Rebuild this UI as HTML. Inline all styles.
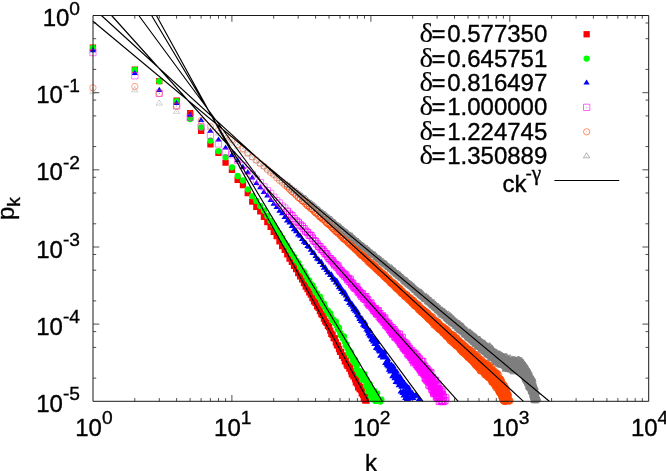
<!DOCTYPE html>
<html lang="en"><head><meta charset="utf-8"><title>p_k vs k</title>
<style>
html,body{margin:0;padding:0;background:#fff}
svg{display:block}
text{font-family:"Liberation Sans",sans-serif;font-size:24px;fill:#000;stroke:#000;stroke-width:.35px}
.g{font-family:"Liberation Serif",serif}
.s{font-size:19.2px}
.d{stroke-width:.1px}
</style></head>
<body>
<svg width="666" height="471" viewBox="0 0 666 471">
<rect width="666" height="471" fill="#fff"/>
<path d="M134.8 401.3v-3.2M134.8 15.5v3.2M159.3 401.3v-3.2M159.3 15.5v3.2M176.6 401.3v-3.2M176.6 15.5v3.2M190.1 401.3v-3.2M190.1 15.5v3.2M201.1 401.3v-3.2M201.1 15.5v3.2M210.4 401.3v-3.2M210.4 15.5v3.2M218.5 401.3v-3.2M218.5 15.5v3.2M225.6 401.3v-3.2M225.6 15.5v3.2M231.9 401.3v-6.3M231.9 15.5v6.3M273.7 401.3v-3.2M273.7 15.5v3.2M298.2 401.3v-3.2M298.2 15.5v3.2M315.6 401.3v-3.2M315.6 15.5v3.2M329 401.3v-3.2M329 15.5v3.2M340 401.3v-3.2M340 15.5v3.2M349.3 401.3v-3.2M349.3 15.5v3.2M357.4 401.3v-3.2M357.4 15.5v3.2M364.5 401.3v-3.2M364.5 15.5v3.2M370.9 401.3v-6.3M370.9 15.5v6.3M412.7 401.3v-3.2M412.7 15.5v3.2M437.1 401.3v-3.2M437.1 15.5v3.2M454.5 401.3v-3.2M454.5 15.5v3.2M468 401.3v-3.2M468 15.5v3.2M479 401.3v-3.2M479 15.5v3.2M488.3 401.3v-3.2M488.3 15.5v3.2M496.3 401.3v-3.2M496.3 15.5v3.2M503.4 401.3v-3.2M503.4 15.5v3.2M509.8 401.3v-6.3M509.8 15.5v6.3M551.6 401.3v-3.2M551.6 15.5v3.2M576.1 401.3v-3.2M576.1 15.5v3.2M593.4 401.3v-3.2M593.4 15.5v3.2M606.9 401.3v-3.2M606.9 15.5v3.2M617.9 401.3v-3.2M617.9 15.5v3.2M627.2 401.3v-3.2M627.2 15.5v3.2M635.2 401.3v-3.2M635.2 15.5v3.2M642.3 401.3v-3.2M642.3 15.5v3.2M93 23h3.2M648.7 23h-3.2M93 38.7h3.2M648.7 38.7h-3.2M93 69.4h3.2M648.7 69.4h-3.2M93 92.7h6.3M648.7 92.7h-6.3M93 100.1h3.2M648.7 100.1h-3.2M93 115.9h3.2M648.7 115.9h-3.2M93 146.6h3.2M648.7 146.6h-3.2M93 169.8h6.3M648.7 169.8h-6.3M93 177.3h3.2M648.7 177.3h-3.2M93 193h3.2M648.7 193h-3.2M93 223.8h3.2M648.7 223.8h-3.2M93 247h6.3M648.7 247h-6.3M93 254.5h3.2M648.7 254.5h-3.2M93 270.2h3.2M648.7 270.2h-3.2M93 300.9h3.2M648.7 300.9h-3.2M93 324.1h6.3M648.7 324.1h-6.3M93 331.6h3.2M648.7 331.6h-3.2M93 347.4h3.2M648.7 347.4h-3.2M93 378.1h3.2M648.7 378.1h-3.2" fill="none" stroke="#222" stroke-width="0.8"/>
<path d="M89.8 44.6h6.3v6.3h-6.3zM131.7 66.5h6.3v6.3h-6.3zM156.1 78h6.3v6.3h-6.3zM173.5 97.6h6.3v6.3h-6.3zM187 110h6.3v6.3h-6.3zM198 127.7h6.3v6.3h-6.3zM207.3 141.3h6.3v6.3h-6.3zM215.3 149.8h6.3v6.3h-6.3zM222.4 159.4h6.3v6.3h-6.3zM228.8 166.6h6.3v6.3h-6.3zM234.5 176.8h6.3v6.3h-6.3zM239.8 181.9h6.3v6.3h-6.3zM244.6 190h6.3v6.3h-6.3zM249.1 198.5h6.3v6.3h-6.3zM253.2 203.6h6.3v6.3h-6.3zM257.1 208.2h6.3v6.3h-6.3zM260.8 213.6h6.3v6.3h-6.3zM264.2 219h6.3v6.3h-6.3zM267.5 223.8h6.3v6.3h-6.3zM270.6 228.7h6.3v6.3h-6.3zM273.5 233h6.3v6.3h-6.3zM276.3 238.2h6.3v6.3h-6.3zM279 242.9h6.3v6.3h-6.3zM281.6 246.8h6.3v6.3h-6.3zM284.1 251.3h6.3v6.3h-6.3zM286.4 255.5h6.3v6.3h-6.3zM288.7 258.8h6.3v6.3h-6.3zM290.9 262.8h6.3v6.3h-6.3zM293 265.9h6.3v6.3h-6.3zM295.1 269.9h6.3v6.3h-6.3zM297 273.3h6.3v6.3h-6.3zM299 276.1h6.3v6.3h-6.3zM300.8 280h6.3v6.3h-6.3zM302.6 283.4h6.3v6.3h-6.3zM304.4 285.9h6.3v6.3h-6.3zM306.1 289.3h6.3v6.3h-6.3zM307.7 291.5h6.3v6.3h-6.3zM309.3 294.9h6.3v6.3h-6.3zM310.9 298.1h6.3v6.3h-6.3zM312.4 299.7h6.3v6.3h-6.3zM313.9 303.3h6.3v6.3h-6.3zM315.4 304.7h6.3v6.3h-6.3zM316.8 307.9h6.3v6.3h-6.3zM318.2 310.9h6.3v6.3h-6.3zM319.5 312h6.3v6.3h-6.3zM320.8 315.4h6.3v6.3h-6.3zM322.1 318.3h6.3v6.3h-6.3zM323.4 319.7h6.3v6.3h-6.3zM324.7 322.8h6.3v6.3h-6.3zM325.9 324h6.3v6.3h-6.3zM327.1 327.4h6.3v6.3h-6.3zM328.2 330.6h6.3v6.3h-6.3zM329.4 331.7h6.3v6.3h-6.3zM330.5 334.9h6.3v6.3h-6.3zM331.6 335.3h6.3v6.3h-6.3zM332.7 339.2h6.3v6.3h-6.3zM333.8 342h6.3v6.3h-6.3zM334.8 342.4h6.3v6.3h-6.3zM335.9 346h6.3v6.3h-6.3zM336.9 348.8h6.3v6.3h-6.3zM337.9 348.8h6.3v6.3h-6.3zM338.9 352.6h6.3v6.3h-6.3zM339.8 352.2h6.3v6.3h-6.3zM340.8 354.8h6.3v6.3h-6.3zM341.7 358.1h6.3v6.3h-6.3zM342.6 357.4h6.3v6.3h-6.3zM343.5 361.1h6.3v6.3h-6.3zM344.4 362.8h6.3v6.3h-6.3zM345.3 362.8h6.3v6.3h-6.3zM346.2 365.5h6.3v6.3h-6.3zM347 364.3h6.3v6.3h-6.3zM347.9 368.2h6.3v6.3h-6.3zM348.7 371.1h6.3v6.3h-6.3zM349.5 370.1h6.3v6.3h-6.3zM350.3 373.3h6.3v6.3h-6.3zM351.1 371.1h6.3v6.3h-6.3zM351.9 375.9h6.3v6.3h-6.3zM352.7 379.3h6.3v6.3h-6.3zM353.5 377h6.3v6.3h-6.3zM354.2 380.6h6.3v6.3h-6.3zM355 384.2h6.3v6.3h-6.3zM355.7 382.5h6.3v6.3h-6.3zM356.5 385.9h6.3v6.3h-6.3zM357.2 383.7h6.3v6.3h-6.3zM357.9 386.9h6.3v6.3h-6.3zM358.6 390.2h6.3v6.3h-6.3zM359.3 388.4h6.3v6.3h-6.3zM360 391.7h6.3v6.3h-6.3zM360.7 395h6.3v6.3h-6.3zM361.3 393.4h6.3v6.3h-6.3zM362 397.2h6.3v6.3h-6.3zM362.7 394.2h6.3v6.3h-6.3zM363.3 397.4h6.3v6.3h-6.3z" fill="#ff0000"/>
<path d="M89.8 47.7a3.1 3.1 0 1 0 6.3 0a3.1 3.1 0 1 0 -6.3 0zM131.7 69.7a3.1 3.1 0 1 0 6.3 0a3.1 3.1 0 1 0 -6.3 0zM156.1 81.2a3.1 3.1 0 1 0 6.3 0a3.1 3.1 0 1 0 -6.3 0zM173.5 101.2a3.1 3.1 0 1 0 6.3 0a3.1 3.1 0 1 0 -6.3 0zM187 119a3.1 3.1 0 1 0 6.3 0a3.1 3.1 0 1 0 -6.3 0zM198 127.5a3.1 3.1 0 1 0 6.3 0a3.1 3.1 0 1 0 -6.3 0zM207.3 140.7a3.1 3.1 0 1 0 6.3 0a3.1 3.1 0 1 0 -6.3 0zM215.3 151.1a3.1 3.1 0 1 0 6.3 0a3.1 3.1 0 1 0 -6.3 0zM222.4 157.2a3.1 3.1 0 1 0 6.3 0a3.1 3.1 0 1 0 -6.3 0zM228.8 167.3a3.1 3.1 0 1 0 6.3 0a3.1 3.1 0 1 0 -6.3 0zM234.5 176a3.1 3.1 0 1 0 6.3 0a3.1 3.1 0 1 0 -6.3 0zM239.8 180.5a3.1 3.1 0 1 0 6.3 0a3.1 3.1 0 1 0 -6.3 0zM244.6 189.3a3.1 3.1 0 1 0 6.3 0a3.1 3.1 0 1 0 -6.3 0zM249.1 196.2a3.1 3.1 0 1 0 6.3 0a3.1 3.1 0 1 0 -6.3 0zM253.2 200.9a3.1 3.1 0 1 0 6.3 0a3.1 3.1 0 1 0 -6.3 0zM257.1 206a3.1 3.1 0 1 0 6.3 0a3.1 3.1 0 1 0 -6.3 0zM260.8 210.4a3.1 3.1 0 1 0 6.3 0a3.1 3.1 0 1 0 -6.3 0zM264.2 216a3.1 3.1 0 1 0 6.3 0a3.1 3.1 0 1 0 -6.3 0zM267.5 221a3.1 3.1 0 1 0 6.3 0a3.1 3.1 0 1 0 -6.3 0zM270.6 225a3.1 3.1 0 1 0 6.3 0a3.1 3.1 0 1 0 -6.3 0zM273.5 229.8a3.1 3.1 0 1 0 6.3 0a3.1 3.1 0 1 0 -6.3 0zM276.3 233.3a3.1 3.1 0 1 0 6.3 0a3.1 3.1 0 1 0 -6.3 0zM279 238a3.1 3.1 0 1 0 6.3 0a3.1 3.1 0 1 0 -6.3 0zM281.6 242.6a3.1 3.1 0 1 0 6.3 0a3.1 3.1 0 1 0 -6.3 0zM284.1 245.6a3.1 3.1 0 1 0 6.3 0a3.1 3.1 0 1 0 -6.3 0zM286.4 250.1a3.1 3.1 0 1 0 6.3 0a3.1 3.1 0 1 0 -6.3 0zM288.7 253.9a3.1 3.1 0 1 0 6.3 0a3.1 3.1 0 1 0 -6.3 0zM290.9 256.7a3.1 3.1 0 1 0 6.3 0a3.1 3.1 0 1 0 -6.3 0zM293 260.6a3.1 3.1 0 1 0 6.3 0a3.1 3.1 0 1 0 -6.3 0zM295.1 262.8a3.1 3.1 0 1 0 6.3 0a3.1 3.1 0 1 0 -6.3 0zM297 266.9a3.1 3.1 0 1 0 6.3 0a3.1 3.1 0 1 0 -6.3 0zM299 270.5a3.1 3.1 0 1 0 6.3 0a3.1 3.1 0 1 0 -6.3 0zM300.8 272a3.1 3.1 0 1 0 6.3 0a3.1 3.1 0 1 0 -6.3 0zM302.6 275.6a3.1 3.1 0 1 0 6.3 0a3.1 3.1 0 1 0 -6.3 0zM304.4 279.2a3.1 3.1 0 1 0 6.3 0a3.1 3.1 0 1 0 -6.3 0zM306.1 280.7a3.1 3.1 0 1 0 6.3 0a3.1 3.1 0 1 0 -6.3 0zM307.7 284.2a3.1 3.1 0 1 0 6.3 0a3.1 3.1 0 1 0 -6.3 0zM309.3 285.4a3.1 3.1 0 1 0 6.3 0a3.1 3.1 0 1 0 -6.3 0zM310.9 288.7a3.1 3.1 0 1 0 6.3 0a3.1 3.1 0 1 0 -6.3 0zM312.4 292.4a3.1 3.1 0 1 0 6.3 0a3.1 3.1 0 1 0 -6.3 0zM313.9 293.4a3.1 3.1 0 1 0 6.3 0a3.1 3.1 0 1 0 -6.3 0zM315.4 296.6a3.1 3.1 0 1 0 6.3 0a3.1 3.1 0 1 0 -6.3 0zM316.8 296.6a3.1 3.1 0 1 0 6.3 0a3.1 3.1 0 1 0 -6.3 0zM318.2 300.4a3.1 3.1 0 1 0 6.3 0a3.1 3.1 0 1 0 -6.3 0zM319.5 304.1a3.1 3.1 0 1 0 6.3 0a3.1 3.1 0 1 0 -6.3 0zM320.8 304a3.1 3.1 0 1 0 6.3 0a3.1 3.1 0 1 0 -6.3 0zM322.1 307.7a3.1 3.1 0 1 0 6.3 0a3.1 3.1 0 1 0 -6.3 0zM323.4 310.4a3.1 3.1 0 1 0 6.3 0a3.1 3.1 0 1 0 -6.3 0zM324.7 310.7a3.1 3.1 0 1 0 6.3 0a3.1 3.1 0 1 0 -6.3 0zM325.9 314a3.1 3.1 0 1 0 6.3 0a3.1 3.1 0 1 0 -6.3 0zM327.1 313.4a3.1 3.1 0 1 0 6.3 0a3.1 3.1 0 1 0 -6.3 0zM328.2 317.1a3.1 3.1 0 1 0 6.3 0a3.1 3.1 0 1 0 -6.3 0zM329.4 320.4a3.1 3.1 0 1 0 6.3 0a3.1 3.1 0 1 0 -6.3 0zM330.5 320a3.1 3.1 0 1 0 6.3 0a3.1 3.1 0 1 0 -6.3 0zM331.6 323.1a3.1 3.1 0 1 0 6.3 0a3.1 3.1 0 1 0 -6.3 0zM332.7 321.7a3.1 3.1 0 1 0 6.3 0a3.1 3.1 0 1 0 -6.3 0zM333.8 325.9a3.1 3.1 0 1 0 6.3 0a3.1 3.1 0 1 0 -6.3 0zM334.8 329.3a3.1 3.1 0 1 0 6.3 0a3.1 3.1 0 1 0 -6.3 0zM335.9 327.9a3.1 3.1 0 1 0 6.3 0a3.1 3.1 0 1 0 -6.3 0zM336.9 332.6a3.1 3.1 0 1 0 6.3 0a3.1 3.1 0 1 0 -6.3 0zM337.9 335.6a3.1 3.1 0 1 0 6.3 0a3.1 3.1 0 1 0 -6.3 0zM338.9 335.7a3.1 3.1 0 1 0 6.3 0a3.1 3.1 0 1 0 -6.3 0zM339.8 338.6a3.1 3.1 0 1 0 6.3 0a3.1 3.1 0 1 0 -6.3 0zM340.8 336.4a3.1 3.1 0 1 0 6.3 0a3.1 3.1 0 1 0 -6.3 0zM341.7 341.8a3.1 3.1 0 1 0 6.3 0a3.1 3.1 0 1 0 -6.3 0zM342.6 345.5a3.1 3.1 0 1 0 6.3 0a3.1 3.1 0 1 0 -6.3 0zM343.5 344.4a3.1 3.1 0 1 0 6.3 0a3.1 3.1 0 1 0 -6.3 0zM344.4 348.6a3.1 3.1 0 1 0 6.3 0a3.1 3.1 0 1 0 -6.3 0zM345.3 352.9a3.1 3.1 0 1 0 6.3 0a3.1 3.1 0 1 0 -6.3 0zM346.2 350.6a3.1 3.1 0 1 0 6.3 0a3.1 3.1 0 1 0 -6.3 0zM347 355.4a3.1 3.1 0 1 0 6.3 0a3.1 3.1 0 1 0 -6.3 0zM347.9 352.4a3.1 3.1 0 1 0 6.3 0a3.1 3.1 0 1 0 -6.3 0zM348.7 357.1a3.1 3.1 0 1 0 6.3 0a3.1 3.1 0 1 0 -6.3 0zM349.5 360.3a3.1 3.1 0 1 0 6.3 0a3.1 3.1 0 1 0 -6.3 0zM350.3 359a3.1 3.1 0 1 0 6.3 0a3.1 3.1 0 1 0 -6.3 0zM351.1 362.4a3.1 3.1 0 1 0 6.3 0a3.1 3.1 0 1 0 -6.3 0zM351.9 359.6a3.1 3.1 0 1 0 6.3 0a3.1 3.1 0 1 0 -6.3 0zM352.7 364.9a3.1 3.1 0 1 0 6.3 0a3.1 3.1 0 1 0 -6.3 0zM353.5 369.2a3.1 3.1 0 1 0 6.3 0a3.1 3.1 0 1 0 -6.3 0zM354.2 364.4a3.1 3.1 0 1 0 6.3 0a3.1 3.1 0 1 0 -6.3 0zM355 371a3.1 3.1 0 1 0 6.3 0a3.1 3.1 0 1 0 -6.3 0zM355.7 373.6a3.1 3.1 0 1 0 6.3 0a3.1 3.1 0 1 0 -6.3 0zM356.5 371.1a3.1 3.1 0 1 0 6.3 0a3.1 3.1 0 1 0 -6.3 0zM357.2 375.2a3.1 3.1 0 1 0 6.3 0a3.1 3.1 0 1 0 -6.3 0zM357.9 371.7a3.1 3.1 0 1 0 6.3 0a3.1 3.1 0 1 0 -6.3 0zM358.6 375.5a3.1 3.1 0 1 0 6.3 0a3.1 3.1 0 1 0 -6.3 0zM359.3 379.8a3.1 3.1 0 1 0 6.3 0a3.1 3.1 0 1 0 -6.3 0zM360 375.8a3.1 3.1 0 1 0 6.3 0a3.1 3.1 0 1 0 -6.3 0zM360.7 379.7a3.1 3.1 0 1 0 6.3 0a3.1 3.1 0 1 0 -6.3 0zM361.3 374.2a3.1 3.1 0 1 0 6.3 0a3.1 3.1 0 1 0 -6.3 0zM362 380.5a3.1 3.1 0 1 0 6.3 0a3.1 3.1 0 1 0 -6.3 0zM362.7 385.6a3.1 3.1 0 1 0 6.3 0a3.1 3.1 0 1 0 -6.3 0zM363.3 379.5a3.1 3.1 0 1 0 6.3 0a3.1 3.1 0 1 0 -6.3 0zM364 386.9a3.1 3.1 0 1 0 6.3 0a3.1 3.1 0 1 0 -6.3 0zM364.6 391.2a3.1 3.1 0 1 0 6.3 0a3.1 3.1 0 1 0 -6.3 0zM365.2 385.8a3.1 3.1 0 1 0 6.3 0a3.1 3.1 0 1 0 -6.3 0zM365.9 390.2a3.1 3.1 0 1 0 6.3 0a3.1 3.1 0 1 0 -6.3 0zM366.5 383.9a3.1 3.1 0 1 0 6.3 0a3.1 3.1 0 1 0 -6.3 0zM367.1 391.5a3.1 3.1 0 1 0 6.3 0a3.1 3.1 0 1 0 -6.3 0zM367.7 396.2a3.1 3.1 0 1 0 6.3 0a3.1 3.1 0 1 0 -6.3 0zM368.3 389a3.1 3.1 0 1 0 6.3 0a3.1 3.1 0 1 0 -6.3 0zM368.9 393.9a3.1 3.1 0 1 0 6.3 0a3.1 3.1 0 1 0 -6.3 0zM369.5 399.3a3.1 3.1 0 1 0 6.3 0a3.1 3.1 0 1 0 -6.3 0zM370.1 393.8a3.1 3.1 0 1 0 6.3 0a3.1 3.1 0 1 0 -6.3 0zM370.6 398.6a3.1 3.1 0 1 0 6.3 0a3.1 3.1 0 1 0 -6.3 0zM371.2 390.9a3.1 3.1 0 1 0 6.3 0a3.1 3.1 0 1 0 -6.3 0zM371.8 396.4a3.1 3.1 0 1 0 6.3 0a3.1 3.1 0 1 0 -6.3 0zM372.3 400.9a3.1 3.1 0 1 0 6.3 0a3.1 3.1 0 1 0 -6.3 0zM372.9 394.6a3.1 3.1 0 1 0 6.3 0a3.1 3.1 0 1 0 -6.3 0zM374 393.3a3.1 3.1 0 1 0 6.3 0a3.1 3.1 0 1 0 -6.3 0zM374.5 399.7a3.1 3.1 0 1 0 6.3 0a3.1 3.1 0 1 0 -6.3 0zM375.6 399.4a3.1 3.1 0 1 0 6.3 0a3.1 3.1 0 1 0 -6.3 0zM377.2 401.6a3.1 3.1 0 1 0 6.3 0a3.1 3.1 0 1 0 -6.3 0zM378.2 399.7a3.1 3.1 0 1 0 6.3 0a3.1 3.1 0 1 0 -6.3 0z" fill="#00ff00"/>
<path d="M93 47.1l3.1 5.1h-6.3zM134.8 70l3.1 5.1h-6.3zM159.3 86.8l3.1 5.1h-6.3zM176.6 100l3.1 5.1h-6.3zM190.1 111.8l3.1 5.1h-6.3zM201.1 116.9l3.1 5.1h-6.3zM210.4 127.7l3.1 5.1h-6.3zM218.5 136.5l3.1 5.1h-6.3zM225.6 144.4l3.1 5.1h-6.3zM231.9 151.8l3.1 5.1h-6.3zM237.7 157.2l3.1 5.1h-6.3zM242.9 163.8l3.1 5.1h-6.3zM247.8 169.1l3.1 5.1h-6.3zM252.2 174.5l3.1 5.1h-6.3zM256.4 179.9l3.1 5.1h-6.3zM260.3 184.2l3.1 5.1h-6.3zM263.9 188.8l3.1 5.1h-6.3zM267.4 192.3l3.1 5.1h-6.3zM270.7 196.8l3.1 5.1h-6.3zM273.7 200.7l3.1 5.1h-6.3zM276.7 203.8l3.1 5.1h-6.3zM279.5 207.7l3.1 5.1h-6.3zM282.2 210.2l3.1 5.1h-6.3zM284.7 214l3.1 5.1h-6.3zM287.2 217.4l3.1 5.1h-6.3zM289.6 219.4l3.1 5.1h-6.3zM291.9 222.9l3.1 5.1h-6.3zM294 226.2l3.1 5.1h-6.3zM296.2 228.1l3.1 5.1h-6.3zM298.2 231.4l3.1 5.1h-6.3zM300.2 232.7l3.1 5.1h-6.3zM302.1 235.9l3.1 5.1h-6.3zM304 238.6l3.1 5.1h-6.3zM305.8 239.8l3.1 5.1h-6.3zM307.5 242.9l3.1 5.1h-6.3zM309.2 243.7l3.1 5.1h-6.3zM310.9 246.6l3.1 5.1h-6.3zM312.5 249.7l3.1 5.1h-6.3zM314 249.8l3.1 5.1h-6.3zM315.6 253l3.1 5.1h-6.3zM317.1 255.4l3.1 5.1h-6.3zM318.5 256.2l3.1 5.1h-6.3zM319.9 259l3.1 5.1h-6.3zM321.3 258.8l3.1 5.1h-6.3zM322.7 261.9l3.1 5.1h-6.3zM324 264.6l3.1 5.1h-6.3zM325.3 264.3l3.1 5.1h-6.3zM326.6 267l3.1 5.1h-6.3zM327.8 269.3l3.1 5.1h-6.3zM329 269.5l3.1 5.1h-6.3zM330.2 272l3.1 5.1h-6.3zM331.4 271.3l3.1 5.1h-6.3zM332.5 274.7l3.1 5.1h-6.3zM333.7 276.6l3.1 5.1h-6.3zM334.8 276l3.1 5.1h-6.3zM335.9 279.3l3.1 5.1h-6.3zM336.9 277.8l3.1 5.1h-6.3zM338 281.3l3.1 5.1h-6.3zM339 284.1l3.1 5.1h-6.3zM340 282.8l3.1 5.1h-6.3zM341 285.8l3.1 5.1h-6.3zM342 288.9l3.1 5.1h-6.3zM343 287.5l3.1 5.1h-6.3zM343.9 290.5l3.1 5.1h-6.3zM344.9 289.3l3.1 5.1h-6.3zM345.8 292.5l3.1 5.1h-6.3zM346.7 295.8l3.1 5.1h-6.3zM347.6 294.2l3.1 5.1h-6.3zM348.5 296.7l3.1 5.1h-6.3zM349.3 300l3.1 5.1h-6.3zM350.2 298.9l3.1 5.1h-6.3zM351 301.6l3.1 5.1h-6.3zM351.9 300.4l3.1 5.1h-6.3zM352.7 303.5l3.1 5.1h-6.3zM353.5 306.1l3.1 5.1h-6.3zM354.3 304.2l3.1 5.1h-6.3zM355.1 307.6l3.1 5.1h-6.3zM355.9 305.9l3.1 5.1h-6.3zM356.6 309.2l3.1 5.1h-6.3zM357.4 311.8l3.1 5.1h-6.3zM358.1 309.3l3.1 5.1h-6.3zM358.9 313.5l3.1 5.1h-6.3zM359.6 316l3.1 5.1h-6.3zM360.3 314.7l3.1 5.1h-6.3zM361 317.8l3.1 5.1h-6.3zM361.8 315.1l3.1 5.1h-6.3zM362.4 318.5l3.1 5.1h-6.3zM363.1 321.7l3.1 5.1h-6.3zM363.8 318.8l3.1 5.1h-6.3zM364.5 322.8l3.1 5.1h-6.3zM365.2 319.4l3.1 5.1h-6.3zM365.8 323.6l3.1 5.1h-6.3zM366.5 326.5l3.1 5.1h-6.3zM367.1 323.9l3.1 5.1h-6.3zM367.8 327.7l3.1 5.1h-6.3zM368.4 330.3l3.1 5.1h-6.3zM369 328.1l3.1 5.1h-6.3zM369.6 332.3l3.1 5.1h-6.3zM370.2 327.7l3.1 5.1h-6.3zM370.9 333.3l3.1 5.1h-6.3zM371.5 336.1l3.1 5.1h-6.3zM372 333l3.1 5.1h-6.3zM372.6 337l3.1 5.1h-6.3zM373.2 338.5l3.1 5.1h-6.3zM373.8 335.6l3.1 5.1h-6.3zM374.4 340.9l3.1 5.1h-6.3zM374.9 335.9l3.1 5.1h-6.3zM375.5 340.6l3.1 5.1h-6.3zM376 344.7l3.1 5.1h-6.3zM376.6 340.8l3.1 5.1h-6.3zM377.1 345.1l3.1 5.1h-6.3zM377.7 339l3.1 5.1h-6.3zM378.2 345.7l3.1 5.1h-6.3zM378.8 347.3l3.1 5.1h-6.3zM379.3 344.6l3.1 5.1h-6.3zM379.8 348.5l3.1 5.1h-6.3zM380.3 352.7l3.1 5.1h-6.3zM380.8 348.1l3.1 5.1h-6.3zM381.3 352.7l3.1 5.1h-6.3zM381.9 347.8l3.1 5.1h-6.3zM382.4 351.6l3.1 5.1h-6.3zM382.8 354.4l3.1 5.1h-6.3zM383.3 350.4l3.1 5.1h-6.3zM383.8 354.1l3.1 5.1h-6.3zM384.3 348.6l3.1 5.1h-6.3zM384.8 354.3l3.1 5.1h-6.3zM385.3 359.8l3.1 5.1h-6.3zM385.7 352.9l3.1 5.1h-6.3zM386.2 359.1l3.1 5.1h-6.3zM386.7 361.5l3.1 5.1h-6.3zM387.1 357.7l3.1 5.1h-6.3zM387.6 362.4l3.1 5.1h-6.3zM388.1 356.2l3.1 5.1h-6.3zM388.5 363.4l3.1 5.1h-6.3zM389 366.6l3.1 5.1h-6.3zM389.4 360.5l3.1 5.1h-6.3zM389.8 364.6l3.1 5.1h-6.3zM390.3 368.5l3.1 5.1h-6.3zM390.7 365.5l3.1 5.1h-6.3zM391.2 367.6l3.1 5.1h-6.3zM391.6 361.4l3.1 5.1h-6.3zM392 368.3l3.1 5.1h-6.3zM392.4 373.1l3.1 5.1h-6.3zM392.9 365.3l3.1 5.1h-6.3zM393.3 371.6l3.1 5.1h-6.3zM393.7 363.5l3.1 5.1h-6.3zM394.1 371.1l3.1 5.1h-6.3zM394.5 375.1l3.1 5.1h-6.3zM394.9 367.1l3.1 5.1h-6.3zM395.3 374.9l3.1 5.1h-6.3zM395.7 379l3.1 5.1h-6.3zM396.1 371l3.1 5.1h-6.3zM396.5 377.7l3.1 5.1h-6.3zM396.9 368.4l3.1 5.1h-6.3zM397.3 375.7l3.1 5.1h-6.3zM397.7 379l3.1 5.1h-6.3zM398.1 373.1l3.1 5.1h-6.3zM398.4 379.4l3.1 5.1h-6.3zM398.8 382.1l3.1 5.1h-6.3zM399.2 377.1l3.1 5.1h-6.3zM399.6 382l3.1 5.1h-6.3zM400 373.2l3.1 5.1h-6.3zM400.3 380.8l3.1 5.1h-6.3zM400.7 388.4l3.1 5.1h-6.3zM401.1 379.5l3.1 5.1h-6.3zM401.4 383.7l3.1 5.1h-6.3zM401.8 376l3.1 5.1h-6.3zM402.2 382.2l3.1 5.1h-6.3zM402.5 389.9l3.1 5.1h-6.3zM402.9 380l3.1 5.1h-6.3zM403.2 388l3.1 5.1h-6.3zM403.6 392.4l3.1 5.1h-6.3zM403.9 383.1l3.1 5.1h-6.3zM404.3 389.5l3.1 5.1h-6.3zM404.6 379.9l3.1 5.1h-6.3zM405 388.1l3.1 5.1h-6.3zM405.3 394.8l3.1 5.1h-6.3zM405.6 387.2l3.1 5.1h-6.3zM406 391.9l3.1 5.1h-6.3zM406.3 382.3l3.1 5.1h-6.3zM406.6 389.3l3.1 5.1h-6.3zM407 396l3.1 5.1h-6.3zM407.3 383.3l3.1 5.1h-6.3zM407.6 392.9l3.1 5.1h-6.3zM408.3 388.9l3.1 5.1h-6.3zM408.6 395.6l3.1 5.1h-6.3zM408.9 384.6l3.1 5.1h-6.3zM409.3 395l3.1 5.1h-6.3zM409.9 388.5l3.1 5.1h-6.3zM410.8 393.4l3.1 5.1h-6.3zM411.5 389.9l3.1 5.1h-6.3zM412.4 389.7l3.1 5.1h-6.3zM413 390.9l3.1 5.1h-6.3zM413.3 395l3.1 5.1h-6.3zM413.9 393.2l3.1 5.1h-6.3zM415.3 391.9l3.1 5.1h-6.3zM416.8 392.6l3.1 5.1h-6.3zM419 395.9l3.1 5.1h-6.3z" fill="#0000ff"/>
<path d="M89.8 49.4h6.3v6.3h-6.3zM131.7 72.6h6.3v6.3h-6.3zM156.1 90.2h6.3v6.3h-6.3zM173.5 102.8h6.3v6.3h-6.3zM187 114.3h6.3v6.3h-6.3zM198 123.8h6.3v6.3h-6.3zM207.3 132.1h6.3v6.3h-6.3zM215.3 140.8h6.3v6.3h-6.3zM222.4 148.8h6.3v6.3h-6.3zM228.8 151.6h6.3v6.3h-6.3zM234.5 157.1h6.3v6.3h-6.3zM239.8 162.6h6.3v6.3h-6.3zM244.6 167.6h6.3v6.3h-6.3zM249.1 171.7h6.3v6.3h-6.3zM253.2 176h6.3v6.3h-6.3zM257.1 179.5h6.3v6.3h-6.3zM260.8 183.7h6.3v6.3h-6.3zM264.2 187.5h6.3v6.3h-6.3zM267.5 190.4h6.3v6.3h-6.3zM270.6 194.1h6.3v6.3h-6.3zM273.5 197.4h6.3v6.3h-6.3zM276.3 199.8h6.3v6.3h-6.3zM279 203h6.3v6.3h-6.3zM281.6 204.9h6.3v6.3h-6.3z" fill="none" stroke="#ff00ff" stroke-width="0.5"/>
<path d="M92.7 52.2h.6v.6h-.6zM134.5 75.5h.6v.6h-.6zM159 93.1h.6v.6h-.6zM176.3 105.7h.6v.6h-.6zM189.8 117.2h.6v.6h-.6zM200.8 126.6h.6v.6h-.6zM210.1 134.9h.6v.6h-.6zM218.2 143.7h.6v.6h-.6zM225.3 151.7h.6v.6h-.6zM231.6 154.5h.6v.6h-.6zM237.4 159.9h.6v.6h-.6zM242.6 165.4h.6v.6h-.6zM247.5 170.4h.6v.6h-.6zM251.9 174.5h.6v.6h-.6zM256.1 178.9h.6v.6h-.6zM260 182.4h.6v.6h-.6zM263.6 186.5h.6v.6h-.6zM267.1 190.4h.6v.6h-.6zM270.4 193.3h.6v.6h-.6zM273.4 196.9h.6v.6h-.6zM276.4 200.3h.6v.6h-.6zM279.2 202.6h.6v.6h-.6zM281.9 205.9h.6v.6h-.6zM284.4 207.8h.6v.6h-.6z" fill="#ff00ff"/>
<path d="M284.1 208.1h6.3v6.3h-6.3zM286.4 211h6.3v6.3h-6.3zM288.7 212.6h6.3v6.3h-6.3zM290.9 215.4h6.3v6.3h-6.3zM293 217.9h6.3v6.3h-6.3zM295.1 219.2h6.3v6.3h-6.3zM297 221.8h6.3v6.3h-6.3zM299 223.1h6.3v6.3h-6.3zM300.8 225.5h6.3v6.3h-6.3zM302.6 228.1h6.3v6.3h-6.3zM304.4 229.3h6.3v6.3h-6.3zM306.1 232h6.3v6.3h-6.3zM307.7 232.3h6.3v6.3h-6.3zM309.3 235.1h6.3v6.3h-6.3zM310.9 237.6h6.3v6.3h-6.3zM312.4 238.2h6.3v6.3h-6.3zM313.9 240.8h6.3v6.3h-6.3zM315.4 243.1h6.3v6.3h-6.3zM316.8 243.6h6.3v6.3h-6.3zM318.2 246.3h6.3v6.3h-6.3zM319.5 246.3h6.3v6.3h-6.3zM320.8 248.3h6.3v6.3h-6.3zM322.1 250.5h6.3v6.3h-6.3zM323.4 250.8h6.3v6.3h-6.3zM324.7 253.2h6.3v6.3h-6.3zM325.9 255.3h6.3v6.3h-6.3zM327.1 255.5h6.3v6.3h-6.3zM328.2 257.8h6.3v6.3h-6.3zM329.4 257.3h6.3v6.3h-6.3zM330.5 259.8h6.3v6.3h-6.3zM331.6 261.8h6.3v6.3h-6.3zM332.7 261.5h6.3v6.3h-6.3zM333.8 263.9h6.3v6.3h-6.3zM334.8 262.8h6.3v6.3h-6.3zM335.9 265.8h6.3v6.3h-6.3zM336.9 267.8h6.3v6.3h-6.3zM337.9 267.7h6.3v6.3h-6.3zM338.9 269.4h6.3v6.3h-6.3zM339.8 271h6.3v6.3h-6.3zM340.8 270.8h6.3v6.3h-6.3zM341.7 273h6.3v6.3h-6.3zM342.6 271.9h6.3v6.3h-6.3zM343.5 274.3h6.3v6.3h-6.3zM344.4 276.5h6.3v6.3h-6.3zM345.3 275.4h6.3v6.3h-6.3zM346.2 278.3h6.3v6.3h-6.3zM347 276.2h6.3v6.3h-6.3zM347.9 279.3h6.3v6.3h-6.3zM348.7 281.6h6.3v6.3h-6.3zM349.5 280.2h6.3v6.3h-6.3zM350.3 282.9h6.3v6.3h-6.3zM351.1 284.6h6.3v6.3h-6.3zM351.9 283.7h6.3v6.3h-6.3zM352.7 285.5h6.3v6.3h-6.3zM353.5 283.7h6.3v6.3h-6.3zM354.2 286.5h6.3v6.3h-6.3zM355 288.8h6.3v6.3h-6.3zM355.7 287.6h6.3v6.3h-6.3zM356.5 289.4h6.3v6.3h-6.3zM357.2 291.4h6.3v6.3h-6.3zM357.9 290.2h6.3v6.3h-6.3zM358.6 293h6.3v6.3h-6.3zM359.3 290.7h6.3v6.3h-6.3zM360 293.8h6.3v6.3h-6.3zM360.7 295.4h6.3v6.3h-6.3zM361.3 293.7h6.3v6.3h-6.3zM362 296.2h6.3v6.3h-6.3zM362.7 293.5h6.3v6.3h-6.3zM363.3 296h6.3v6.3h-6.3zM364 299h6.3v6.3h-6.3zM364.6 296.8h6.3v6.3h-6.3zM365.2 300.5h6.3v6.3h-6.3zM365.9 301.8h6.3v6.3h-6.3zM366.5 300.3h6.3v6.3h-6.3zM367.1 302.5h6.3v6.3h-6.3zM367.7 299.9h6.3v6.3h-6.3zM368.3 302.4h6.3v6.3h-6.3zM368.9 304.6h6.3v6.3h-6.3zM369.5 303.4h6.3v6.3h-6.3zM370.1 305.4h6.3v6.3h-6.3zM370.6 307.2h6.3v6.3h-6.3zM371.2 306h6.3v6.3h-6.3zM371.8 308.1h6.3v6.3h-6.3zM372.3 305.4h6.3v6.3h-6.3zM372.9 309.2h6.3v6.3h-6.3zM373.5 310.7h6.3v6.3h-6.3zM374 308.2h6.3v6.3h-6.3zM374.5 310.9h6.3v6.3h-6.3zM375.1 307.6h6.3v6.3h-6.3zM375.6 311.2h6.3v6.3h-6.3zM376.1 313.7h6.3v6.3h-6.3zM376.7 310.5h6.3v6.3h-6.3zM377.2 313.6h6.3v6.3h-6.3zM377.7 315.1h6.3v6.3h-6.3zM378.2 313.5h6.3v6.3h-6.3zM378.7 316.6h6.3v6.3h-6.3zM379.2 312.7h6.3v6.3h-6.3zM379.7 316.3h6.3v6.3h-6.3zM380.2 318.4h6.3v6.3h-6.3zM380.7 315.8h6.3v6.3h-6.3zM381.2 319.1h6.3v6.3h-6.3zM381.6 314.8h6.3v6.3h-6.3zM382.1 319.3h6.3v6.3h-6.3zM382.6 322h6.3v6.3h-6.3zM383.1 318.7h6.3v6.3h-6.3zM383.5 321h6.3v6.3h-6.3zM384 322.9h6.3v6.3h-6.3zM384.5 320.7h6.3v6.3h-6.3zM384.9 324h6.3v6.3h-6.3zM385.4 320.1h6.3v6.3h-6.3zM385.8 323.6h6.3v6.3h-6.3zM386.3 326.3h6.3v6.3h-6.3zM386.7 322.8h6.3v6.3h-6.3zM387.1 326.6h6.3v6.3h-6.3zM387.6 327.7h6.3v6.3h-6.3zM388 325.9h6.3v6.3h-6.3zM388.4 329h6.3v6.3h-6.3zM388.9 324.5h6.3v6.3h-6.3zM389.3 330.2h6.3v6.3h-6.3zM389.7 331.1h6.3v6.3h-6.3zM390.1 327.7h6.3v6.3h-6.3zM390.5 330.2h6.3v6.3h-6.3zM390.9 326.5h6.3v6.3h-6.3zM391.4 330.4h6.3v6.3h-6.3zM391.8 333.8h6.3v6.3h-6.3zM392.2 328.9h6.3v6.3h-6.3zM392.6 333.4h6.3v6.3h-6.3zM393 334.6h6.3v6.3h-6.3zM393.4 332h6.3v6.3h-6.3zM393.8 334.3h6.3v6.3h-6.3zM394.1 330.6h6.3v6.3h-6.3zM394.5 335h6.3v6.3h-6.3zM394.9 336.6h6.3v6.3h-6.3zM395.3 333.9h6.3v6.3h-6.3zM395.7 337.4h6.3v6.3h-6.3zM396.1 331h6.3v6.3h-6.3zM396.4 335.7h6.3v6.3h-6.3zM396.8 339.2h6.3v6.3h-6.3zM397.2 335.1h6.3v6.3h-6.3zM397.5 339.6h6.3v6.3h-6.3zM397.9 341.2h6.3v6.3h-6.3zM398.3 337h6.3v6.3h-6.3zM398.6 341h6.3v6.3h-6.3zM399 334.3h6.3v6.3h-6.3zM399.4 340.6h6.3v6.3h-6.3zM399.7 343.4h6.3v6.3h-6.3zM400.1 338.7h6.3v6.3h-6.3zM400.4 343.7h6.3v6.3h-6.3zM400.8 345.2h6.3v6.3h-6.3zM401.1 341.2h6.3v6.3h-6.3zM401.5 345.9h6.3v6.3h-6.3zM401.8 339.6h6.3v6.3h-6.3zM402.1 344.3h6.3v6.3h-6.3zM402.5 347.1h6.3v6.3h-6.3zM402.8 342.7h6.3v6.3h-6.3zM403.2 346.9h6.3v6.3h-6.3zM403.5 341h6.3v6.3h-6.3zM403.8 344.7h6.3v6.3h-6.3zM404.2 349.9h6.3v6.3h-6.3zM404.5 343.4h6.3v6.3h-6.3zM404.8 347.8h6.3v6.3h-6.3zM405.1 351.6h6.3v6.3h-6.3zM405.5 346.2h6.3v6.3h-6.3zM405.8 350.8h6.3v6.3h-6.3zM406.1 345.2h6.3v6.3h-6.3zM406.4 349.9h6.3v6.3h-6.3zM406.7 352.4h6.3v6.3h-6.3zM407.1 348.1h6.3v6.3h-6.3zM407.4 351.7h6.3v6.3h-6.3zM407.7 353.9h6.3v6.3h-6.3zM408 349.7h6.3v6.3h-6.3zM408.3 354.4h6.3v6.3h-6.3zM408.6 347.7h6.3v6.3h-6.3zM408.9 353.9h6.3v6.3h-6.3zM409.2 356.8h6.3v6.3h-6.3zM409.5 351.5h6.3v6.3h-6.3zM409.8 356.2h6.3v6.3h-6.3zM410.1 349.3h6.3v6.3h-6.3zM410.4 353.3h6.3v6.3h-6.3zM410.7 359.5h6.3v6.3h-6.3zM411 350.6h6.3v6.3h-6.3zM411.3 356.6h6.3v6.3h-6.3zM411.6 358.1h6.3v6.3h-6.3zM411.9 354.4h6.3v6.3h-6.3zM412.2 358.6h6.3v6.3h-6.3zM412.5 351.1h6.3v6.3h-6.3zM412.8 357.8h6.3v6.3h-6.3zM413 361.1h6.3v6.3h-6.3zM413.3 355.2h6.3v6.3h-6.3zM413.6 359.1h6.3v6.3h-6.3zM413.9 353.5h6.3v6.3h-6.3zM414.2 357.9h6.3v6.3h-6.3zM414.4 362.8h6.3v6.3h-6.3zM414.7 354.4h6.3v6.3h-6.3zM415 361.9h6.3v6.3h-6.3zM415.3 363.9h6.3v6.3h-6.3zM415.5 359.4h6.3v6.3h-6.3zM415.8 363h6.3v6.3h-6.3zM416.1 355.8h6.3v6.3h-6.3zM416.4 361.8h6.3v6.3h-6.3zM416.6 365.5h6.3v6.3h-6.3zM416.9 360.7h6.3v6.3h-6.3zM417.2 364h6.3v6.3h-6.3zM417.4 367h6.3v6.3h-6.3zM417.7 362.9h6.3v6.3h-6.3zM418 366.7h6.3v6.3h-6.3zM418.2 358.4h6.3v6.3h-6.3zM418.5 364.5h6.3v6.3h-6.3zM418.7 369.3h6.3v6.3h-6.3zM419 362.4h6.3v6.3h-6.3zM419.3 368.4h6.3v6.3h-6.3zM419.5 358.2h6.3v6.3h-6.3zM419.8 365.5h6.3v6.3h-6.3zM420 369h6.3v6.3h-6.3zM420.3 362.1h6.3v6.3h-6.3zM420.5 367.5h6.3v6.3h-6.3zM420.8 370.9h6.3v6.3h-6.3zM421 367.6h6.3v6.3h-6.3zM421.3 370.7h6.3v6.3h-6.3zM421.5 363.2h6.3v6.3h-6.3zM421.8 369.1h6.3v6.3h-6.3zM422 374.9h6.3v6.3h-6.3zM422.3 365.6h6.3v6.3h-6.3zM422.5 370.6h6.3v6.3h-6.3zM422.7 375.6h6.3v6.3h-6.3zM423 368.6h6.3v6.3h-6.3zM423.2 375.8h6.3v6.3h-6.3zM423.5 365.6h6.3v6.3h-6.3zM423.7 372.4h6.3v6.3h-6.3zM423.9 377.4h6.3v6.3h-6.3zM424.2 368.9h6.3v6.3h-6.3zM424.4 375.3h6.3v6.3h-6.3zM424.6 366.9h6.3v6.3h-6.3zM424.9 371.9h6.3v6.3h-6.3zM425.1 378.1h6.3v6.3h-6.3zM425.4 368.9h6.3v6.3h-6.3zM425.6 376.3h6.3v6.3h-6.3zM425.8 381.9h6.3v6.3h-6.3zM426 375.2h6.3v6.3h-6.3zM426.3 379.1h6.3v6.3h-6.3zM426.5 370.1h6.3v6.3h-6.3zM426.7 376.4h6.3v6.3h-6.3zM427 382.6h6.3v6.3h-6.3zM427.2 374.8h6.3v6.3h-6.3zM427.4 378.8h6.3v6.3h-6.3zM427.6 369.3h6.3v6.3h-6.3zM427.9 376.3h6.3v6.3h-6.3zM428.1 383.2h6.3v6.3h-6.3zM428.3 374.4h6.3v6.3h-6.3zM428.5 381.1h6.3v6.3h-6.3zM428.7 386h6.3v6.3h-6.3zM429 378.5h6.3v6.3h-6.3zM429.2 383.9h6.3v6.3h-6.3zM429.4 374.5h6.3v6.3h-6.3zM429.6 380.8h6.3v6.3h-6.3zM429.8 387.4h6.3v6.3h-6.3zM430 379h6.3v6.3h-6.3zM430.3 382.3h6.3v6.3h-6.3zM430.5 390.4h6.3v6.3h-6.3zM430.7 381.5h6.3v6.3h-6.3zM430.9 388.3h6.3v6.3h-6.3zM431.1 377.7h6.3v6.3h-6.3zM431.3 386.8h6.3v6.3h-6.3zM431.5 390h6.3v6.3h-6.3zM431.7 382h6.3v6.3h-6.3zM431.9 387.6h6.3v6.3h-6.3zM432.1 377.2h6.3v6.3h-6.3zM432.4 385.7h6.3v6.3h-6.3zM432.6 390h6.3v6.3h-6.3zM432.8 381.2h6.3v6.3h-6.3zM433 388.2h6.3v6.3h-6.3zM433.2 393.6h6.3v6.3h-6.3zM433.4 386.6h6.3v6.3h-6.3zM433.6 392.3h6.3v6.3h-6.3zM433.8 382.7h6.3v6.3h-6.3zM434 388.5h6.3v6.3h-6.3zM434.2 394.6h6.3v6.3h-6.3zM434.4 385.3h6.3v6.3h-6.3zM434.6 391.8h6.3v6.3h-6.3zM434.8 381.2h6.3v6.3h-6.3zM435 388.7h6.3v6.3h-6.3zM435.2 395.2h6.3v6.3h-6.3zM435.4 385.5h6.3v6.3h-6.3zM435.6 392.4h6.3v6.3h-6.3zM436 389.4h6.3v6.3h-6.3zM436.2 398.3h6.3v6.3h-6.3zM436.4 386.6h6.3v6.3h-6.3zM436.5 394.3h6.3v6.3h-6.3zM436.9 390.3h6.3v6.3h-6.3zM437.5 393.3h6.3v6.3h-6.3zM437.9 388.6h6.3v6.3h-6.3zM438.1 397.2h6.3v6.3h-6.3zM438.4 392.1h6.3v6.3h-6.3zM438.8 386.8h6.3v6.3h-6.3zM439 398.3h6.3v6.3h-6.3zM439.4 391.5h6.3v6.3h-6.3zM439.9 398.4h6.3v6.3h-6.3zM440.3 393.8h6.3v6.3h-6.3zM441.7 397.5h6.3v6.3h-6.3zM442.6 394.8h6.3v6.3h-6.3z" fill="none" stroke="#ff00ff" stroke-width="0.85"/>
<path d="M89.8 87.8a3.1 3.1 0 1 0 6.3 0a3.1 3.1 0 1 0 -6.3 0zM131.7 86.5a3.1 3.1 0 1 0 6.3 0a3.1 3.1 0 1 0 -6.3 0zM156.1 93.4a3.1 3.1 0 1 0 6.3 0a3.1 3.1 0 1 0 -6.3 0zM173.5 106a3.1 3.1 0 1 0 6.3 0a3.1 3.1 0 1 0 -6.3 0zM187 114a3.1 3.1 0 1 0 6.3 0a3.1 3.1 0 1 0 -6.3 0zM198 120.5a3.1 3.1 0 1 0 6.3 0a3.1 3.1 0 1 0 -6.3 0zM207.3 126.5a3.1 3.1 0 1 0 6.3 0a3.1 3.1 0 1 0 -6.3 0zM215.3 130.4a3.1 3.1 0 1 0 6.3 0a3.1 3.1 0 1 0 -6.3 0zM222.4 135.5a3.1 3.1 0 1 0 6.3 0a3.1 3.1 0 1 0 -6.3 0zM228.8 139.6a3.1 3.1 0 1 0 6.3 0a3.1 3.1 0 1 0 -6.3 0zM234.5 144.6a3.1 3.1 0 1 0 6.3 0a3.1 3.1 0 1 0 -6.3 0zM239.8 148.7a3.1 3.1 0 1 0 6.3 0a3.1 3.1 0 1 0 -6.3 0zM244.6 153a3.1 3.1 0 1 0 6.3 0a3.1 3.1 0 1 0 -6.3 0zM249.1 156.9a3.1 3.1 0 1 0 6.3 0a3.1 3.1 0 1 0 -6.3 0zM253.2 160.1a3.1 3.1 0 1 0 6.3 0a3.1 3.1 0 1 0 -6.3 0zM257.1 163.7a3.1 3.1 0 1 0 6.3 0a3.1 3.1 0 1 0 -6.3 0zM260.8 166.3a3.1 3.1 0 1 0 6.3 0a3.1 3.1 0 1 0 -6.3 0zM264.2 169.5a3.1 3.1 0 1 0 6.3 0a3.1 3.1 0 1 0 -6.3 0zM267.5 172.4a3.1 3.1 0 1 0 6.3 0a3.1 3.1 0 1 0 -6.3 0zM270.6 174.8a3.1 3.1 0 1 0 6.3 0a3.1 3.1 0 1 0 -6.3 0zM273.5 177.8a3.1 3.1 0 1 0 6.3 0a3.1 3.1 0 1 0 -6.3 0zM276.3 180.4a3.1 3.1 0 1 0 6.3 0a3.1 3.1 0 1 0 -6.3 0zM279 182.4a3.1 3.1 0 1 0 6.3 0a3.1 3.1 0 1 0 -6.3 0zM281.6 185.1a3.1 3.1 0 1 0 6.3 0a3.1 3.1 0 1 0 -6.3 0z" fill="none" stroke="#ff4500" stroke-width="0.5"/>
<path d="M92.7 87.5h.6v.6h-.6zM134.5 86.2h.6v.6h-.6zM159 93.1h.6v.6h-.6zM176.3 105.7h.6v.6h-.6zM189.8 113.7h.6v.6h-.6zM200.8 120.2h.6v.6h-.6zM210.1 126.2h.6v.6h-.6zM218.2 130.1h.6v.6h-.6zM225.3 135.2h.6v.6h-.6zM231.6 139.3h.6v.6h-.6zM237.4 144.3h.6v.6h-.6zM242.6 148.4h.6v.6h-.6zM247.5 152.7h.6v.6h-.6zM251.9 156.6h.6v.6h-.6zM256.1 159.8h.6v.6h-.6zM260 163.4h.6v.6h-.6zM263.6 166h.6v.6h-.6zM267.1 169.2h.6v.6h-.6zM270.4 172.1h.6v.6h-.6zM273.4 174.5h.6v.6h-.6zM276.4 177.5h.6v.6h-.6zM279.2 180.1h.6v.6h-.6zM281.9 182.1h.6v.6h-.6zM284.4 184.8h.6v.6h-.6z" fill="#ff4500"/>
<path d="M284.1 186.7a3.1 3.1 0 1 0 6.3 0a3.1 3.1 0 1 0 -6.3 0zM286.4 189.2a3.1 3.1 0 1 0 6.3 0a3.1 3.1 0 1 0 -6.3 0zM288.7 191.5a3.1 3.1 0 1 0 6.3 0a3.1 3.1 0 1 0 -6.3 0zM290.9 193.1a3.1 3.1 0 1 0 6.3 0a3.1 3.1 0 1 0 -6.3 0zM293 195.2a3.1 3.1 0 1 0 6.3 0a3.1 3.1 0 1 0 -6.3 0zM295.1 197.4a3.1 3.1 0 1 0 6.3 0a3.1 3.1 0 1 0 -6.3 0zM297 198.7a3.1 3.1 0 1 0 6.3 0a3.1 3.1 0 1 0 -6.3 0zM299 200.8a3.1 3.1 0 1 0 6.3 0a3.1 3.1 0 1 0 -6.3 0zM300.8 201.8a3.1 3.1 0 1 0 6.3 0a3.1 3.1 0 1 0 -6.3 0zM302.6 203.9a3.1 3.1 0 1 0 6.3 0a3.1 3.1 0 1 0 -6.3 0zM304.4 205.8a3.1 3.1 0 1 0 6.3 0a3.1 3.1 0 1 0 -6.3 0zM306.1 206.5a3.1 3.1 0 1 0 6.3 0a3.1 3.1 0 1 0 -6.3 0zM307.7 208.6a3.1 3.1 0 1 0 6.3 0a3.1 3.1 0 1 0 -6.3 0zM309.3 209.3a3.1 3.1 0 1 0 6.3 0a3.1 3.1 0 1 0 -6.3 0zM310.9 211.2a3.1 3.1 0 1 0 6.3 0a3.1 3.1 0 1 0 -6.3 0zM312.4 212.9a3.1 3.1 0 1 0 6.3 0a3.1 3.1 0 1 0 -6.3 0zM313.9 213.6a3.1 3.1 0 1 0 6.3 0a3.1 3.1 0 1 0 -6.3 0zM315.4 215.4a3.1 3.1 0 1 0 6.3 0a3.1 3.1 0 1 0 -6.3 0zM316.8 217a3.1 3.1 0 1 0 6.3 0a3.1 3.1 0 1 0 -6.3 0zM318.2 217.6a3.1 3.1 0 1 0 6.3 0a3.1 3.1 0 1 0 -6.3 0zM319.5 219.2a3.1 3.1 0 1 0 6.3 0a3.1 3.1 0 1 0 -6.3 0zM320.8 219.4a3.1 3.1 0 1 0 6.3 0a3.1 3.1 0 1 0 -6.3 0zM322.1 221.2a3.1 3.1 0 1 0 6.3 0a3.1 3.1 0 1 0 -6.3 0zM323.4 222.9a3.1 3.1 0 1 0 6.3 0a3.1 3.1 0 1 0 -6.3 0zM324.7 223.5a3.1 3.1 0 1 0 6.3 0a3.1 3.1 0 1 0 -6.3 0zM325.9 224.8a3.1 3.1 0 1 0 6.3 0a3.1 3.1 0 1 0 -6.3 0zM327.1 225a3.1 3.1 0 1 0 6.3 0a3.1 3.1 0 1 0 -6.3 0zM328.2 226.9a3.1 3.1 0 1 0 6.3 0a3.1 3.1 0 1 0 -6.3 0zM329.4 228.4a3.1 3.1 0 1 0 6.3 0a3.1 3.1 0 1 0 -6.3 0zM330.5 228.4a3.1 3.1 0 1 0 6.3 0a3.1 3.1 0 1 0 -6.3 0zM331.6 230.2a3.1 3.1 0 1 0 6.3 0a3.1 3.1 0 1 0 -6.3 0zM332.7 231.6a3.1 3.1 0 1 0 6.3 0a3.1 3.1 0 1 0 -6.3 0zM333.8 231.7a3.1 3.1 0 1 0 6.3 0a3.1 3.1 0 1 0 -6.3 0zM334.8 233.3a3.1 3.1 0 1 0 6.3 0a3.1 3.1 0 1 0 -6.3 0zM335.9 233.1a3.1 3.1 0 1 0 6.3 0a3.1 3.1 0 1 0 -6.3 0zM336.9 234.8a3.1 3.1 0 1 0 6.3 0a3.1 3.1 0 1 0 -6.3 0zM337.9 236.3a3.1 3.1 0 1 0 6.3 0a3.1 3.1 0 1 0 -6.3 0zM338.9 236.1a3.1 3.1 0 1 0 6.3 0a3.1 3.1 0 1 0 -6.3 0zM339.8 238a3.1 3.1 0 1 0 6.3 0a3.1 3.1 0 1 0 -6.3 0zM340.8 239.2a3.1 3.1 0 1 0 6.3 0a3.1 3.1 0 1 0 -6.3 0zM341.7 239.1a3.1 3.1 0 1 0 6.3 0a3.1 3.1 0 1 0 -6.3 0zM342.6 240.4a3.1 3.1 0 1 0 6.3 0a3.1 3.1 0 1 0 -6.3 0zM343.5 240.1a3.1 3.1 0 1 0 6.3 0a3.1 3.1 0 1 0 -6.3 0zM344.4 241.9a3.1 3.1 0 1 0 6.3 0a3.1 3.1 0 1 0 -6.3 0zM345.3 243.3a3.1 3.1 0 1 0 6.3 0a3.1 3.1 0 1 0 -6.3 0zM346.2 242.9a3.1 3.1 0 1 0 6.3 0a3.1 3.1 0 1 0 -6.3 0zM347 244.7a3.1 3.1 0 1 0 6.3 0a3.1 3.1 0 1 0 -6.3 0zM347.9 243.8a3.1 3.1 0 1 0 6.3 0a3.1 3.1 0 1 0 -6.3 0zM348.7 245.9a3.1 3.1 0 1 0 6.3 0a3.1 3.1 0 1 0 -6.3 0zM349.5 246.9a3.1 3.1 0 1 0 6.3 0a3.1 3.1 0 1 0 -6.3 0zM350.3 246.7a3.1 3.1 0 1 0 6.3 0a3.1 3.1 0 1 0 -6.3 0zM351.1 248.1a3.1 3.1 0 1 0 6.3 0a3.1 3.1 0 1 0 -6.3 0zM351.9 249.3a3.1 3.1 0 1 0 6.3 0a3.1 3.1 0 1 0 -6.3 0zM352.7 249.1a3.1 3.1 0 1 0 6.3 0a3.1 3.1 0 1 0 -6.3 0zM353.5 250.6a3.1 3.1 0 1 0 6.3 0a3.1 3.1 0 1 0 -6.3 0zM354.2 249.9a3.1 3.1 0 1 0 6.3 0a3.1 3.1 0 1 0 -6.3 0zM355 251.7a3.1 3.1 0 1 0 6.3 0a3.1 3.1 0 1 0 -6.3 0zM355.7 252.9a3.1 3.1 0 1 0 6.3 0a3.1 3.1 0 1 0 -6.3 0zM356.5 252.2a3.1 3.1 0 1 0 6.3 0a3.1 3.1 0 1 0 -6.3 0zM357.2 254a3.1 3.1 0 1 0 6.3 0a3.1 3.1 0 1 0 -6.3 0zM357.9 255.3a3.1 3.1 0 1 0 6.3 0a3.1 3.1 0 1 0 -6.3 0zM358.6 254.9a3.1 3.1 0 1 0 6.3 0a3.1 3.1 0 1 0 -6.3 0zM359.3 255.9a3.1 3.1 0 1 0 6.3 0a3.1 3.1 0 1 0 -6.3 0zM360 255.2a3.1 3.1 0 1 0 6.3 0a3.1 3.1 0 1 0 -6.3 0zM360.7 256.9a3.1 3.1 0 1 0 6.3 0a3.1 3.1 0 1 0 -6.3 0zM361.3 258.2a3.1 3.1 0 1 0 6.3 0a3.1 3.1 0 1 0 -6.3 0zM362 257.2a3.1 3.1 0 1 0 6.3 0a3.1 3.1 0 1 0 -6.3 0zM362.7 259a3.1 3.1 0 1 0 6.3 0a3.1 3.1 0 1 0 -6.3 0zM363.3 257.9a3.1 3.1 0 1 0 6.3 0a3.1 3.1 0 1 0 -6.3 0zM364 259.6a3.1 3.1 0 1 0 6.3 0a3.1 3.1 0 1 0 -6.3 0zM364.6 261.5a3.1 3.1 0 1 0 6.3 0a3.1 3.1 0 1 0 -6.3 0zM365.2 260.3a3.1 3.1 0 1 0 6.3 0a3.1 3.1 0 1 0 -6.3 0zM365.9 262a3.1 3.1 0 1 0 6.3 0a3.1 3.1 0 1 0 -6.3 0zM366.5 263.3a3.1 3.1 0 1 0 6.3 0a3.1 3.1 0 1 0 -6.3 0zM367.1 262.4a3.1 3.1 0 1 0 6.3 0a3.1 3.1 0 1 0 -6.3 0zM367.7 264.1a3.1 3.1 0 1 0 6.3 0a3.1 3.1 0 1 0 -6.3 0zM368.3 262.9a3.1 3.1 0 1 0 6.3 0a3.1 3.1 0 1 0 -6.3 0zM368.9 264.6a3.1 3.1 0 1 0 6.3 0a3.1 3.1 0 1 0 -6.3 0zM369.5 265.9a3.1 3.1 0 1 0 6.3 0a3.1 3.1 0 1 0 -6.3 0zM370.1 265.1a3.1 3.1 0 1 0 6.3 0a3.1 3.1 0 1 0 -6.3 0zM370.6 266.6a3.1 3.1 0 1 0 6.3 0a3.1 3.1 0 1 0 -6.3 0zM371.2 265.1a3.1 3.1 0 1 0 6.3 0a3.1 3.1 0 1 0 -6.3 0zM371.8 267a3.1 3.1 0 1 0 6.3 0a3.1 3.1 0 1 0 -6.3 0zM372.3 268.5a3.1 3.1 0 1 0 6.3 0a3.1 3.1 0 1 0 -6.3 0zM372.9 267.1a3.1 3.1 0 1 0 6.3 0a3.1 3.1 0 1 0 -6.3 0zM373.5 268.9a3.1 3.1 0 1 0 6.3 0a3.1 3.1 0 1 0 -6.3 0zM374 270.1a3.1 3.1 0 1 0 6.3 0a3.1 3.1 0 1 0 -6.3 0zM374.5 269.2a3.1 3.1 0 1 0 6.3 0a3.1 3.1 0 1 0 -6.3 0zM375.1 270.9a3.1 3.1 0 1 0 6.3 0a3.1 3.1 0 1 0 -6.3 0zM375.6 269.6a3.1 3.1 0 1 0 6.3 0a3.1 3.1 0 1 0 -6.3 0zM376.1 271.5a3.1 3.1 0 1 0 6.3 0a3.1 3.1 0 1 0 -6.3 0zM376.7 272.8a3.1 3.1 0 1 0 6.3 0a3.1 3.1 0 1 0 -6.3 0zM377.2 271.1a3.1 3.1 0 1 0 6.3 0a3.1 3.1 0 1 0 -6.3 0zM377.7 272.9a3.1 3.1 0 1 0 6.3 0a3.1 3.1 0 1 0 -6.3 0zM378.2 273.7a3.1 3.1 0 1 0 6.3 0a3.1 3.1 0 1 0 -6.3 0zM378.7 273.1a3.1 3.1 0 1 0 6.3 0a3.1 3.1 0 1 0 -6.3 0zM379.2 274.6a3.1 3.1 0 1 0 6.3 0a3.1 3.1 0 1 0 -6.3 0zM379.7 273.3a3.1 3.1 0 1 0 6.3 0a3.1 3.1 0 1 0 -6.3 0zM380.2 275.1a3.1 3.1 0 1 0 6.3 0a3.1 3.1 0 1 0 -6.3 0zM380.7 276.7a3.1 3.1 0 1 0 6.3 0a3.1 3.1 0 1 0 -6.3 0zM381.2 275.2a3.1 3.1 0 1 0 6.3 0a3.1 3.1 0 1 0 -6.3 0zM381.6 276.6a3.1 3.1 0 1 0 6.3 0a3.1 3.1 0 1 0 -6.3 0zM382.1 275a3.1 3.1 0 1 0 6.3 0a3.1 3.1 0 1 0 -6.3 0zM382.6 277.5a3.1 3.1 0 1 0 6.3 0a3.1 3.1 0 1 0 -6.3 0zM383.1 278.7a3.1 3.1 0 1 0 6.3 0a3.1 3.1 0 1 0 -6.3 0zM383.5 277.2a3.1 3.1 0 1 0 6.3 0a3.1 3.1 0 1 0 -6.3 0zM384 278.9a3.1 3.1 0 1 0 6.3 0a3.1 3.1 0 1 0 -6.3 0zM384.5 279.6a3.1 3.1 0 1 0 6.3 0a3.1 3.1 0 1 0 -6.3 0zM384.9 278.8a3.1 3.1 0 1 0 6.3 0a3.1 3.1 0 1 0 -6.3 0zM385.4 280.5a3.1 3.1 0 1 0 6.3 0a3.1 3.1 0 1 0 -6.3 0zM385.8 278.5a3.1 3.1 0 1 0 6.3 0a3.1 3.1 0 1 0 -6.3 0zM386.3 280.5a3.1 3.1 0 1 0 6.3 0a3.1 3.1 0 1 0 -6.3 0zM386.7 282.3a3.1 3.1 0 1 0 6.3 0a3.1 3.1 0 1 0 -6.3 0zM387.1 280.6a3.1 3.1 0 1 0 6.3 0a3.1 3.1 0 1 0 -6.3 0zM387.6 282.4a3.1 3.1 0 1 0 6.3 0a3.1 3.1 0 1 0 -6.3 0zM388 283.4a3.1 3.1 0 1 0 6.3 0a3.1 3.1 0 1 0 -6.3 0zM388.4 282.4a3.1 3.1 0 1 0 6.3 0a3.1 3.1 0 1 0 -6.3 0zM388.9 284a3.1 3.1 0 1 0 6.3 0a3.1 3.1 0 1 0 -6.3 0zM389.3 282.2a3.1 3.1 0 1 0 6.3 0a3.1 3.1 0 1 0 -6.3 0zM389.7 283.8a3.1 3.1 0 1 0 6.3 0a3.1 3.1 0 1 0 -6.3 0zM390.1 285.2a3.1 3.1 0 1 0 6.3 0a3.1 3.1 0 1 0 -6.3 0zM390.5 283.5a3.1 3.1 0 1 0 6.3 0a3.1 3.1 0 1 0 -6.3 0zM390.9 285.9a3.1 3.1 0 1 0 6.3 0a3.1 3.1 0 1 0 -6.3 0zM391.4 283.6a3.1 3.1 0 1 0 6.3 0a3.1 3.1 0 1 0 -6.3 0zM391.8 285.9a3.1 3.1 0 1 0 6.3 0a3.1 3.1 0 1 0 -6.3 0zM392.2 287.5a3.1 3.1 0 1 0 6.3 0a3.1 3.1 0 1 0 -6.3 0zM392.6 285.1a3.1 3.1 0 1 0 6.3 0a3.1 3.1 0 1 0 -6.3 0zM393 287.3a3.1 3.1 0 1 0 6.3 0a3.1 3.1 0 1 0 -6.3 0zM393.4 288.7a3.1 3.1 0 1 0 6.3 0a3.1 3.1 0 1 0 -6.3 0zM393.8 286.6a3.1 3.1 0 1 0 6.3 0a3.1 3.1 0 1 0 -6.3 0zM394.1 288.9a3.1 3.1 0 1 0 6.3 0a3.1 3.1 0 1 0 -6.3 0zM394.5 286.7a3.1 3.1 0 1 0 6.3 0a3.1 3.1 0 1 0 -6.3 0zM394.9 288.6a3.1 3.1 0 1 0 6.3 0a3.1 3.1 0 1 0 -6.3 0zM395.3 290.4a3.1 3.1 0 1 0 6.3 0a3.1 3.1 0 1 0 -6.3 0zM395.7 288.2a3.1 3.1 0 1 0 6.3 0a3.1 3.1 0 1 0 -6.3 0zM396.1 290.4a3.1 3.1 0 1 0 6.3 0a3.1 3.1 0 1 0 -6.3 0zM396.4 288.3a3.1 3.1 0 1 0 6.3 0a3.1 3.1 0 1 0 -6.3 0zM396.8 290.1a3.1 3.1 0 1 0 6.3 0a3.1 3.1 0 1 0 -6.3 0zM397.2 292.2a3.1 3.1 0 1 0 6.3 0a3.1 3.1 0 1 0 -6.3 0zM397.5 289.6a3.1 3.1 0 1 0 6.3 0a3.1 3.1 0 1 0 -6.3 0zM397.9 291.8a3.1 3.1 0 1 0 6.3 0a3.1 3.1 0 1 0 -6.3 0zM398.3 293.5a3.1 3.1 0 1 0 6.3 0a3.1 3.1 0 1 0 -6.3 0zM398.6 291.6a3.1 3.1 0 1 0 6.3 0a3.1 3.1 0 1 0 -6.3 0zM399 293.6a3.1 3.1 0 1 0 6.3 0a3.1 3.1 0 1 0 -6.3 0zM399.4 291.3a3.1 3.1 0 1 0 6.3 0a3.1 3.1 0 1 0 -6.3 0zM399.7 293.6a3.1 3.1 0 1 0 6.3 0a3.1 3.1 0 1 0 -6.3 0zM400.1 294.5a3.1 3.1 0 1 0 6.3 0a3.1 3.1 0 1 0 -6.3 0zM400.4 293.2a3.1 3.1 0 1 0 6.3 0a3.1 3.1 0 1 0 -6.3 0zM400.8 294.6a3.1 3.1 0 1 0 6.3 0a3.1 3.1 0 1 0 -6.3 0zM401.1 296.1a3.1 3.1 0 1 0 6.3 0a3.1 3.1 0 1 0 -6.3 0zM401.5 294.3a3.1 3.1 0 1 0 6.3 0a3.1 3.1 0 1 0 -6.3 0zM401.8 296.6a3.1 3.1 0 1 0 6.3 0a3.1 3.1 0 1 0 -6.3 0zM402.1 293.9a3.1 3.1 0 1 0 6.3 0a3.1 3.1 0 1 0 -6.3 0zM402.5 295.4a3.1 3.1 0 1 0 6.3 0a3.1 3.1 0 1 0 -6.3 0zM402.8 297.2a3.1 3.1 0 1 0 6.3 0a3.1 3.1 0 1 0 -6.3 0zM403.2 295.3a3.1 3.1 0 1 0 6.3 0a3.1 3.1 0 1 0 -6.3 0zM403.5 297.4a3.1 3.1 0 1 0 6.3 0a3.1 3.1 0 1 0 -6.3 0zM403.8 294.8a3.1 3.1 0 1 0 6.3 0a3.1 3.1 0 1 0 -6.3 0zM404.2 297.2a3.1 3.1 0 1 0 6.3 0a3.1 3.1 0 1 0 -6.3 0zM404.5 298.7a3.1 3.1 0 1 0 6.3 0a3.1 3.1 0 1 0 -6.3 0zM404.8 296.4a3.1 3.1 0 1 0 6.3 0a3.1 3.1 0 1 0 -6.3 0zM405.1 298.6a3.1 3.1 0 1 0 6.3 0a3.1 3.1 0 1 0 -6.3 0zM405.5 299.9a3.1 3.1 0 1 0 6.3 0a3.1 3.1 0 1 0 -6.3 0zM405.8 298.5a3.1 3.1 0 1 0 6.3 0a3.1 3.1 0 1 0 -6.3 0zM406.1 300.1a3.1 3.1 0 1 0 6.3 0a3.1 3.1 0 1 0 -6.3 0zM406.4 297.5a3.1 3.1 0 1 0 6.3 0a3.1 3.1 0 1 0 -6.3 0zM406.7 299.9a3.1 3.1 0 1 0 6.3 0a3.1 3.1 0 1 0 -6.3 0zM407.1 301.2a3.1 3.1 0 1 0 6.3 0a3.1 3.1 0 1 0 -6.3 0zM407.4 299.6a3.1 3.1 0 1 0 6.3 0a3.1 3.1 0 1 0 -6.3 0zM407.7 301.2a3.1 3.1 0 1 0 6.3 0a3.1 3.1 0 1 0 -6.3 0zM408 298.6a3.1 3.1 0 1 0 6.3 0a3.1 3.1 0 1 0 -6.3 0zM408.3 300.7a3.1 3.1 0 1 0 6.3 0a3.1 3.1 0 1 0 -6.3 0zM408.6 302.9a3.1 3.1 0 1 0 6.3 0a3.1 3.1 0 1 0 -6.3 0zM408.9 300a3.1 3.1 0 1 0 6.3 0a3.1 3.1 0 1 0 -6.3 0zM409.2 302a3.1 3.1 0 1 0 6.3 0a3.1 3.1 0 1 0 -6.3 0zM409.5 303.6a3.1 3.1 0 1 0 6.3 0a3.1 3.1 0 1 0 -6.3 0zM409.8 301.2a3.1 3.1 0 1 0 6.3 0a3.1 3.1 0 1 0 -6.3 0zM410.1 303.9a3.1 3.1 0 1 0 6.3 0a3.1 3.1 0 1 0 -6.3 0zM410.4 300.4a3.1 3.1 0 1 0 6.3 0a3.1 3.1 0 1 0 -6.3 0zM410.7 302.7a3.1 3.1 0 1 0 6.3 0a3.1 3.1 0 1 0 -6.3 0zM411 305.4a3.1 3.1 0 1 0 6.3 0a3.1 3.1 0 1 0 -6.3 0zM411.3 302.3a3.1 3.1 0 1 0 6.3 0a3.1 3.1 0 1 0 -6.3 0zM411.6 304.9a3.1 3.1 0 1 0 6.3 0a3.1 3.1 0 1 0 -6.3 0zM411.9 306.1a3.1 3.1 0 1 0 6.3 0a3.1 3.1 0 1 0 -6.3 0zM412.2 303.6a3.1 3.1 0 1 0 6.3 0a3.1 3.1 0 1 0 -6.3 0zM412.5 306a3.1 3.1 0 1 0 6.3 0a3.1 3.1 0 1 0 -6.3 0zM412.8 303.6a3.1 3.1 0 1 0 6.3 0a3.1 3.1 0 1 0 -6.3 0zM413 305.5a3.1 3.1 0 1 0 6.3 0a3.1 3.1 0 1 0 -6.3 0zM413.3 306.7a3.1 3.1 0 1 0 6.3 0a3.1 3.1 0 1 0 -6.3 0zM413.6 305.2a3.1 3.1 0 1 0 6.3 0a3.1 3.1 0 1 0 -6.3 0zM413.9 307a3.1 3.1 0 1 0 6.3 0a3.1 3.1 0 1 0 -6.3 0zM414.2 303.9a3.1 3.1 0 1 0 6.3 0a3.1 3.1 0 1 0 -6.3 0zM414.4 306.2a3.1 3.1 0 1 0 6.3 0a3.1 3.1 0 1 0 -6.3 0zM414.7 308.5a3.1 3.1 0 1 0 6.3 0a3.1 3.1 0 1 0 -6.3 0zM415 305.2a3.1 3.1 0 1 0 6.3 0a3.1 3.1 0 1 0 -6.3 0zM415.3 307.4a3.1 3.1 0 1 0 6.3 0a3.1 3.1 0 1 0 -6.3 0zM415.5 309.9a3.1 3.1 0 1 0 6.3 0a3.1 3.1 0 1 0 -6.3 0zM415.8 307.3a3.1 3.1 0 1 0 6.3 0a3.1 3.1 0 1 0 -6.3 0zM416.1 309.9a3.1 3.1 0 1 0 6.3 0a3.1 3.1 0 1 0 -6.3 0zM416.4 305.9a3.1 3.1 0 1 0 6.3 0a3.1 3.1 0 1 0 -6.3 0zM416.6 308.9a3.1 3.1 0 1 0 6.3 0a3.1 3.1 0 1 0 -6.3 0zM416.9 310.3a3.1 3.1 0 1 0 6.3 0a3.1 3.1 0 1 0 -6.3 0zM417.2 308.6a3.1 3.1 0 1 0 6.3 0a3.1 3.1 0 1 0 -6.3 0zM417.4 310.1a3.1 3.1 0 1 0 6.3 0a3.1 3.1 0 1 0 -6.3 0zM417.7 311.9a3.1 3.1 0 1 0 6.3 0a3.1 3.1 0 1 0 -6.3 0zM418 309.1a3.1 3.1 0 1 0 6.3 0a3.1 3.1 0 1 0 -6.3 0zM418.2 311.5a3.1 3.1 0 1 0 6.3 0a3.1 3.1 0 1 0 -6.3 0zM418.5 308.4a3.1 3.1 0 1 0 6.3 0a3.1 3.1 0 1 0 -6.3 0zM418.7 311.1a3.1 3.1 0 1 0 6.3 0a3.1 3.1 0 1 0 -6.3 0zM419 312.8a3.1 3.1 0 1 0 6.3 0a3.1 3.1 0 1 0 -6.3 0zM419.3 310.6a3.1 3.1 0 1 0 6.3 0a3.1 3.1 0 1 0 -6.3 0zM419.5 312.6a3.1 3.1 0 1 0 6.3 0a3.1 3.1 0 1 0 -6.3 0zM419.8 309.5a3.1 3.1 0 1 0 6.3 0a3.1 3.1 0 1 0 -6.3 0zM420 311.6a3.1 3.1 0 1 0 6.3 0a3.1 3.1 0 1 0 -6.3 0zM420.3 313.9a3.1 3.1 0 1 0 6.3 0a3.1 3.1 0 1 0 -6.3 0zM420.5 310.1a3.1 3.1 0 1 0 6.3 0a3.1 3.1 0 1 0 -6.3 0zM420.8 313.5a3.1 3.1 0 1 0 6.3 0a3.1 3.1 0 1 0 -6.3 0zM421 314.7a3.1 3.1 0 1 0 6.3 0a3.1 3.1 0 1 0 -6.3 0zM421.3 311.5a3.1 3.1 0 1 0 6.3 0a3.1 3.1 0 1 0 -6.3 0zM421.5 314.6a3.1 3.1 0 1 0 6.3 0a3.1 3.1 0 1 0 -6.3 0zM421.8 310.9a3.1 3.1 0 1 0 6.3 0a3.1 3.1 0 1 0 -6.3 0zM422 314.4a3.1 3.1 0 1 0 6.3 0a3.1 3.1 0 1 0 -6.3 0zM422.3 315.6a3.1 3.1 0 1 0 6.3 0a3.1 3.1 0 1 0 -6.3 0zM422.5 313a3.1 3.1 0 1 0 6.3 0a3.1 3.1 0 1 0 -6.3 0zM422.7 315.5a3.1 3.1 0 1 0 6.3 0a3.1 3.1 0 1 0 -6.3 0zM423 312a3.1 3.1 0 1 0 6.3 0a3.1 3.1 0 1 0 -6.3 0zM423.2 315.3a3.1 3.1 0 1 0 6.3 0a3.1 3.1 0 1 0 -6.3 0zM423.5 316.8a3.1 3.1 0 1 0 6.3 0a3.1 3.1 0 1 0 -6.3 0zM423.7 313.2a3.1 3.1 0 1 0 6.3 0a3.1 3.1 0 1 0 -6.3 0zM423.9 316.2a3.1 3.1 0 1 0 6.3 0a3.1 3.1 0 1 0 -6.3 0zM424.2 317.8a3.1 3.1 0 1 0 6.3 0a3.1 3.1 0 1 0 -6.3 0zM424.4 315a3.1 3.1 0 1 0 6.3 0a3.1 3.1 0 1 0 -6.3 0zM424.6 317.4a3.1 3.1 0 1 0 6.3 0a3.1 3.1 0 1 0 -6.3 0zM424.9 313.3a3.1 3.1 0 1 0 6.3 0a3.1 3.1 0 1 0 -6.3 0zM425.1 316.9a3.1 3.1 0 1 0 6.3 0a3.1 3.1 0 1 0 -6.3 0zM425.4 318.9a3.1 3.1 0 1 0 6.3 0a3.1 3.1 0 1 0 -6.3 0zM425.6 315.6a3.1 3.1 0 1 0 6.3 0a3.1 3.1 0 1 0 -6.3 0zM425.8 318a3.1 3.1 0 1 0 6.3 0a3.1 3.1 0 1 0 -6.3 0zM426 319.6a3.1 3.1 0 1 0 6.3 0a3.1 3.1 0 1 0 -6.3 0zM426.3 317.4a3.1 3.1 0 1 0 6.3 0a3.1 3.1 0 1 0 -6.3 0zM426.5 319.2a3.1 3.1 0 1 0 6.3 0a3.1 3.1 0 1 0 -6.3 0zM426.7 315.7a3.1 3.1 0 1 0 6.3 0a3.1 3.1 0 1 0 -6.3 0zM427 318.9a3.1 3.1 0 1 0 6.3 0a3.1 3.1 0 1 0 -6.3 0zM427.2 320.2a3.1 3.1 0 1 0 6.3 0a3.1 3.1 0 1 0 -6.3 0zM427.4 317.7a3.1 3.1 0 1 0 6.3 0a3.1 3.1 0 1 0 -6.3 0zM427.6 320a3.1 3.1 0 1 0 6.3 0a3.1 3.1 0 1 0 -6.3 0zM427.9 316.1a3.1 3.1 0 1 0 6.3 0a3.1 3.1 0 1 0 -6.3 0zM428.1 319.2a3.1 3.1 0 1 0 6.3 0a3.1 3.1 0 1 0 -6.3 0zM428.3 321.6a3.1 3.1 0 1 0 6.3 0a3.1 3.1 0 1 0 -6.3 0zM428.5 317.9a3.1 3.1 0 1 0 6.3 0a3.1 3.1 0 1 0 -6.3 0zM428.7 320.2a3.1 3.1 0 1 0 6.3 0a3.1 3.1 0 1 0 -6.3 0zM429 322.1a3.1 3.1 0 1 0 6.3 0a3.1 3.1 0 1 0 -6.3 0zM429.2 319.5a3.1 3.1 0 1 0 6.3 0a3.1 3.1 0 1 0 -6.3 0zM429.4 321.7a3.1 3.1 0 1 0 6.3 0a3.1 3.1 0 1 0 -6.3 0zM429.6 317.1a3.1 3.1 0 1 0 6.3 0a3.1 3.1 0 1 0 -6.3 0zM429.8 320.4a3.1 3.1 0 1 0 6.3 0a3.1 3.1 0 1 0 -6.3 0zM430 323a3.1 3.1 0 1 0 6.3 0a3.1 3.1 0 1 0 -6.3 0zM430.3 320.1a3.1 3.1 0 1 0 6.3 0a3.1 3.1 0 1 0 -6.3 0zM430.5 323a3.1 3.1 0 1 0 6.3 0a3.1 3.1 0 1 0 -6.3 0zM430.7 325.1a3.1 3.1 0 1 0 6.3 0a3.1 3.1 0 1 0 -6.3 0zM430.9 321.2a3.1 3.1 0 1 0 6.3 0a3.1 3.1 0 1 0 -6.3 0zM431.1 323.5a3.1 3.1 0 1 0 6.3 0a3.1 3.1 0 1 0 -6.3 0zM431.3 319.9a3.1 3.1 0 1 0 6.3 0a3.1 3.1 0 1 0 -6.3 0zM431.5 323a3.1 3.1 0 1 0 6.3 0a3.1 3.1 0 1 0 -6.3 0zM431.7 325.1a3.1 3.1 0 1 0 6.3 0a3.1 3.1 0 1 0 -6.3 0zM431.9 322.5a3.1 3.1 0 1 0 6.3 0a3.1 3.1 0 1 0 -6.3 0zM432.1 324.4a3.1 3.1 0 1 0 6.3 0a3.1 3.1 0 1 0 -6.3 0zM432.4 320.8a3.1 3.1 0 1 0 6.3 0a3.1 3.1 0 1 0 -6.3 0zM432.6 323.6a3.1 3.1 0 1 0 6.3 0a3.1 3.1 0 1 0 -6.3 0zM432.8 325.5a3.1 3.1 0 1 0 6.3 0a3.1 3.1 0 1 0 -6.3 0zM433 321.3a3.1 3.1 0 1 0 6.3 0a3.1 3.1 0 1 0 -6.3 0zM433.2 325a3.1 3.1 0 1 0 6.3 0a3.1 3.1 0 1 0 -6.3 0zM433.4 326.6a3.1 3.1 0 1 0 6.3 0a3.1 3.1 0 1 0 -6.3 0zM433.6 322.9a3.1 3.1 0 1 0 6.3 0a3.1 3.1 0 1 0 -6.3 0zM433.8 326.7a3.1 3.1 0 1 0 6.3 0a3.1 3.1 0 1 0 -6.3 0zM434 321.9a3.1 3.1 0 1 0 6.3 0a3.1 3.1 0 1 0 -6.3 0zM434.2 325.4a3.1 3.1 0 1 0 6.3 0a3.1 3.1 0 1 0 -6.3 0zM434.4 327.9a3.1 3.1 0 1 0 6.3 0a3.1 3.1 0 1 0 -6.3 0zM434.6 324.2a3.1 3.1 0 1 0 6.3 0a3.1 3.1 0 1 0 -6.3 0zM434.8 326.6a3.1 3.1 0 1 0 6.3 0a3.1 3.1 0 1 0 -6.3 0zM435 322.2a3.1 3.1 0 1 0 6.3 0a3.1 3.1 0 1 0 -6.3 0zM435.2 325.9a3.1 3.1 0 1 0 6.3 0a3.1 3.1 0 1 0 -6.3 0zM435.4 328.2a3.1 3.1 0 1 0 6.3 0a3.1 3.1 0 1 0 -6.3 0zM435.6 324a3.1 3.1 0 1 0 6.3 0a3.1 3.1 0 1 0 -6.3 0zM435.8 327.5a3.1 3.1 0 1 0 6.3 0a3.1 3.1 0 1 0 -6.3 0zM436 329.6a3.1 3.1 0 1 0 6.3 0a3.1 3.1 0 1 0 -6.3 0zM436.2 325.8a3.1 3.1 0 1 0 6.3 0a3.1 3.1 0 1 0 -6.3 0zM436.4 328a3.1 3.1 0 1 0 6.3 0a3.1 3.1 0 1 0 -6.3 0zM436.5 324.2a3.1 3.1 0 1 0 6.3 0a3.1 3.1 0 1 0 -6.3 0zM436.7 326.7a3.1 3.1 0 1 0 6.3 0a3.1 3.1 0 1 0 -6.3 0zM436.9 329.6a3.1 3.1 0 1 0 6.3 0a3.1 3.1 0 1 0 -6.3 0zM437.1 326.1a3.1 3.1 0 1 0 6.3 0a3.1 3.1 0 1 0 -6.3 0zM437.3 328.7a3.1 3.1 0 1 0 6.3 0a3.1 3.1 0 1 0 -6.3 0zM437.5 330.1a3.1 3.1 0 1 0 6.3 0a3.1 3.1 0 1 0 -6.3 0zM437.7 328.4a3.1 3.1 0 1 0 6.3 0a3.1 3.1 0 1 0 -6.3 0zM437.9 330.1a3.1 3.1 0 1 0 6.3 0a3.1 3.1 0 1 0 -6.3 0zM438.1 326.3a3.1 3.1 0 1 0 6.3 0a3.1 3.1 0 1 0 -6.3 0zM438.3 329.4a3.1 3.1 0 1 0 6.3 0a3.1 3.1 0 1 0 -6.3 0zM438.4 331.1a3.1 3.1 0 1 0 6.3 0a3.1 3.1 0 1 0 -6.3 0zM438.6 328.5a3.1 3.1 0 1 0 6.3 0a3.1 3.1 0 1 0 -6.3 0zM438.8 330.5a3.1 3.1 0 1 0 6.3 0a3.1 3.1 0 1 0 -6.3 0zM439 326.4a3.1 3.1 0 1 0 6.3 0a3.1 3.1 0 1 0 -6.3 0zM439.2 329.6a3.1 3.1 0 1 0 6.3 0a3.1 3.1 0 1 0 -6.3 0zM439.4 332.3a3.1 3.1 0 1 0 6.3 0a3.1 3.1 0 1 0 -6.3 0zM439.6 327.1a3.1 3.1 0 1 0 6.3 0a3.1 3.1 0 1 0 -6.3 0zM439.7 331a3.1 3.1 0 1 0 6.3 0a3.1 3.1 0 1 0 -6.3 0zM439.9 333.1a3.1 3.1 0 1 0 6.3 0a3.1 3.1 0 1 0 -6.3 0zM440.1 329.4a3.1 3.1 0 1 0 6.3 0a3.1 3.1 0 1 0 -6.3 0zM440.3 331.1a3.1 3.1 0 1 0 6.3 0a3.1 3.1 0 1 0 -6.3 0zM440.5 327.4a3.1 3.1 0 1 0 6.3 0a3.1 3.1 0 1 0 -6.3 0zM440.6 331a3.1 3.1 0 1 0 6.3 0a3.1 3.1 0 1 0 -6.3 0zM440.8 333.7a3.1 3.1 0 1 0 6.3 0a3.1 3.1 0 1 0 -6.3 0zM441 329.1a3.1 3.1 0 1 0 6.3 0a3.1 3.1 0 1 0 -6.3 0zM441.2 331.9a3.1 3.1 0 1 0 6.3 0a3.1 3.1 0 1 0 -6.3 0zM441.4 328a3.1 3.1 0 1 0 6.3 0a3.1 3.1 0 1 0 -6.3 0zM441.5 331.4a3.1 3.1 0 1 0 6.3 0a3.1 3.1 0 1 0 -6.3 0zM441.7 333.8a3.1 3.1 0 1 0 6.3 0a3.1 3.1 0 1 0 -6.3 0zM441.9 330.1a3.1 3.1 0 1 0 6.3 0a3.1 3.1 0 1 0 -6.3 0zM442.1 333.1a3.1 3.1 0 1 0 6.3 0a3.1 3.1 0 1 0 -6.3 0zM442.2 335.2a3.1 3.1 0 1 0 6.3 0a3.1 3.1 0 1 0 -6.3 0zM442.4 330.3a3.1 3.1 0 1 0 6.3 0a3.1 3.1 0 1 0 -6.3 0zM442.6 335a3.1 3.1 0 1 0 6.3 0a3.1 3.1 0 1 0 -6.3 0zM442.8 329.2a3.1 3.1 0 1 0 6.3 0a3.1 3.1 0 1 0 -6.3 0zM442.9 332.9a3.1 3.1 0 1 0 6.3 0a3.1 3.1 0 1 0 -6.3 0zM443.1 336a3.1 3.1 0 1 0 6.3 0a3.1 3.1 0 1 0 -6.3 0zM443.3 331.3a3.1 3.1 0 1 0 6.3 0a3.1 3.1 0 1 0 -6.3 0zM443.5 334.8a3.1 3.1 0 1 0 6.3 0a3.1 3.1 0 1 0 -6.3 0zM443.6 336.8a3.1 3.1 0 1 0 6.3 0a3.1 3.1 0 1 0 -6.3 0zM443.8 334.3a3.1 3.1 0 1 0 6.3 0a3.1 3.1 0 1 0 -6.3 0zM444 336.2a3.1 3.1 0 1 0 6.3 0a3.1 3.1 0 1 0 -6.3 0zM444.1 329.9a3.1 3.1 0 1 0 6.3 0a3.1 3.1 0 1 0 -6.3 0zM444.3 334.5a3.1 3.1 0 1 0 6.3 0a3.1 3.1 0 1 0 -6.3 0zM444.5 336.9a3.1 3.1 0 1 0 6.3 0a3.1 3.1 0 1 0 -6.3 0zM444.6 333.1a3.1 3.1 0 1 0 6.3 0a3.1 3.1 0 1 0 -6.3 0zM444.8 335.9a3.1 3.1 0 1 0 6.3 0a3.1 3.1 0 1 0 -6.3 0zM445 331.5a3.1 3.1 0 1 0 6.3 0a3.1 3.1 0 1 0 -6.3 0zM445.2 335a3.1 3.1 0 1 0 6.3 0a3.1 3.1 0 1 0 -6.3 0zM445.3 337.7a3.1 3.1 0 1 0 6.3 0a3.1 3.1 0 1 0 -6.3 0zM445.5 332.7a3.1 3.1 0 1 0 6.3 0a3.1 3.1 0 1 0 -6.3 0zM445.7 335.5a3.1 3.1 0 1 0 6.3 0a3.1 3.1 0 1 0 -6.3 0zM445.8 339a3.1 3.1 0 1 0 6.3 0a3.1 3.1 0 1 0 -6.3 0zM446 334.7a3.1 3.1 0 1 0 6.3 0a3.1 3.1 0 1 0 -6.3 0zM446.1 337.6a3.1 3.1 0 1 0 6.3 0a3.1 3.1 0 1 0 -6.3 0zM446.3 332.7a3.1 3.1 0 1 0 6.3 0a3.1 3.1 0 1 0 -6.3 0zM446.5 337.2a3.1 3.1 0 1 0 6.3 0a3.1 3.1 0 1 0 -6.3 0zM446.6 338.1a3.1 3.1 0 1 0 6.3 0a3.1 3.1 0 1 0 -6.3 0zM446.8 335.2a3.1 3.1 0 1 0 6.3 0a3.1 3.1 0 1 0 -6.3 0zM447 338.1a3.1 3.1 0 1 0 6.3 0a3.1 3.1 0 1 0 -6.3 0zM447.1 341a3.1 3.1 0 1 0 6.3 0a3.1 3.1 0 1 0 -6.3 0zM447.3 335.4a3.1 3.1 0 1 0 6.3 0a3.1 3.1 0 1 0 -6.3 0zM447.4 339.5a3.1 3.1 0 1 0 6.3 0a3.1 3.1 0 1 0 -6.3 0zM447.6 334.5a3.1 3.1 0 1 0 6.3 0a3.1 3.1 0 1 0 -6.3 0zM447.8 337.4a3.1 3.1 0 1 0 6.3 0a3.1 3.1 0 1 0 -6.3 0zM447.9 340a3.1 3.1 0 1 0 6.3 0a3.1 3.1 0 1 0 -6.3 0zM448.1 335.9a3.1 3.1 0 1 0 6.3 0a3.1 3.1 0 1 0 -6.3 0zM448.2 339.4a3.1 3.1 0 1 0 6.3 0a3.1 3.1 0 1 0 -6.3 0zM448.4 334.4a3.1 3.1 0 1 0 6.3 0a3.1 3.1 0 1 0 -6.3 0zM448.6 338a3.1 3.1 0 1 0 6.3 0a3.1 3.1 0 1 0 -6.3 0zM448.7 339.6a3.1 3.1 0 1 0 6.3 0a3.1 3.1 0 1 0 -6.3 0zM448.9 335.7a3.1 3.1 0 1 0 6.3 0a3.1 3.1 0 1 0 -6.3 0zM449 339.3a3.1 3.1 0 1 0 6.3 0a3.1 3.1 0 1 0 -6.3 0zM449.2 341.8a3.1 3.1 0 1 0 6.3 0a3.1 3.1 0 1 0 -6.3 0zM449.3 338.9a3.1 3.1 0 1 0 6.3 0a3.1 3.1 0 1 0 -6.3 0zM449.5 342.1a3.1 3.1 0 1 0 6.3 0a3.1 3.1 0 1 0 -6.3 0zM449.7 335.4a3.1 3.1 0 1 0 6.3 0a3.1 3.1 0 1 0 -6.3 0zM449.8 338.6a3.1 3.1 0 1 0 6.3 0a3.1 3.1 0 1 0 -6.3 0zM450 343.2a3.1 3.1 0 1 0 6.3 0a3.1 3.1 0 1 0 -6.3 0zM450.1 337.8a3.1 3.1 0 1 0 6.3 0a3.1 3.1 0 1 0 -6.3 0zM450.3 342a3.1 3.1 0 1 0 6.3 0a3.1 3.1 0 1 0 -6.3 0zM450.4 335a3.1 3.1 0 1 0 6.3 0a3.1 3.1 0 1 0 -6.3 0zM450.6 339.8a3.1 3.1 0 1 0 6.3 0a3.1 3.1 0 1 0 -6.3 0zM450.7 342.1a3.1 3.1 0 1 0 6.3 0a3.1 3.1 0 1 0 -6.3 0zM450.9 337.3a3.1 3.1 0 1 0 6.3 0a3.1 3.1 0 1 0 -6.3 0zM451 340.5a3.1 3.1 0 1 0 6.3 0a3.1 3.1 0 1 0 -6.3 0zM451.2 343.7a3.1 3.1 0 1 0 6.3 0a3.1 3.1 0 1 0 -6.3 0zM451.3 340.7a3.1 3.1 0 1 0 6.3 0a3.1 3.1 0 1 0 -6.3 0zM451.5 342.4a3.1 3.1 0 1 0 6.3 0a3.1 3.1 0 1 0 -6.3 0zM451.6 337.1a3.1 3.1 0 1 0 6.3 0a3.1 3.1 0 1 0 -6.3 0zM451.8 340.2a3.1 3.1 0 1 0 6.3 0a3.1 3.1 0 1 0 -6.3 0zM451.9 344.7a3.1 3.1 0 1 0 6.3 0a3.1 3.1 0 1 0 -6.3 0zM452.1 339.6a3.1 3.1 0 1 0 6.3 0a3.1 3.1 0 1 0 -6.3 0zM452.2 343.1a3.1 3.1 0 1 0 6.3 0a3.1 3.1 0 1 0 -6.3 0zM452.4 344.8a3.1 3.1 0 1 0 6.3 0a3.1 3.1 0 1 0 -6.3 0zM452.5 341.3a3.1 3.1 0 1 0 6.3 0a3.1 3.1 0 1 0 -6.3 0zM452.7 345.2a3.1 3.1 0 1 0 6.3 0a3.1 3.1 0 1 0 -6.3 0zM452.8 338.1a3.1 3.1 0 1 0 6.3 0a3.1 3.1 0 1 0 -6.3 0zM453 342.6a3.1 3.1 0 1 0 6.3 0a3.1 3.1 0 1 0 -6.3 0zM453.1 346a3.1 3.1 0 1 0 6.3 0a3.1 3.1 0 1 0 -6.3 0zM453.3 340.4a3.1 3.1 0 1 0 6.3 0a3.1 3.1 0 1 0 -6.3 0zM453.4 343.5a3.1 3.1 0 1 0 6.3 0a3.1 3.1 0 1 0 -6.3 0zM453.6 338a3.1 3.1 0 1 0 6.3 0a3.1 3.1 0 1 0 -6.3 0zM453.7 341.9a3.1 3.1 0 1 0 6.3 0a3.1 3.1 0 1 0 -6.3 0zM453.9 345.5a3.1 3.1 0 1 0 6.3 0a3.1 3.1 0 1 0 -6.3 0zM454 341.4a3.1 3.1 0 1 0 6.3 0a3.1 3.1 0 1 0 -6.3 0zM454.1 344.1a3.1 3.1 0 1 0 6.3 0a3.1 3.1 0 1 0 -6.3 0zM454.3 345.9a3.1 3.1 0 1 0 6.3 0a3.1 3.1 0 1 0 -6.3 0zM454.4 342.3a3.1 3.1 0 1 0 6.3 0a3.1 3.1 0 1 0 -6.3 0zM454.6 346.4a3.1 3.1 0 1 0 6.3 0a3.1 3.1 0 1 0 -6.3 0zM454.7 340.9a3.1 3.1 0 1 0 6.3 0a3.1 3.1 0 1 0 -6.3 0zM454.9 343.7a3.1 3.1 0 1 0 6.3 0a3.1 3.1 0 1 0 -6.3 0zM455 346.8a3.1 3.1 0 1 0 6.3 0a3.1 3.1 0 1 0 -6.3 0zM455.1 342.3a3.1 3.1 0 1 0 6.3 0a3.1 3.1 0 1 0 -6.3 0zM455.3 345.9a3.1 3.1 0 1 0 6.3 0a3.1 3.1 0 1 0 -6.3 0zM455.4 340.2a3.1 3.1 0 1 0 6.3 0a3.1 3.1 0 1 0 -6.3 0zM455.6 344.3a3.1 3.1 0 1 0 6.3 0a3.1 3.1 0 1 0 -6.3 0zM455.7 347.7a3.1 3.1 0 1 0 6.3 0a3.1 3.1 0 1 0 -6.3 0zM455.8 342.2a3.1 3.1 0 1 0 6.3 0a3.1 3.1 0 1 0 -6.3 0zM456 346.8a3.1 3.1 0 1 0 6.3 0a3.1 3.1 0 1 0 -6.3 0zM456.1 347.4a3.1 3.1 0 1 0 6.3 0a3.1 3.1 0 1 0 -6.3 0zM456.3 343.6a3.1 3.1 0 1 0 6.3 0a3.1 3.1 0 1 0 -6.3 0zM456.4 347a3.1 3.1 0 1 0 6.3 0a3.1 3.1 0 1 0 -6.3 0zM456.5 341.4a3.1 3.1 0 1 0 6.3 0a3.1 3.1 0 1 0 -6.3 0zM456.7 345.2a3.1 3.1 0 1 0 6.3 0a3.1 3.1 0 1 0 -6.3 0zM456.8 349.8a3.1 3.1 0 1 0 6.3 0a3.1 3.1 0 1 0 -6.3 0zM457 344a3.1 3.1 0 1 0 6.3 0a3.1 3.1 0 1 0 -6.3 0zM457.1 347.5a3.1 3.1 0 1 0 6.3 0a3.1 3.1 0 1 0 -6.3 0zM457.2 349.4a3.1 3.1 0 1 0 6.3 0a3.1 3.1 0 1 0 -6.3 0zM457.4 345.7a3.1 3.1 0 1 0 6.3 0a3.1 3.1 0 1 0 -6.3 0zM457.5 348.6a3.1 3.1 0 1 0 6.3 0a3.1 3.1 0 1 0 -6.3 0zM457.6 343.5a3.1 3.1 0 1 0 6.3 0a3.1 3.1 0 1 0 -6.3 0zM457.8 346.4a3.1 3.1 0 1 0 6.3 0a3.1 3.1 0 1 0 -6.3 0zM457.9 349.3a3.1 3.1 0 1 0 6.3 0a3.1 3.1 0 1 0 -6.3 0zM458 344.4a3.1 3.1 0 1 0 6.3 0a3.1 3.1 0 1 0 -6.3 0zM458.2 349.6a3.1 3.1 0 1 0 6.3 0a3.1 3.1 0 1 0 -6.3 0zM458.3 343a3.1 3.1 0 1 0 6.3 0a3.1 3.1 0 1 0 -6.3 0zM458.4 347.1a3.1 3.1 0 1 0 6.3 0a3.1 3.1 0 1 0 -6.3 0zM458.6 351a3.1 3.1 0 1 0 6.3 0a3.1 3.1 0 1 0 -6.3 0zM458.7 345.7a3.1 3.1 0 1 0 6.3 0a3.1 3.1 0 1 0 -6.3 0zM458.8 348.7a3.1 3.1 0 1 0 6.3 0a3.1 3.1 0 1 0 -6.3 0zM459 352.2a3.1 3.1 0 1 0 6.3 0a3.1 3.1 0 1 0 -6.3 0zM459.1 347.4a3.1 3.1 0 1 0 6.3 0a3.1 3.1 0 1 0 -6.3 0zM459.2 349.8a3.1 3.1 0 1 0 6.3 0a3.1 3.1 0 1 0 -6.3 0zM459.4 343.7a3.1 3.1 0 1 0 6.3 0a3.1 3.1 0 1 0 -6.3 0zM459.5 349.1a3.1 3.1 0 1 0 6.3 0a3.1 3.1 0 1 0 -6.3 0zM459.6 351.2a3.1 3.1 0 1 0 6.3 0a3.1 3.1 0 1 0 -6.3 0zM459.8 345.7a3.1 3.1 0 1 0 6.3 0a3.1 3.1 0 1 0 -6.3 0zM459.9 350a3.1 3.1 0 1 0 6.3 0a3.1 3.1 0 1 0 -6.3 0zM460 352.5a3.1 3.1 0 1 0 6.3 0a3.1 3.1 0 1 0 -6.3 0zM460.2 349.4a3.1 3.1 0 1 0 6.3 0a3.1 3.1 0 1 0 -6.3 0zM460.3 351.6a3.1 3.1 0 1 0 6.3 0a3.1 3.1 0 1 0 -6.3 0zM460.4 346.8a3.1 3.1 0 1 0 6.3 0a3.1 3.1 0 1 0 -6.3 0zM460.6 349.4a3.1 3.1 0 1 0 6.3 0a3.1 3.1 0 1 0 -6.3 0zM460.7 353.1a3.1 3.1 0 1 0 6.3 0a3.1 3.1 0 1 0 -6.3 0zM460.8 348.7a3.1 3.1 0 1 0 6.3 0a3.1 3.1 0 1 0 -6.3 0zM460.9 351.4a3.1 3.1 0 1 0 6.3 0a3.1 3.1 0 1 0 -6.3 0zM461.1 345.2a3.1 3.1 0 1 0 6.3 0a3.1 3.1 0 1 0 -6.3 0zM461.2 350.2a3.1 3.1 0 1 0 6.3 0a3.1 3.1 0 1 0 -6.3 0zM461.3 352.4a3.1 3.1 0 1 0 6.3 0a3.1 3.1 0 1 0 -6.3 0zM461.5 346.3a3.1 3.1 0 1 0 6.3 0a3.1 3.1 0 1 0 -6.3 0zM461.6 350.9a3.1 3.1 0 1 0 6.3 0a3.1 3.1 0 1 0 -6.3 0zM461.7 353.9a3.1 3.1 0 1 0 6.3 0a3.1 3.1 0 1 0 -6.3 0zM461.8 350.1a3.1 3.1 0 1 0 6.3 0a3.1 3.1 0 1 0 -6.3 0zM462 352.9a3.1 3.1 0 1 0 6.3 0a3.1 3.1 0 1 0 -6.3 0zM462.1 346.8a3.1 3.1 0 1 0 6.3 0a3.1 3.1 0 1 0 -6.3 0zM462.2 351.4a3.1 3.1 0 1 0 6.3 0a3.1 3.1 0 1 0 -6.3 0zM462.3 354.8a3.1 3.1 0 1 0 6.3 0a3.1 3.1 0 1 0 -6.3 0zM462.5 350.1a3.1 3.1 0 1 0 6.3 0a3.1 3.1 0 1 0 -6.3 0zM462.6 352.9a3.1 3.1 0 1 0 6.3 0a3.1 3.1 0 1 0 -6.3 0zM462.7 346.7a3.1 3.1 0 1 0 6.3 0a3.1 3.1 0 1 0 -6.3 0zM462.8 350.2a3.1 3.1 0 1 0 6.3 0a3.1 3.1 0 1 0 -6.3 0zM463 354.2a3.1 3.1 0 1 0 6.3 0a3.1 3.1 0 1 0 -6.3 0zM463.1 349.2a3.1 3.1 0 1 0 6.3 0a3.1 3.1 0 1 0 -6.3 0zM463.2 353.7a3.1 3.1 0 1 0 6.3 0a3.1 3.1 0 1 0 -6.3 0zM463.3 355.3a3.1 3.1 0 1 0 6.3 0a3.1 3.1 0 1 0 -6.3 0zM463.5 350.1a3.1 3.1 0 1 0 6.3 0a3.1 3.1 0 1 0 -6.3 0zM463.6 354a3.1 3.1 0 1 0 6.3 0a3.1 3.1 0 1 0 -6.3 0zM463.7 348.4a3.1 3.1 0 1 0 6.3 0a3.1 3.1 0 1 0 -6.3 0zM463.8 352.3a3.1 3.1 0 1 0 6.3 0a3.1 3.1 0 1 0 -6.3 0zM464 356.5a3.1 3.1 0 1 0 6.3 0a3.1 3.1 0 1 0 -6.3 0zM464.1 349.4a3.1 3.1 0 1 0 6.3 0a3.1 3.1 0 1 0 -6.3 0zM464.2 354a3.1 3.1 0 1 0 6.3 0a3.1 3.1 0 1 0 -6.3 0zM464.3 354.6a3.1 3.1 0 1 0 6.3 0a3.1 3.1 0 1 0 -6.3 0zM464.4 351.3a3.1 3.1 0 1 0 6.3 0a3.1 3.1 0 1 0 -6.3 0zM464.6 355.9a3.1 3.1 0 1 0 6.3 0a3.1 3.1 0 1 0 -6.3 0zM464.7 348.7a3.1 3.1 0 1 0 6.3 0a3.1 3.1 0 1 0 -6.3 0zM464.8 354.5a3.1 3.1 0 1 0 6.3 0a3.1 3.1 0 1 0 -6.3 0zM464.9 357.7a3.1 3.1 0 1 0 6.3 0a3.1 3.1 0 1 0 -6.3 0zM465 350.7a3.1 3.1 0 1 0 6.3 0a3.1 3.1 0 1 0 -6.3 0zM465.2 355.8a3.1 3.1 0 1 0 6.3 0a3.1 3.1 0 1 0 -6.3 0zM465.3 350.1a3.1 3.1 0 1 0 6.3 0a3.1 3.1 0 1 0 -6.3 0zM465.4 354.7a3.1 3.1 0 1 0 6.3 0a3.1 3.1 0 1 0 -6.3 0zM465.5 357.3a3.1 3.1 0 1 0 6.3 0a3.1 3.1 0 1 0 -6.3 0zM465.6 351.4a3.1 3.1 0 1 0 6.3 0a3.1 3.1 0 1 0 -6.3 0zM465.8 356a3.1 3.1 0 1 0 6.3 0a3.1 3.1 0 1 0 -6.3 0zM465.9 357.8a3.1 3.1 0 1 0 6.3 0a3.1 3.1 0 1 0 -6.3 0zM466 353.1a3.1 3.1 0 1 0 6.3 0a3.1 3.1 0 1 0 -6.3 0zM466.1 356.8a3.1 3.1 0 1 0 6.3 0a3.1 3.1 0 1 0 -6.3 0zM466.2 349.4a3.1 3.1 0 1 0 6.3 0a3.1 3.1 0 1 0 -6.3 0zM466.4 355.3a3.1 3.1 0 1 0 6.3 0a3.1 3.1 0 1 0 -6.3 0zM466.5 357.6a3.1 3.1 0 1 0 6.3 0a3.1 3.1 0 1 0 -6.3 0zM466.6 353.3a3.1 3.1 0 1 0 6.3 0a3.1 3.1 0 1 0 -6.3 0zM466.7 355.9a3.1 3.1 0 1 0 6.3 0a3.1 3.1 0 1 0 -6.3 0zM466.8 358.2a3.1 3.1 0 1 0 6.3 0a3.1 3.1 0 1 0 -6.3 0zM466.9 354.4a3.1 3.1 0 1 0 6.3 0a3.1 3.1 0 1 0 -6.3 0zM467.1 358.3a3.1 3.1 0 1 0 6.3 0a3.1 3.1 0 1 0 -6.3 0zM467.2 353a3.1 3.1 0 1 0 6.3 0a3.1 3.1 0 1 0 -6.3 0zM467.3 356.5a3.1 3.1 0 1 0 6.3 0a3.1 3.1 0 1 0 -6.3 0zM467.4 359.9a3.1 3.1 0 1 0 6.3 0a3.1 3.1 0 1 0 -6.3 0zM467.5 352.9a3.1 3.1 0 1 0 6.3 0a3.1 3.1 0 1 0 -6.3 0zM467.6 357.2a3.1 3.1 0 1 0 6.3 0a3.1 3.1 0 1 0 -6.3 0zM467.7 350.9a3.1 3.1 0 1 0 6.3 0a3.1 3.1 0 1 0 -6.3 0zM467.9 356.3a3.1 3.1 0 1 0 6.3 0a3.1 3.1 0 1 0 -6.3 0zM468 359.3a3.1 3.1 0 1 0 6.3 0a3.1 3.1 0 1 0 -6.3 0zM468.1 353.2a3.1 3.1 0 1 0 6.3 0a3.1 3.1 0 1 0 -6.3 0zM468.2 357.3a3.1 3.1 0 1 0 6.3 0a3.1 3.1 0 1 0 -6.3 0zM468.3 359.7a3.1 3.1 0 1 0 6.3 0a3.1 3.1 0 1 0 -6.3 0zM468.4 355.8a3.1 3.1 0 1 0 6.3 0a3.1 3.1 0 1 0 -6.3 0zM468.5 360.1a3.1 3.1 0 1 0 6.3 0a3.1 3.1 0 1 0 -6.3 0zM468.7 351.9a3.1 3.1 0 1 0 6.3 0a3.1 3.1 0 1 0 -6.3 0zM468.8 358a3.1 3.1 0 1 0 6.3 0a3.1 3.1 0 1 0 -6.3 0zM468.9 360.2a3.1 3.1 0 1 0 6.3 0a3.1 3.1 0 1 0 -6.3 0zM469 353.4a3.1 3.1 0 1 0 6.3 0a3.1 3.1 0 1 0 -6.3 0zM469.1 358a3.1 3.1 0 1 0 6.3 0a3.1 3.1 0 1 0 -6.3 0zM469.2 351.1a3.1 3.1 0 1 0 6.3 0a3.1 3.1 0 1 0 -6.3 0zM469.3 357.3a3.1 3.1 0 1 0 6.3 0a3.1 3.1 0 1 0 -6.3 0zM469.4 361.4a3.1 3.1 0 1 0 6.3 0a3.1 3.1 0 1 0 -6.3 0zM469.6 355.7a3.1 3.1 0 1 0 6.3 0a3.1 3.1 0 1 0 -6.3 0zM469.7 358.8a3.1 3.1 0 1 0 6.3 0a3.1 3.1 0 1 0 -6.3 0zM469.8 361.8a3.1 3.1 0 1 0 6.3 0a3.1 3.1 0 1 0 -6.3 0zM469.9 356.8a3.1 3.1 0 1 0 6.3 0a3.1 3.1 0 1 0 -6.3 0zM470 360.7a3.1 3.1 0 1 0 6.3 0a3.1 3.1 0 1 0 -6.3 0zM470.1 354.4a3.1 3.1 0 1 0 6.3 0a3.1 3.1 0 1 0 -6.3 0zM470.2 359.6a3.1 3.1 0 1 0 6.3 0a3.1 3.1 0 1 0 -6.3 0zM470.3 362.2a3.1 3.1 0 1 0 6.3 0a3.1 3.1 0 1 0 -6.3 0zM470.4 356.5a3.1 3.1 0 1 0 6.3 0a3.1 3.1 0 1 0 -6.3 0zM470.6 360.1a3.1 3.1 0 1 0 6.3 0a3.1 3.1 0 1 0 -6.3 0zM470.7 362.7a3.1 3.1 0 1 0 6.3 0a3.1 3.1 0 1 0 -6.3 0zM470.8 358.6a3.1 3.1 0 1 0 6.3 0a3.1 3.1 0 1 0 -6.3 0zM470.9 361.2a3.1 3.1 0 1 0 6.3 0a3.1 3.1 0 1 0 -6.3 0zM471 355.8a3.1 3.1 0 1 0 6.3 0a3.1 3.1 0 1 0 -6.3 0zM471.1 360a3.1 3.1 0 1 0 6.3 0a3.1 3.1 0 1 0 -6.3 0zM471.2 363.5a3.1 3.1 0 1 0 6.3 0a3.1 3.1 0 1 0 -6.3 0zM471.3 359a3.1 3.1 0 1 0 6.3 0a3.1 3.1 0 1 0 -6.3 0zM471.4 362.5a3.1 3.1 0 1 0 6.3 0a3.1 3.1 0 1 0 -6.3 0zM471.5 354.2a3.1 3.1 0 1 0 6.3 0a3.1 3.1 0 1 0 -6.3 0zM471.6 359.2a3.1 3.1 0 1 0 6.3 0a3.1 3.1 0 1 0 -6.3 0zM471.7 362.1a3.1 3.1 0 1 0 6.3 0a3.1 3.1 0 1 0 -6.3 0zM471.9 357.4a3.1 3.1 0 1 0 6.3 0a3.1 3.1 0 1 0 -6.3 0zM472 360.6a3.1 3.1 0 1 0 6.3 0a3.1 3.1 0 1 0 -6.3 0zM472.1 365.1a3.1 3.1 0 1 0 6.3 0a3.1 3.1 0 1 0 -6.3 0zM472.2 359.7a3.1 3.1 0 1 0 6.3 0a3.1 3.1 0 1 0 -6.3 0zM472.3 363.1a3.1 3.1 0 1 0 6.3 0a3.1 3.1 0 1 0 -6.3 0zM472.4 355.5a3.1 3.1 0 1 0 6.3 0a3.1 3.1 0 1 0 -6.3 0zM472.5 361.1a3.1 3.1 0 1 0 6.3 0a3.1 3.1 0 1 0 -6.3 0zM472.6 364.1a3.1 3.1 0 1 0 6.3 0a3.1 3.1 0 1 0 -6.3 0zM472.7 357.4a3.1 3.1 0 1 0 6.3 0a3.1 3.1 0 1 0 -6.3 0zM472.8 362.1a3.1 3.1 0 1 0 6.3 0a3.1 3.1 0 1 0 -6.3 0zM472.9 354.9a3.1 3.1 0 1 0 6.3 0a3.1 3.1 0 1 0 -6.3 0zM473 359.7a3.1 3.1 0 1 0 6.3 0a3.1 3.1 0 1 0 -6.3 0zM473.1 363.6a3.1 3.1 0 1 0 6.3 0a3.1 3.1 0 1 0 -6.3 0zM473.2 358.6a3.1 3.1 0 1 0 6.3 0a3.1 3.1 0 1 0 -6.3 0zM473.3 361.7a3.1 3.1 0 1 0 6.3 0a3.1 3.1 0 1 0 -6.3 0zM473.4 365.9a3.1 3.1 0 1 0 6.3 0a3.1 3.1 0 1 0 -6.3 0zM473.6 360a3.1 3.1 0 1 0 6.3 0a3.1 3.1 0 1 0 -6.3 0zM473.7 363.7a3.1 3.1 0 1 0 6.3 0a3.1 3.1 0 1 0 -6.3 0zM473.8 356.9a3.1 3.1 0 1 0 6.3 0a3.1 3.1 0 1 0 -6.3 0zM473.9 362.1a3.1 3.1 0 1 0 6.3 0a3.1 3.1 0 1 0 -6.3 0zM474 366a3.1 3.1 0 1 0 6.3 0a3.1 3.1 0 1 0 -6.3 0zM474.1 359.2a3.1 3.1 0 1 0 6.3 0a3.1 3.1 0 1 0 -6.3 0zM474.2 363.4a3.1 3.1 0 1 0 6.3 0a3.1 3.1 0 1 0 -6.3 0zM474.3 366.8a3.1 3.1 0 1 0 6.3 0a3.1 3.1 0 1 0 -6.3 0zM474.4 360.4a3.1 3.1 0 1 0 6.3 0a3.1 3.1 0 1 0 -6.3 0zM474.5 365.3a3.1 3.1 0 1 0 6.3 0a3.1 3.1 0 1 0 -6.3 0zM474.6 357.3a3.1 3.1 0 1 0 6.3 0a3.1 3.1 0 1 0 -6.3 0zM474.7 363.4a3.1 3.1 0 1 0 6.3 0a3.1 3.1 0 1 0 -6.3 0zM474.8 367.5a3.1 3.1 0 1 0 6.3 0a3.1 3.1 0 1 0 -6.3 0zM474.9 361.7a3.1 3.1 0 1 0 6.3 0a3.1 3.1 0 1 0 -6.3 0zM475 364.3a3.1 3.1 0 1 0 6.3 0a3.1 3.1 0 1 0 -6.3 0zM475.1 356.7a3.1 3.1 0 1 0 6.3 0a3.1 3.1 0 1 0 -6.3 0zM475.2 362a3.1 3.1 0 1 0 6.3 0a3.1 3.1 0 1 0 -6.3 0zM475.3 366.6a3.1 3.1 0 1 0 6.3 0a3.1 3.1 0 1 0 -6.3 0zM475.4 359.2a3.1 3.1 0 1 0 6.3 0a3.1 3.1 0 1 0 -6.3 0zM475.5 363.9a3.1 3.1 0 1 0 6.3 0a3.1 3.1 0 1 0 -6.3 0zM475.6 367.9a3.1 3.1 0 1 0 6.3 0a3.1 3.1 0 1 0 -6.3 0zM475.7 360.7a3.1 3.1 0 1 0 6.3 0a3.1 3.1 0 1 0 -6.3 0zM475.8 367.1a3.1 3.1 0 1 0 6.3 0a3.1 3.1 0 1 0 -6.3 0zM475.9 359.1a3.1 3.1 0 1 0 6.3 0a3.1 3.1 0 1 0 -6.3 0zM476 364.7a3.1 3.1 0 1 0 6.3 0a3.1 3.1 0 1 0 -6.3 0zM476.1 367.2a3.1 3.1 0 1 0 6.3 0a3.1 3.1 0 1 0 -6.3 0zM476.2 361a3.1 3.1 0 1 0 6.3 0a3.1 3.1 0 1 0 -6.3 0zM476.3 366.7a3.1 3.1 0 1 0 6.3 0a3.1 3.1 0 1 0 -6.3 0zM476.4 368.2a3.1 3.1 0 1 0 6.3 0a3.1 3.1 0 1 0 -6.3 0zM476.5 364.1a3.1 3.1 0 1 0 6.3 0a3.1 3.1 0 1 0 -6.3 0zM476.6 367.6a3.1 3.1 0 1 0 6.3 0a3.1 3.1 0 1 0 -6.3 0zM476.7 360.2a3.1 3.1 0 1 0 6.3 0a3.1 3.1 0 1 0 -6.3 0zM476.8 366.3a3.1 3.1 0 1 0 6.3 0a3.1 3.1 0 1 0 -6.3 0zM476.9 370.8a3.1 3.1 0 1 0 6.3 0a3.1 3.1 0 1 0 -6.3 0zM477 362.7a3.1 3.1 0 1 0 6.3 0a3.1 3.1 0 1 0 -6.3 0zM477.1 366.2a3.1 3.1 0 1 0 6.3 0a3.1 3.1 0 1 0 -6.3 0zM477.2 359.9a3.1 3.1 0 1 0 6.3 0a3.1 3.1 0 1 0 -6.3 0zM477.3 364a3.1 3.1 0 1 0 6.3 0a3.1 3.1 0 1 0 -6.3 0zM477.4 369a3.1 3.1 0 1 0 6.3 0a3.1 3.1 0 1 0 -6.3 0zM477.5 361.2a3.1 3.1 0 1 0 6.3 0a3.1 3.1 0 1 0 -6.3 0zM477.6 368.5a3.1 3.1 0 1 0 6.3 0a3.1 3.1 0 1 0 -6.3 0zM477.7 370.5a3.1 3.1 0 1 0 6.3 0a3.1 3.1 0 1 0 -6.3 0zM477.8 364.9a3.1 3.1 0 1 0 6.3 0a3.1 3.1 0 1 0 -6.3 0zM477.9 368.4a3.1 3.1 0 1 0 6.3 0a3.1 3.1 0 1 0 -6.3 0zM478 361.6a3.1 3.1 0 1 0 6.3 0a3.1 3.1 0 1 0 -6.3 0zM478.1 367.9a3.1 3.1 0 1 0 6.3 0a3.1 3.1 0 1 0 -6.3 0zM478.2 371.1a3.1 3.1 0 1 0 6.3 0a3.1 3.1 0 1 0 -6.3 0zM478.3 362.8a3.1 3.1 0 1 0 6.3 0a3.1 3.1 0 1 0 -6.3 0zM478.4 369.3a3.1 3.1 0 1 0 6.3 0a3.1 3.1 0 1 0 -6.3 0zM478.5 359.7a3.1 3.1 0 1 0 6.3 0a3.1 3.1 0 1 0 -6.3 0zM478.6 363.7a3.1 3.1 0 1 0 6.3 0a3.1 3.1 0 1 0 -6.3 0zM478.7 368.8a3.1 3.1 0 1 0 6.3 0a3.1 3.1 0 1 0 -6.3 0zM478.7 362.7a3.1 3.1 0 1 0 6.3 0a3.1 3.1 0 1 0 -6.3 0zM478.8 368.1a3.1 3.1 0 1 0 6.3 0a3.1 3.1 0 1 0 -6.3 0zM478.9 370a3.1 3.1 0 1 0 6.3 0a3.1 3.1 0 1 0 -6.3 0zM479 364.8a3.1 3.1 0 1 0 6.3 0a3.1 3.1 0 1 0 -6.3 0zM479.1 370.1a3.1 3.1 0 1 0 6.3 0a3.1 3.1 0 1 0 -6.3 0zM479.2 361.9a3.1 3.1 0 1 0 6.3 0a3.1 3.1 0 1 0 -6.3 0zM479.3 366.5a3.1 3.1 0 1 0 6.3 0a3.1 3.1 0 1 0 -6.3 0zM479.4 369.7a3.1 3.1 0 1 0 6.3 0a3.1 3.1 0 1 0 -6.3 0zM479.5 363a3.1 3.1 0 1 0 6.3 0a3.1 3.1 0 1 0 -6.3 0zM479.6 369.2a3.1 3.1 0 1 0 6.3 0a3.1 3.1 0 1 0 -6.3 0zM479.7 370.7a3.1 3.1 0 1 0 6.3 0a3.1 3.1 0 1 0 -6.3 0zM479.8 366.5a3.1 3.1 0 1 0 6.3 0a3.1 3.1 0 1 0 -6.3 0zM479.9 368.2a3.1 3.1 0 1 0 6.3 0a3.1 3.1 0 1 0 -6.3 0zM480 362.1a3.1 3.1 0 1 0 6.3 0a3.1 3.1 0 1 0 -6.3 0zM480.1 368.3a3.1 3.1 0 1 0 6.3 0a3.1 3.1 0 1 0 -6.3 0zM480.2 370.7a3.1 3.1 0 1 0 6.3 0a3.1 3.1 0 1 0 -6.3 0zM480.3 366.1a3.1 3.1 0 1 0 6.3 0a3.1 3.1 0 1 0 -6.3 0zM480.4 370.7a3.1 3.1 0 1 0 6.3 0a3.1 3.1 0 1 0 -6.3 0zM480.4 363.3a3.1 3.1 0 1 0 6.3 0a3.1 3.1 0 1 0 -6.3 0zM480.5 367.5a3.1 3.1 0 1 0 6.3 0a3.1 3.1 0 1 0 -6.3 0zM480.6 372.2a3.1 3.1 0 1 0 6.3 0a3.1 3.1 0 1 0 -6.3 0zM480.7 364.2a3.1 3.1 0 1 0 6.3 0a3.1 3.1 0 1 0 -6.3 0zM480.8 368.8a3.1 3.1 0 1 0 6.3 0a3.1 3.1 0 1 0 -6.3 0zM480.9 372.9a3.1 3.1 0 1 0 6.3 0a3.1 3.1 0 1 0 -6.3 0zM481 366.1a3.1 3.1 0 1 0 6.3 0a3.1 3.1 0 1 0 -6.3 0zM481.1 371.2a3.1 3.1 0 1 0 6.3 0a3.1 3.1 0 1 0 -6.3 0zM481.2 364.2a3.1 3.1 0 1 0 6.3 0a3.1 3.1 0 1 0 -6.3 0zM481.3 368.7a3.1 3.1 0 1 0 6.3 0a3.1 3.1 0 1 0 -6.3 0zM481.4 371.7a3.1 3.1 0 1 0 6.3 0a3.1 3.1 0 1 0 -6.3 0zM481.5 367.7a3.1 3.1 0 1 0 6.3 0a3.1 3.1 0 1 0 -6.3 0zM481.6 370.3a3.1 3.1 0 1 0 6.3 0a3.1 3.1 0 1 0 -6.3 0zM481.6 374.8a3.1 3.1 0 1 0 6.3 0a3.1 3.1 0 1 0 -6.3 0zM481.7 369.3a3.1 3.1 0 1 0 6.3 0a3.1 3.1 0 1 0 -6.3 0zM481.8 373.2a3.1 3.1 0 1 0 6.3 0a3.1 3.1 0 1 0 -6.3 0zM481.9 364.8a3.1 3.1 0 1 0 6.3 0a3.1 3.1 0 1 0 -6.3 0zM482 369.3a3.1 3.1 0 1 0 6.3 0a3.1 3.1 0 1 0 -6.3 0zM482.1 374.4a3.1 3.1 0 1 0 6.3 0a3.1 3.1 0 1 0 -6.3 0zM482.2 367.9a3.1 3.1 0 1 0 6.3 0a3.1 3.1 0 1 0 -6.3 0zM482.3 372a3.1 3.1 0 1 0 6.3 0a3.1 3.1 0 1 0 -6.3 0zM482.4 363.1a3.1 3.1 0 1 0 6.3 0a3.1 3.1 0 1 0 -6.3 0zM482.5 371.2a3.1 3.1 0 1 0 6.3 0a3.1 3.1 0 1 0 -6.3 0zM482.6 373.1a3.1 3.1 0 1 0 6.3 0a3.1 3.1 0 1 0 -6.3 0zM482.6 368.2a3.1 3.1 0 1 0 6.3 0a3.1 3.1 0 1 0 -6.3 0zM482.7 368.8a3.1 3.1 0 1 0 6.3 0a3.1 3.1 0 1 0 -6.3 0zM482.8 375.4a3.1 3.1 0 1 0 6.3 0a3.1 3.1 0 1 0 -6.3 0zM482.9 368.4a3.1 3.1 0 1 0 6.3 0a3.1 3.1 0 1 0 -6.3 0zM483 374.1a3.1 3.1 0 1 0 6.3 0a3.1 3.1 0 1 0 -6.3 0zM483.1 365.3a3.1 3.1 0 1 0 6.3 0a3.1 3.1 0 1 0 -6.3 0zM483.2 369.3a3.1 3.1 0 1 0 6.3 0a3.1 3.1 0 1 0 -6.3 0zM483.3 374.5a3.1 3.1 0 1 0 6.3 0a3.1 3.1 0 1 0 -6.3 0zM483.4 367.1a3.1 3.1 0 1 0 6.3 0a3.1 3.1 0 1 0 -6.3 0zM483.4 371.4a3.1 3.1 0 1 0 6.3 0a3.1 3.1 0 1 0 -6.3 0zM483.5 363.7a3.1 3.1 0 1 0 6.3 0a3.1 3.1 0 1 0 -6.3 0zM483.6 369.9a3.1 3.1 0 1 0 6.3 0a3.1 3.1 0 1 0 -6.3 0zM483.7 372.1a3.1 3.1 0 1 0 6.3 0a3.1 3.1 0 1 0 -6.3 0zM483.8 366.8a3.1 3.1 0 1 0 6.3 0a3.1 3.1 0 1 0 -6.3 0zM483.9 370.9a3.1 3.1 0 1 0 6.3 0a3.1 3.1 0 1 0 -6.3 0zM484 375.3a3.1 3.1 0 1 0 6.3 0a3.1 3.1 0 1 0 -6.3 0zM484.1 367.9a3.1 3.1 0 1 0 6.3 0a3.1 3.1 0 1 0 -6.3 0zM484.1 374.5a3.1 3.1 0 1 0 6.3 0a3.1 3.1 0 1 0 -6.3 0zM484.2 364.7a3.1 3.1 0 1 0 6.3 0a3.1 3.1 0 1 0 -6.3 0zM484.3 370.8a3.1 3.1 0 1 0 6.3 0a3.1 3.1 0 1 0 -6.3 0zM484.4 374.6a3.1 3.1 0 1 0 6.3 0a3.1 3.1 0 1 0 -6.3 0zM484.5 369a3.1 3.1 0 1 0 6.3 0a3.1 3.1 0 1 0 -6.3 0zM484.6 373.8a3.1 3.1 0 1 0 6.3 0a3.1 3.1 0 1 0 -6.3 0zM484.7 376.3a3.1 3.1 0 1 0 6.3 0a3.1 3.1 0 1 0 -6.3 0zM484.8 371.4a3.1 3.1 0 1 0 6.3 0a3.1 3.1 0 1 0 -6.3 0zM484.8 376.9a3.1 3.1 0 1 0 6.3 0a3.1 3.1 0 1 0 -6.3 0zM484.9 367.3a3.1 3.1 0 1 0 6.3 0a3.1 3.1 0 1 0 -6.3 0zM485 372.3a3.1 3.1 0 1 0 6.3 0a3.1 3.1 0 1 0 -6.3 0zM485.1 377.6a3.1 3.1 0 1 0 6.3 0a3.1 3.1 0 1 0 -6.3 0zM485.2 370a3.1 3.1 0 1 0 6.3 0a3.1 3.1 0 1 0 -6.3 0zM485.3 375.7a3.1 3.1 0 1 0 6.3 0a3.1 3.1 0 1 0 -6.3 0zM485.4 365.9a3.1 3.1 0 1 0 6.3 0a3.1 3.1 0 1 0 -6.3 0zM485.4 370.7a3.1 3.1 0 1 0 6.3 0a3.1 3.1 0 1 0 -6.3 0zM485.5 376.4a3.1 3.1 0 1 0 6.3 0a3.1 3.1 0 1 0 -6.3 0zM485.6 367.2a3.1 3.1 0 1 0 6.3 0a3.1 3.1 0 1 0 -6.3 0zM485.7 375.4a3.1 3.1 0 1 0 6.3 0a3.1 3.1 0 1 0 -6.3 0zM485.8 377.3a3.1 3.1 0 1 0 6.3 0a3.1 3.1 0 1 0 -6.3 0zM485.9 371.4a3.1 3.1 0 1 0 6.3 0a3.1 3.1 0 1 0 -6.3 0zM486 376.4a3.1 3.1 0 1 0 6.3 0a3.1 3.1 0 1 0 -6.3 0zM486 368.6a3.1 3.1 0 1 0 6.3 0a3.1 3.1 0 1 0 -6.3 0zM486.1 373.1a3.1 3.1 0 1 0 6.3 0a3.1 3.1 0 1 0 -6.3 0zM486.2 376.5a3.1 3.1 0 1 0 6.3 0a3.1 3.1 0 1 0 -6.3 0zM486.3 369.2a3.1 3.1 0 1 0 6.3 0a3.1 3.1 0 1 0 -6.3 0zM486.4 375.6a3.1 3.1 0 1 0 6.3 0a3.1 3.1 0 1 0 -6.3 0zM486.5 365.4a3.1 3.1 0 1 0 6.3 0a3.1 3.1 0 1 0 -6.3 0zM486.6 372.8a3.1 3.1 0 1 0 6.3 0a3.1 3.1 0 1 0 -6.3 0zM486.6 378.5a3.1 3.1 0 1 0 6.3 0a3.1 3.1 0 1 0 -6.3 0zM486.7 368.5a3.1 3.1 0 1 0 6.3 0a3.1 3.1 0 1 0 -6.3 0zM486.8 375.9a3.1 3.1 0 1 0 6.3 0a3.1 3.1 0 1 0 -6.3 0zM486.9 376.8a3.1 3.1 0 1 0 6.3 0a3.1 3.1 0 1 0 -6.3 0zM487 373.4a3.1 3.1 0 1 0 6.3 0a3.1 3.1 0 1 0 -6.3 0zM487.1 378.3a3.1 3.1 0 1 0 6.3 0a3.1 3.1 0 1 0 -6.3 0zM487.1 367.5a3.1 3.1 0 1 0 6.3 0a3.1 3.1 0 1 0 -6.3 0zM487.2 375.2a3.1 3.1 0 1 0 6.3 0a3.1 3.1 0 1 0 -6.3 0zM487.3 377.8a3.1 3.1 0 1 0 6.3 0a3.1 3.1 0 1 0 -6.3 0zM487.4 370.2a3.1 3.1 0 1 0 6.3 0a3.1 3.1 0 1 0 -6.3 0zM487.5 377a3.1 3.1 0 1 0 6.3 0a3.1 3.1 0 1 0 -6.3 0zM487.6 379.1a3.1 3.1 0 1 0 6.3 0a3.1 3.1 0 1 0 -6.3 0zM487.6 374.4a3.1 3.1 0 1 0 6.3 0a3.1 3.1 0 1 0 -6.3 0zM487.7 378.7a3.1 3.1 0 1 0 6.3 0a3.1 3.1 0 1 0 -6.3 0zM487.8 369.8a3.1 3.1 0 1 0 6.3 0a3.1 3.1 0 1 0 -6.3 0zM487.9 376.3a3.1 3.1 0 1 0 6.3 0a3.1 3.1 0 1 0 -6.3 0zM488 379.7a3.1 3.1 0 1 0 6.3 0a3.1 3.1 0 1 0 -6.3 0zM488 372.8a3.1 3.1 0 1 0 6.3 0a3.1 3.1 0 1 0 -6.3 0zM488.1 379.2a3.1 3.1 0 1 0 6.3 0a3.1 3.1 0 1 0 -6.3 0zM488.2 366.9a3.1 3.1 0 1 0 6.3 0a3.1 3.1 0 1 0 -6.3 0zM488.3 375.1a3.1 3.1 0 1 0 6.3 0a3.1 3.1 0 1 0 -6.3 0zM488.4 379.8a3.1 3.1 0 1 0 6.3 0a3.1 3.1 0 1 0 -6.3 0zM488.5 371.3a3.1 3.1 0 1 0 6.3 0a3.1 3.1 0 1 0 -6.3 0zM488.5 376.1a3.1 3.1 0 1 0 6.3 0a3.1 3.1 0 1 0 -6.3 0zM488.6 382.2a3.1 3.1 0 1 0 6.3 0a3.1 3.1 0 1 0 -6.3 0zM488.7 374.2a3.1 3.1 0 1 0 6.3 0a3.1 3.1 0 1 0 -6.3 0zM488.8 380.2a3.1 3.1 0 1 0 6.3 0a3.1 3.1 0 1 0 -6.3 0zM488.9 370.6a3.1 3.1 0 1 0 6.3 0a3.1 3.1 0 1 0 -6.3 0zM488.9 374.9a3.1 3.1 0 1 0 6.3 0a3.1 3.1 0 1 0 -6.3 0zM489 380.3a3.1 3.1 0 1 0 6.3 0a3.1 3.1 0 1 0 -6.3 0zM489.1 373a3.1 3.1 0 1 0 6.3 0a3.1 3.1 0 1 0 -6.3 0zM489.2 379a3.1 3.1 0 1 0 6.3 0a3.1 3.1 0 1 0 -6.3 0zM489.3 382.3a3.1 3.1 0 1 0 6.3 0a3.1 3.1 0 1 0 -6.3 0zM489.3 373.3a3.1 3.1 0 1 0 6.3 0a3.1 3.1 0 1 0 -6.3 0zM489.4 381.9a3.1 3.1 0 1 0 6.3 0a3.1 3.1 0 1 0 -6.3 0zM489.5 372.1a3.1 3.1 0 1 0 6.3 0a3.1 3.1 0 1 0 -6.3 0zM489.6 379.4a3.1 3.1 0 1 0 6.3 0a3.1 3.1 0 1 0 -6.3 0zM489.7 381.9a3.1 3.1 0 1 0 6.3 0a3.1 3.1 0 1 0 -6.3 0zM489.7 373.6a3.1 3.1 0 1 0 6.3 0a3.1 3.1 0 1 0 -6.3 0zM489.8 380.2a3.1 3.1 0 1 0 6.3 0a3.1 3.1 0 1 0 -6.3 0zM489.9 370a3.1 3.1 0 1 0 6.3 0a3.1 3.1 0 1 0 -6.3 0zM490 377.5a3.1 3.1 0 1 0 6.3 0a3.1 3.1 0 1 0 -6.3 0zM490.1 381.7a3.1 3.1 0 1 0 6.3 0a3.1 3.1 0 1 0 -6.3 0zM490.1 373.2a3.1 3.1 0 1 0 6.3 0a3.1 3.1 0 1 0 -6.3 0zM490.2 379.6a3.1 3.1 0 1 0 6.3 0a3.1 3.1 0 1 0 -6.3 0zM490.3 383a3.1 3.1 0 1 0 6.3 0a3.1 3.1 0 1 0 -6.3 0zM490.4 376.5a3.1 3.1 0 1 0 6.3 0a3.1 3.1 0 1 0 -6.3 0zM490.5 380.6a3.1 3.1 0 1 0 6.3 0a3.1 3.1 0 1 0 -6.3 0zM490.5 372a3.1 3.1 0 1 0 6.3 0a3.1 3.1 0 1 0 -6.3 0zM490.6 379.8a3.1 3.1 0 1 0 6.3 0a3.1 3.1 0 1 0 -6.3 0zM490.7 382.8a3.1 3.1 0 1 0 6.3 0a3.1 3.1 0 1 0 -6.3 0zM490.8 376.7a3.1 3.1 0 1 0 6.3 0a3.1 3.1 0 1 0 -6.3 0zM490.9 382.1a3.1 3.1 0 1 0 6.3 0a3.1 3.1 0 1 0 -6.3 0zM490.9 372.1a3.1 3.1 0 1 0 6.3 0a3.1 3.1 0 1 0 -6.3 0zM491 378a3.1 3.1 0 1 0 6.3 0a3.1 3.1 0 1 0 -6.3 0zM491.1 382.3a3.1 3.1 0 1 0 6.3 0a3.1 3.1 0 1 0 -6.3 0zM491.2 374.6a3.1 3.1 0 1 0 6.3 0a3.1 3.1 0 1 0 -6.3 0zM491.2 379.7a3.1 3.1 0 1 0 6.3 0a3.1 3.1 0 1 0 -6.3 0zM491.3 384a3.1 3.1 0 1 0 6.3 0a3.1 3.1 0 1 0 -6.3 0zM491.4 375.4a3.1 3.1 0 1 0 6.3 0a3.1 3.1 0 1 0 -6.3 0zM491.5 382.3a3.1 3.1 0 1 0 6.3 0a3.1 3.1 0 1 0 -6.3 0zM491.6 371.5a3.1 3.1 0 1 0 6.3 0a3.1 3.1 0 1 0 -6.3 0zM491.6 378a3.1 3.1 0 1 0 6.3 0a3.1 3.1 0 1 0 -6.3 0zM491.7 385.6a3.1 3.1 0 1 0 6.3 0a3.1 3.1 0 1 0 -6.3 0zM491.8 376.1a3.1 3.1 0 1 0 6.3 0a3.1 3.1 0 1 0 -6.3 0zM491.9 380.6a3.1 3.1 0 1 0 6.3 0a3.1 3.1 0 1 0 -6.3 0zM491.9 385.7a3.1 3.1 0 1 0 6.3 0a3.1 3.1 0 1 0 -6.3 0zM492 379.2a3.1 3.1 0 1 0 6.3 0a3.1 3.1 0 1 0 -6.3 0zM492.1 383.8a3.1 3.1 0 1 0 6.3 0a3.1 3.1 0 1 0 -6.3 0zM492.2 373.6a3.1 3.1 0 1 0 6.3 0a3.1 3.1 0 1 0 -6.3 0zM492.2 382.4a3.1 3.1 0 1 0 6.3 0a3.1 3.1 0 1 0 -6.3 0zM492.3 383.5a3.1 3.1 0 1 0 6.3 0a3.1 3.1 0 1 0 -6.3 0zM492.4 375.8a3.1 3.1 0 1 0 6.3 0a3.1 3.1 0 1 0 -6.3 0zM492.5 382.8a3.1 3.1 0 1 0 6.3 0a3.1 3.1 0 1 0 -6.3 0zM492.6 373.6a3.1 3.1 0 1 0 6.3 0a3.1 3.1 0 1 0 -6.3 0zM492.6 379.5a3.1 3.1 0 1 0 6.3 0a3.1 3.1 0 1 0 -6.3 0zM492.7 384.9a3.1 3.1 0 1 0 6.3 0a3.1 3.1 0 1 0 -6.3 0zM492.8 376.7a3.1 3.1 0 1 0 6.3 0a3.1 3.1 0 1 0 -6.3 0zM492.9 382.9a3.1 3.1 0 1 0 6.3 0a3.1 3.1 0 1 0 -6.3 0zM492.9 388a3.1 3.1 0 1 0 6.3 0a3.1 3.1 0 1 0 -6.3 0zM493 378.6a3.1 3.1 0 1 0 6.3 0a3.1 3.1 0 1 0 -6.3 0zM493.1 384.3a3.1 3.1 0 1 0 6.3 0a3.1 3.1 0 1 0 -6.3 0zM493.2 374.7a3.1 3.1 0 1 0 6.3 0a3.1 3.1 0 1 0 -6.3 0zM493.2 381.6a3.1 3.1 0 1 0 6.3 0a3.1 3.1 0 1 0 -6.3 0zM493.3 386.3a3.1 3.1 0 1 0 6.3 0a3.1 3.1 0 1 0 -6.3 0zM493.4 378.4a3.1 3.1 0 1 0 6.3 0a3.1 3.1 0 1 0 -6.3 0zM493.5 383.3a3.1 3.1 0 1 0 6.3 0a3.1 3.1 0 1 0 -6.3 0zM493.5 373a3.1 3.1 0 1 0 6.3 0a3.1 3.1 0 1 0 -6.3 0zM493.6 382.5a3.1 3.1 0 1 0 6.3 0a3.1 3.1 0 1 0 -6.3 0zM493.7 384.2a3.1 3.1 0 1 0 6.3 0a3.1 3.1 0 1 0 -6.3 0zM493.8 376.2a3.1 3.1 0 1 0 6.3 0a3.1 3.1 0 1 0 -6.3 0zM493.8 383.2a3.1 3.1 0 1 0 6.3 0a3.1 3.1 0 1 0 -6.3 0zM493.9 387.1a3.1 3.1 0 1 0 6.3 0a3.1 3.1 0 1 0 -6.3 0zM494 379.3a3.1 3.1 0 1 0 6.3 0a3.1 3.1 0 1 0 -6.3 0zM494.1 385.9a3.1 3.1 0 1 0 6.3 0a3.1 3.1 0 1 0 -6.3 0zM494.1 373.5a3.1 3.1 0 1 0 6.3 0a3.1 3.1 0 1 0 -6.3 0zM494.2 382.3a3.1 3.1 0 1 0 6.3 0a3.1 3.1 0 1 0 -6.3 0zM494.3 386a3.1 3.1 0 1 0 6.3 0a3.1 3.1 0 1 0 -6.3 0zM494.4 377.4a3.1 3.1 0 1 0 6.3 0a3.1 3.1 0 1 0 -6.3 0zM494.4 385a3.1 3.1 0 1 0 6.3 0a3.1 3.1 0 1 0 -6.3 0zM494.5 388.1a3.1 3.1 0 1 0 6.3 0a3.1 3.1 0 1 0 -6.3 0zM494.6 381.8a3.1 3.1 0 1 0 6.3 0a3.1 3.1 0 1 0 -6.3 0zM494.7 386.4a3.1 3.1 0 1 0 6.3 0a3.1 3.1 0 1 0 -6.3 0zM494.7 377.1a3.1 3.1 0 1 0 6.3 0a3.1 3.1 0 1 0 -6.3 0zM494.8 382.7a3.1 3.1 0 1 0 6.3 0a3.1 3.1 0 1 0 -6.3 0zM494.9 387.9a3.1 3.1 0 1 0 6.3 0a3.1 3.1 0 1 0 -6.3 0zM494.9 379.7a3.1 3.1 0 1 0 6.3 0a3.1 3.1 0 1 0 -6.3 0zM495 386.2a3.1 3.1 0 1 0 6.3 0a3.1 3.1 0 1 0 -6.3 0zM495.1 374.5a3.1 3.1 0 1 0 6.3 0a3.1 3.1 0 1 0 -6.3 0zM495.2 383.6a3.1 3.1 0 1 0 6.3 0a3.1 3.1 0 1 0 -6.3 0zM495.2 386.2a3.1 3.1 0 1 0 6.3 0a3.1 3.1 0 1 0 -6.3 0zM495.3 378.8a3.1 3.1 0 1 0 6.3 0a3.1 3.1 0 1 0 -6.3 0zM495.4 387.4a3.1 3.1 0 1 0 6.3 0a3.1 3.1 0 1 0 -6.3 0zM495.5 391.1a3.1 3.1 0 1 0 6.3 0a3.1 3.1 0 1 0 -6.3 0zM495.5 382a3.1 3.1 0 1 0 6.3 0a3.1 3.1 0 1 0 -6.3 0zM495.6 389.3a3.1 3.1 0 1 0 6.3 0a3.1 3.1 0 1 0 -6.3 0zM495.7 378.3a3.1 3.1 0 1 0 6.3 0a3.1 3.1 0 1 0 -6.3 0zM495.7 384.8a3.1 3.1 0 1 0 6.3 0a3.1 3.1 0 1 0 -6.3 0zM495.8 390.8a3.1 3.1 0 1 0 6.3 0a3.1 3.1 0 1 0 -6.3 0zM495.9 381.6a3.1 3.1 0 1 0 6.3 0a3.1 3.1 0 1 0 -6.3 0zM496 387.6a3.1 3.1 0 1 0 6.3 0a3.1 3.1 0 1 0 -6.3 0zM496 391.5a3.1 3.1 0 1 0 6.3 0a3.1 3.1 0 1 0 -6.3 0zM496.1 385.3a3.1 3.1 0 1 0 6.3 0a3.1 3.1 0 1 0 -6.3 0zM496.2 389.9a3.1 3.1 0 1 0 6.3 0a3.1 3.1 0 1 0 -6.3 0zM496.2 380.6a3.1 3.1 0 1 0 6.3 0a3.1 3.1 0 1 0 -6.3 0zM496.3 386.7a3.1 3.1 0 1 0 6.3 0a3.1 3.1 0 1 0 -6.3 0zM496.4 392.9a3.1 3.1 0 1 0 6.3 0a3.1 3.1 0 1 0 -6.3 0zM496.5 382.2a3.1 3.1 0 1 0 6.3 0a3.1 3.1 0 1 0 -6.3 0zM496.5 386.7a3.1 3.1 0 1 0 6.3 0a3.1 3.1 0 1 0 -6.3 0zM496.6 378.3a3.1 3.1 0 1 0 6.3 0a3.1 3.1 0 1 0 -6.3 0zM496.7 386.4a3.1 3.1 0 1 0 6.3 0a3.1 3.1 0 1 0 -6.3 0zM496.7 392.7a3.1 3.1 0 1 0 6.3 0a3.1 3.1 0 1 0 -6.3 0zM496.8 380.9a3.1 3.1 0 1 0 6.3 0a3.1 3.1 0 1 0 -6.3 0zM496.9 391a3.1 3.1 0 1 0 6.3 0a3.1 3.1 0 1 0 -6.3 0zM497 392.6a3.1 3.1 0 1 0 6.3 0a3.1 3.1 0 1 0 -6.3 0zM497 386.9a3.1 3.1 0 1 0 6.3 0a3.1 3.1 0 1 0 -6.3 0zM497.1 391.7a3.1 3.1 0 1 0 6.3 0a3.1 3.1 0 1 0 -6.3 0zM497.2 379.6a3.1 3.1 0 1 0 6.3 0a3.1 3.1 0 1 0 -6.3 0zM497.2 389.3a3.1 3.1 0 1 0 6.3 0a3.1 3.1 0 1 0 -6.3 0zM497.3 393.5a3.1 3.1 0 1 0 6.3 0a3.1 3.1 0 1 0 -6.3 0zM497.4 384.3a3.1 3.1 0 1 0 6.3 0a3.1 3.1 0 1 0 -6.3 0zM497.5 389.5a3.1 3.1 0 1 0 6.3 0a3.1 3.1 0 1 0 -6.3 0zM497.5 379.3a3.1 3.1 0 1 0 6.3 0a3.1 3.1 0 1 0 -6.3 0zM497.6 388.1a3.1 3.1 0 1 0 6.3 0a3.1 3.1 0 1 0 -6.3 0zM497.7 392.7a3.1 3.1 0 1 0 6.3 0a3.1 3.1 0 1 0 -6.3 0zM497.7 381.7a3.1 3.1 0 1 0 6.3 0a3.1 3.1 0 1 0 -6.3 0zM497.8 389.5a3.1 3.1 0 1 0 6.3 0a3.1 3.1 0 1 0 -6.3 0zM497.9 393.3a3.1 3.1 0 1 0 6.3 0a3.1 3.1 0 1 0 -6.3 0zM497.9 386.8a3.1 3.1 0 1 0 6.3 0a3.1 3.1 0 1 0 -6.3 0zM498 392.1a3.1 3.1 0 1 0 6.3 0a3.1 3.1 0 1 0 -6.3 0zM498.1 380.3a3.1 3.1 0 1 0 6.3 0a3.1 3.1 0 1 0 -6.3 0zM498.2 389a3.1 3.1 0 1 0 6.3 0a3.1 3.1 0 1 0 -6.3 0zM498.2 395.3a3.1 3.1 0 1 0 6.3 0a3.1 3.1 0 1 0 -6.3 0zM498.3 386.5a3.1 3.1 0 1 0 6.3 0a3.1 3.1 0 1 0 -6.3 0zM498.4 392.6a3.1 3.1 0 1 0 6.3 0a3.1 3.1 0 1 0 -6.3 0zM498.4 395.1a3.1 3.1 0 1 0 6.3 0a3.1 3.1 0 1 0 -6.3 0zM498.5 388.7a3.1 3.1 0 1 0 6.3 0a3.1 3.1 0 1 0 -6.3 0zM498.6 394.6a3.1 3.1 0 1 0 6.3 0a3.1 3.1 0 1 0 -6.3 0zM498.6 382.7a3.1 3.1 0 1 0 6.3 0a3.1 3.1 0 1 0 -6.3 0zM498.7 390.8a3.1 3.1 0 1 0 6.3 0a3.1 3.1 0 1 0 -6.3 0zM498.8 397.6a3.1 3.1 0 1 0 6.3 0a3.1 3.1 0 1 0 -6.3 0zM498.8 388.3a3.1 3.1 0 1 0 6.3 0a3.1 3.1 0 1 0 -6.3 0zM498.9 393.5a3.1 3.1 0 1 0 6.3 0a3.1 3.1 0 1 0 -6.3 0zM499 383.4a3.1 3.1 0 1 0 6.3 0a3.1 3.1 0 1 0 -6.3 0zM499 391.9a3.1 3.1 0 1 0 6.3 0a3.1 3.1 0 1 0 -6.3 0zM499.1 397.9a3.1 3.1 0 1 0 6.3 0a3.1 3.1 0 1 0 -6.3 0zM499.2 384.9a3.1 3.1 0 1 0 6.3 0a3.1 3.1 0 1 0 -6.3 0zM499.3 391.6a3.1 3.1 0 1 0 6.3 0a3.1 3.1 0 1 0 -6.3 0zM499.3 396.8a3.1 3.1 0 1 0 6.3 0a3.1 3.1 0 1 0 -6.3 0zM499.4 387.7a3.1 3.1 0 1 0 6.3 0a3.1 3.1 0 1 0 -6.3 0zM499.5 394.9a3.1 3.1 0 1 0 6.3 0a3.1 3.1 0 1 0 -6.3 0zM499.5 386a3.1 3.1 0 1 0 6.3 0a3.1 3.1 0 1 0 -6.3 0zM499.6 393.5a3.1 3.1 0 1 0 6.3 0a3.1 3.1 0 1 0 -6.3 0zM499.7 398.1a3.1 3.1 0 1 0 6.3 0a3.1 3.1 0 1 0 -6.3 0zM499.7 389.4a3.1 3.1 0 1 0 6.3 0a3.1 3.1 0 1 0 -6.3 0zM499.8 394.2a3.1 3.1 0 1 0 6.3 0a3.1 3.1 0 1 0 -6.3 0zM499.9 400.2a3.1 3.1 0 1 0 6.3 0a3.1 3.1 0 1 0 -6.3 0zM499.9 392.6a3.1 3.1 0 1 0 6.3 0a3.1 3.1 0 1 0 -6.3 0zM500 398.5a3.1 3.1 0 1 0 6.3 0a3.1 3.1 0 1 0 -6.3 0zM500.1 388.3a3.1 3.1 0 1 0 6.3 0a3.1 3.1 0 1 0 -6.3 0zM500.1 395.6a3.1 3.1 0 1 0 6.3 0a3.1 3.1 0 1 0 -6.3 0zM500.2 400.1a3.1 3.1 0 1 0 6.3 0a3.1 3.1 0 1 0 -6.3 0zM500.3 391a3.1 3.1 0 1 0 6.3 0a3.1 3.1 0 1 0 -6.3 0zM500.3 398.4a3.1 3.1 0 1 0 6.3 0a3.1 3.1 0 1 0 -6.3 0zM500.4 384.5a3.1 3.1 0 1 0 6.3 0a3.1 3.1 0 1 0 -6.3 0zM500.5 394.2a3.1 3.1 0 1 0 6.3 0a3.1 3.1 0 1 0 -6.3 0zM500.5 400.8a3.1 3.1 0 1 0 6.3 0a3.1 3.1 0 1 0 -6.3 0zM500.6 391a3.1 3.1 0 1 0 6.3 0a3.1 3.1 0 1 0 -6.3 0zM500.7 395.6a3.1 3.1 0 1 0 6.3 0a3.1 3.1 0 1 0 -6.3 0zM500.7 401.3a3.1 3.1 0 1 0 6.3 0a3.1 3.1 0 1 0 -6.3 0zM500.8 391.9a3.1 3.1 0 1 0 6.3 0a3.1 3.1 0 1 0 -6.3 0zM500.9 399.1a3.1 3.1 0 1 0 6.3 0a3.1 3.1 0 1 0 -6.3 0zM500.9 388.6a3.1 3.1 0 1 0 6.3 0a3.1 3.1 0 1 0 -6.3 0zM501 394.1a3.1 3.1 0 1 0 6.3 0a3.1 3.1 0 1 0 -6.3 0zM501.1 389.2a3.1 3.1 0 1 0 6.3 0a3.1 3.1 0 1 0 -6.3 0zM501.2 398a3.1 3.1 0 1 0 6.3 0a3.1 3.1 0 1 0 -6.3 0zM501.3 385.6a3.1 3.1 0 1 0 6.3 0a3.1 3.1 0 1 0 -6.3 0zM501.3 395.9a3.1 3.1 0 1 0 6.3 0a3.1 3.1 0 1 0 -6.3 0zM501.5 388.8a3.1 3.1 0 1 0 6.3 0a3.1 3.1 0 1 0 -6.3 0zM501.5 397.2a3.1 3.1 0 1 0 6.3 0a3.1 3.1 0 1 0 -6.3 0zM501.7 392.7a3.1 3.1 0 1 0 6.3 0a3.1 3.1 0 1 0 -6.3 0zM501.7 401.1a3.1 3.1 0 1 0 6.3 0a3.1 3.1 0 1 0 -6.3 0zM501.8 388.9a3.1 3.1 0 1 0 6.3 0a3.1 3.1 0 1 0 -6.3 0zM501.9 396.5a3.1 3.1 0 1 0 6.3 0a3.1 3.1 0 1 0 -6.3 0zM501.9 401.6a3.1 3.1 0 1 0 6.3 0a3.1 3.1 0 1 0 -6.3 0zM502 391.7a3.1 3.1 0 1 0 6.3 0a3.1 3.1 0 1 0 -6.3 0zM502.1 399.8a3.1 3.1 0 1 0 6.3 0a3.1 3.1 0 1 0 -6.3 0zM502.2 394.3a3.1 3.1 0 1 0 6.3 0a3.1 3.1 0 1 0 -6.3 0zM502.2 400.2a3.1 3.1 0 1 0 6.3 0a3.1 3.1 0 1 0 -6.3 0zM502.3 390.7a3.1 3.1 0 1 0 6.3 0a3.1 3.1 0 1 0 -6.3 0zM502.4 398.7a3.1 3.1 0 1 0 6.3 0a3.1 3.1 0 1 0 -6.3 0zM502.5 393.5a3.1 3.1 0 1 0 6.3 0a3.1 3.1 0 1 0 -6.3 0zM502.6 400.9a3.1 3.1 0 1 0 6.3 0a3.1 3.1 0 1 0 -6.3 0zM502.6 388a3.1 3.1 0 1 0 6.3 0a3.1 3.1 0 1 0 -6.3 0zM502.7 398.7a3.1 3.1 0 1 0 6.3 0a3.1 3.1 0 1 0 -6.3 0zM502.8 394.5a3.1 3.1 0 1 0 6.3 0a3.1 3.1 0 1 0 -6.3 0zM502.9 400.6a3.1 3.1 0 1 0 6.3 0a3.1 3.1 0 1 0 -6.3 0zM503 396.3a3.1 3.1 0 1 0 6.3 0a3.1 3.1 0 1 0 -6.3 0zM503.1 391.3a3.1 3.1 0 1 0 6.3 0a3.1 3.1 0 1 0 -6.3 0zM503.2 400.3a3.1 3.1 0 1 0 6.3 0a3.1 3.1 0 1 0 -6.3 0zM503.3 393.6a3.1 3.1 0 1 0 6.3 0a3.1 3.1 0 1 0 -6.3 0zM503.5 391.3a3.1 3.1 0 1 0 6.3 0a3.1 3.1 0 1 0 -6.3 0zM503.5 400.8a3.1 3.1 0 1 0 6.3 0a3.1 3.1 0 1 0 -6.3 0zM503.7 392.5a3.1 3.1 0 1 0 6.3 0a3.1 3.1 0 1 0 -6.3 0zM503.8 397.9a3.1 3.1 0 1 0 6.3 0a3.1 3.1 0 1 0 -6.3 0zM504 393.2a3.1 3.1 0 1 0 6.3 0a3.1 3.1 0 1 0 -6.3 0zM504.2 394.3a3.1 3.1 0 1 0 6.3 0a3.1 3.1 0 1 0 -6.3 0zM504.5 396.3a3.1 3.1 0 1 0 6.3 0a3.1 3.1 0 1 0 -6.3 0zM504.7 398.3a3.1 3.1 0 1 0 6.3 0a3.1 3.1 0 1 0 -6.3 0zM504.8 395.4a3.1 3.1 0 1 0 6.3 0a3.1 3.1 0 1 0 -6.3 0zM505 400.6a3.1 3.1 0 1 0 6.3 0a3.1 3.1 0 1 0 -6.3 0zM505.3 395.1a3.1 3.1 0 1 0 6.3 0a3.1 3.1 0 1 0 -6.3 0zM505.5 401.2a3.1 3.1 0 1 0 6.3 0a3.1 3.1 0 1 0 -6.3 0zM505.8 400.2a3.1 3.1 0 1 0 6.3 0a3.1 3.1 0 1 0 -6.3 0zM506.1 400.1a3.1 3.1 0 1 0 6.3 0a3.1 3.1 0 1 0 -6.3 0zM506.9 400.9a3.1 3.1 0 1 0 6.3 0a3.1 3.1 0 1 0 -6.3 0z" fill="none" stroke="#ff4500" stroke-width="0.85"/>
<path d="M93 88.2l3.1 5.1h-6.3zM134.8 86.8l3.1 5.1h-6.3zM159.3 100l3.1 5.1h-6.3zM176.6 108.3l3.1 5.1h-6.3zM190.1 115l3.1 5.1h-6.3zM201.1 120l3.1 5.1h-6.3zM210.4 124.6l3.1 5.1h-6.3zM218.5 130.1l3.1 5.1h-6.3zM225.6 135.3l3.1 5.1h-6.3zM231.9 139.8l3.1 5.1h-6.3zM237.7 143.7l3.1 5.1h-6.3zM242.9 147.7l3.1 5.1h-6.3zM247.8 150.7l3.1 5.1h-6.3zM252.2 154.3l3.1 5.1h-6.3zM256.4 157.6l3.1 5.1h-6.3zM260.3 160.4l3.1 5.1h-6.3zM263.9 163.4l3.1 5.1h-6.3zM267.4 165.7l3.1 5.1h-6.3zM270.7 168.4l3.1 5.1h-6.3zM273.7 171.1l3.1 5.1h-6.3zM276.7 172.9l3.1 5.1h-6.3zM279.5 175.4l3.1 5.1h-6.3zM282.2 177.6l3.1 5.1h-6.3zM284.7 179.3l3.1 5.1h-6.3z" fill="none" stroke="#808080" stroke-width="0.35"/>
<path d="M92.7 91.4h.6v.6h-.6zM134.5 90h.6v.6h-.6zM159 103.2h.6v.6h-.6zM176.3 111.5h.6v.6h-.6zM189.8 118.2h.6v.6h-.6zM200.8 123.2h.6v.6h-.6zM210.1 127.9h.6v.6h-.6zM218.2 133.3h.6v.6h-.6zM225.3 138.5h.6v.6h-.6zM231.6 143h.6v.6h-.6zM237.4 146.9h.6v.6h-.6zM242.6 150.9h.6v.6h-.6zM247.5 153.9h.6v.6h-.6zM251.9 157.5h.6v.6h-.6zM256.1 160.8h.6v.6h-.6zM260 163.6h.6v.6h-.6zM263.6 166.7h.6v.6h-.6zM267.1 168.9h.6v.6h-.6zM270.4 171.7h.6v.6h-.6zM273.4 174.3h.6v.6h-.6zM276.4 176.1h.6v.6h-.6zM279.2 178.6h.6v.6h-.6zM281.9 180.8h.6v.6h-.6zM284.4 182.5h.6v.6h-.6z" fill="#808080"/>
<path d="M287.2 181.5l3.1 5.1h-6.3zM289.6 182.7l3.1 5.1h-6.3zM291.9 185l3.1 5.1h-6.3zM294 186.9l3.1 5.1h-6.3zM296.2 188.1l3.1 5.1h-6.3zM298.2 189.9l3.1 5.1h-6.3zM300.2 191.6l3.1 5.1h-6.3zM302.1 192.8l3.1 5.1h-6.3zM304 194.9l3.1 5.1h-6.3zM305.8 195.4l3.1 5.1h-6.3zM307.5 197.4l3.1 5.1h-6.3zM309.2 199.1l3.1 5.1h-6.3zM310.9 199.9l3.1 5.1h-6.3zM312.5 201.5l3.1 5.1h-6.3zM314 202.3l3.1 5.1h-6.3zM315.6 203.8l3.1 5.1h-6.3zM317.1 205.6l3.1 5.1h-6.3zM318.5 206l3.1 5.1h-6.3zM319.9 207.6l3.1 5.1h-6.3zM321.3 209.2l3.1 5.1h-6.3zM322.7 209.5l3.1 5.1h-6.3zM324 211.1l3.1 5.1h-6.3zM325.3 211.3l3.1 5.1h-6.3zM326.6 212.9l3.1 5.1h-6.3zM327.8 214.3l3.1 5.1h-6.3zM329 214.6l3.1 5.1h-6.3zM330.2 216.3l3.1 5.1h-6.3zM331.4 216.1l3.1 5.1h-6.3zM332.5 217.9l3.1 5.1h-6.3zM333.7 219.1l3.1 5.1h-6.3zM334.8 219.3l3.1 5.1h-6.3zM335.9 220.8l3.1 5.1h-6.3zM336.9 222l3.1 5.1h-6.3zM338 222.1l3.1 5.1h-6.3zM339 223.5l3.1 5.1h-6.3zM340 223.3l3.1 5.1h-6.3zM341 224.6l3.1 5.1h-6.3zM342 226.1l3.1 5.1h-6.3zM343 226.2l3.1 5.1h-6.3zM343.9 227.2l3.1 5.1h-6.3zM344.9 228.5l3.1 5.1h-6.3zM345.8 228.5l3.1 5.1h-6.3zM346.7 229.9l3.1 5.1h-6.3zM347.6 229.6l3.1 5.1h-6.3zM348.5 231.1l3.1 5.1h-6.3zM349.3 232.1l3.1 5.1h-6.3zM350.2 231.9l3.1 5.1h-6.3zM351 233.2l3.1 5.1h-6.3zM351.9 232.6l3.1 5.1h-6.3zM352.7 234.2l3.1 5.1h-6.3zM353.5 235.5l3.1 5.1h-6.3zM354.3 235.1l3.1 5.1h-6.3zM355.1 236.4l3.1 5.1h-6.3zM355.9 237.5l3.1 5.1h-6.3zM356.6 237.4l3.1 5.1h-6.3zM357.4 238.6l3.1 5.1h-6.3zM358.1 238l3.1 5.1h-6.3zM358.9 239.8l3.1 5.1h-6.3zM359.6 240.6l3.1 5.1h-6.3zM360.3 240.2l3.1 5.1h-6.3zM361 241.6l3.1 5.1h-6.3zM361.8 242.2l3.1 5.1h-6.3zM362.4 242.1l3.1 5.1h-6.3zM363.1 243.5l3.1 5.1h-6.3zM363.8 242.8l3.1 5.1h-6.3zM364.5 244.1l3.1 5.1h-6.3zM365.2 245.3l3.1 5.1h-6.3zM365.8 244.8l3.1 5.1h-6.3zM366.5 246.2l3.1 5.1h-6.3zM367.1 245.1l3.1 5.1h-6.3zM367.8 246.8l3.1 5.1h-6.3zM368.4 248l3.1 5.1h-6.3zM369 247l3.1 5.1h-6.3zM369.6 248l3.1 5.1h-6.3zM370.2 249.6l3.1 5.1h-6.3zM370.9 249.2l3.1 5.1h-6.3zM371.5 250.3l3.1 5.1h-6.3zM372 249.6l3.1 5.1h-6.3zM372.6 250.6l3.1 5.1h-6.3zM373.2 252l3.1 5.1h-6.3zM373.8 251.3l3.1 5.1h-6.3zM374.4 252.4l3.1 5.1h-6.3zM374.9 251.4l3.1 5.1h-6.3zM375.5 252.9l3.1 5.1h-6.3zM376 254.3l3.1 5.1h-6.3zM376.6 253.4l3.1 5.1h-6.3zM377.1 254.7l3.1 5.1h-6.3zM377.7 255.5l3.1 5.1h-6.3zM378.2 255.2l3.1 5.1h-6.3zM378.8 256.4l3.1 5.1h-6.3zM379.3 255.3l3.1 5.1h-6.3zM379.8 256.3l3.1 5.1h-6.3zM380.3 257.8l3.1 5.1h-6.3zM380.8 256.5l3.1 5.1h-6.3zM381.3 258.1l3.1 5.1h-6.3zM381.9 259.4l3.1 5.1h-6.3zM382.4 258.6l3.1 5.1h-6.3zM382.8 260l3.1 5.1h-6.3zM383.3 258.4l3.1 5.1h-6.3zM383.8 260.3l3.1 5.1h-6.3zM384.3 261.2l3.1 5.1h-6.3zM384.8 260.3l3.1 5.1h-6.3zM385.3 261.7l3.1 5.1h-6.3zM385.7 260.2l3.1 5.1h-6.3zM386.2 261.8l3.1 5.1h-6.3zM386.7 262.7l3.1 5.1h-6.3zM387.1 261.8l3.1 5.1h-6.3zM387.6 263.3l3.1 5.1h-6.3zM388.1 264.3l3.1 5.1h-6.3zM388.5 263.2l3.1 5.1h-6.3zM389 264.5l3.1 5.1h-6.3zM389.4 263.7l3.1 5.1h-6.3zM389.8 264.9l3.1 5.1h-6.3zM390.3 266l3.1 5.1h-6.3zM390.7 265l3.1 5.1h-6.3zM391.2 266.2l3.1 5.1h-6.3zM391.6 264.5l3.1 5.1h-6.3zM392 266.5l3.1 5.1h-6.3zM392.4 267.7l3.1 5.1h-6.3zM392.9 266.3l3.1 5.1h-6.3zM393.3 268l3.1 5.1h-6.3zM393.7 268.9l3.1 5.1h-6.3zM394.1 267.7l3.1 5.1h-6.3zM394.5 269.3l3.1 5.1h-6.3zM394.9 267.5l3.1 5.1h-6.3zM395.3 269.3l3.1 5.1h-6.3zM395.7 270.7l3.1 5.1h-6.3zM396.1 269.2l3.1 5.1h-6.3zM396.5 271l3.1 5.1h-6.3zM396.9 271.6l3.1 5.1h-6.3zM397.3 270.6l3.1 5.1h-6.3zM397.7 272l3.1 5.1h-6.3zM398.1 270l3.1 5.1h-6.3zM398.4 272.2l3.1 5.1h-6.3zM398.8 273.3l3.1 5.1h-6.3zM399.2 271.6l3.1 5.1h-6.3zM399.6 273.6l3.1 5.1h-6.3zM400 271.6l3.1 5.1h-6.3zM400.3 273.8l3.1 5.1h-6.3zM400.7 274.6l3.1 5.1h-6.3zM401.1 272.9l3.1 5.1h-6.3zM401.4 274.6l3.1 5.1h-6.3zM401.8 275.7l3.1 5.1h-6.3zM402.2 274.4l3.1 5.1h-6.3zM402.5 275.6l3.1 5.1h-6.3zM402.9 274.3l3.1 5.1h-6.3zM403.2 275.9l3.1 5.1h-6.3zM403.6 277.3l3.1 5.1h-6.3zM403.9 275.7l3.1 5.1h-6.3zM404.3 277l3.1 5.1h-6.3zM404.6 278.6l3.1 5.1h-6.3zM405 277.3l3.1 5.1h-6.3zM405.3 279l3.1 5.1h-6.3zM405.6 276.7l3.1 5.1h-6.3zM406 278.4l3.1 5.1h-6.3zM406.3 279.5l3.1 5.1h-6.3zM406.6 277.6l3.1 5.1h-6.3zM407 280.2l3.1 5.1h-6.3zM407.3 277.7l3.1 5.1h-6.3zM407.6 279.9l3.1 5.1h-6.3zM408 281.3l3.1 5.1h-6.3zM408.3 279.4l3.1 5.1h-6.3zM408.6 280.8l3.1 5.1h-6.3zM408.9 281.8l3.1 5.1h-6.3zM409.3 280.9l3.1 5.1h-6.3zM409.6 282.2l3.1 5.1h-6.3zM409.9 280.2l3.1 5.1h-6.3zM410.2 282.3l3.1 5.1h-6.3zM410.5 283.1l3.1 5.1h-6.3zM410.8 282.1l3.1 5.1h-6.3zM411.1 283.4l3.1 5.1h-6.3zM411.5 281.3l3.1 5.1h-6.3zM411.8 283.3l3.1 5.1h-6.3zM412.1 284.5l3.1 5.1h-6.3zM412.4 282.2l3.1 5.1h-6.3zM412.7 284.4l3.1 5.1h-6.3zM413 285.5l3.1 5.1h-6.3zM413.3 284.1l3.1 5.1h-6.3zM413.6 285.6l3.1 5.1h-6.3zM413.9 283.3l3.1 5.1h-6.3zM414.2 285.7l3.1 5.1h-6.3zM414.5 286.9l3.1 5.1h-6.3zM414.7 284.7l3.1 5.1h-6.3zM415 286.3l3.1 5.1h-6.3zM415.3 287.4l3.1 5.1h-6.3zM415.6 286.2l3.1 5.1h-6.3zM415.9 287.8l3.1 5.1h-6.3zM416.2 285.8l3.1 5.1h-6.3zM416.5 287.3l3.1 5.1h-6.3zM416.8 289.2l3.1 5.1h-6.3zM417 286.8l3.1 5.1h-6.3zM417.3 289.1l3.1 5.1h-6.3zM417.6 287l3.1 5.1h-6.3zM417.9 288.5l3.1 5.1h-6.3zM418.1 290.2l3.1 5.1h-6.3zM418.4 287.7l3.1 5.1h-6.3zM418.7 289.5l3.1 5.1h-6.3zM419 291l3.1 5.1h-6.3zM419.2 289.4l3.1 5.1h-6.3zM419.5 290.8l3.1 5.1h-6.3zM419.8 288.5l3.1 5.1h-6.3zM420 290.7l3.1 5.1h-6.3zM420.3 292l3.1 5.1h-6.3zM420.6 290.1l3.1 5.1h-6.3zM420.8 292.4l3.1 5.1h-6.3zM421.1 288.9l3.1 5.1h-6.3zM421.4 291.2l3.1 5.1h-6.3zM421.6 293.3l3.1 5.1h-6.3zM421.9 290l3.1 5.1h-6.3zM422.1 292.3l3.1 5.1h-6.3zM422.4 293.9l3.1 5.1h-6.3zM422.7 291.9l3.1 5.1h-6.3zM422.9 294.1l3.1 5.1h-6.3zM423.2 291.4l3.1 5.1h-6.3zM423.4 293.3l3.1 5.1h-6.3zM423.7 294.8l3.1 5.1h-6.3zM423.9 292.3l3.1 5.1h-6.3zM424.2 294.5l3.1 5.1h-6.3zM424.4 296l3.1 5.1h-6.3zM424.7 294.5l3.1 5.1h-6.3zM424.9 295.8l3.1 5.1h-6.3zM425.2 293.4l3.1 5.1h-6.3zM425.4 295.3l3.1 5.1h-6.3zM425.6 296.3l3.1 5.1h-6.3zM425.9 294.2l3.1 5.1h-6.3zM426.1 296.4l3.1 5.1h-6.3zM426.4 293.3l3.1 5.1h-6.3zM426.6 296.1l3.1 5.1h-6.3zM426.9 297.1l3.1 5.1h-6.3zM427.1 294.7l3.1 5.1h-6.3zM427.3 296.6l3.1 5.1h-6.3zM427.6 298.9l3.1 5.1h-6.3zM427.8 296l3.1 5.1h-6.3zM428 298.3l3.1 5.1h-6.3zM428.3 294.7l3.1 5.1h-6.3zM428.5 297.7l3.1 5.1h-6.3zM428.7 298.8l3.1 5.1h-6.3zM429 296.5l3.1 5.1h-6.3zM429.2 299l3.1 5.1h-6.3zM429.4 299.8l3.1 5.1h-6.3zM429.6 298.1l3.1 5.1h-6.3zM429.9 299.8l3.1 5.1h-6.3zM430.1 296.9l3.1 5.1h-6.3zM430.3 299.5l3.1 5.1h-6.3zM430.6 300.8l3.1 5.1h-6.3zM430.8 298.8l3.1 5.1h-6.3zM431 300.7l3.1 5.1h-6.3zM431.2 297.3l3.1 5.1h-6.3zM431.4 299.8l3.1 5.1h-6.3zM431.7 301.8l3.1 5.1h-6.3zM431.9 299.5l3.1 5.1h-6.3zM432.1 300.7l3.1 5.1h-6.3zM432.3 302.8l3.1 5.1h-6.3zM432.5 300.7l3.1 5.1h-6.3zM432.8 302.3l3.1 5.1h-6.3zM433 299.6l3.1 5.1h-6.3zM433.2 302l3.1 5.1h-6.3zM433.4 303l3.1 5.1h-6.3zM433.6 301.3l3.1 5.1h-6.3zM433.8 302.7l3.1 5.1h-6.3zM434 299.4l3.1 5.1h-6.3zM434.3 302.7l3.1 5.1h-6.3zM434.5 304.4l3.1 5.1h-6.3zM434.7 301.5l3.1 5.1h-6.3zM434.9 303.3l3.1 5.1h-6.3zM435.1 305l3.1 5.1h-6.3zM435.3 302.5l3.1 5.1h-6.3zM435.5 305l3.1 5.1h-6.3zM435.7 301.5l3.1 5.1h-6.3zM435.9 304l3.1 5.1h-6.3zM436.1 305l3.1 5.1h-6.3zM436.3 302.3l3.1 5.1h-6.3zM436.5 304.1l3.1 5.1h-6.3zM436.7 305.9l3.1 5.1h-6.3zM436.9 304.1l3.1 5.1h-6.3zM437.1 306.3l3.1 5.1h-6.3zM437.3 303.4l3.1 5.1h-6.3zM437.5 305.9l3.1 5.1h-6.3zM437.7 307.7l3.1 5.1h-6.3zM437.9 304.1l3.1 5.1h-6.3zM438.1 307.3l3.1 5.1h-6.3zM438.3 303.3l3.1 5.1h-6.3zM438.5 306l3.1 5.1h-6.3zM438.7 307.4l3.1 5.1h-6.3zM438.9 305.1l3.1 5.1h-6.3zM439.1 307.6l3.1 5.1h-6.3zM439.3 308.6l3.1 5.1h-6.3zM439.5 306.9l3.1 5.1h-6.3zM439.7 308.5l3.1 5.1h-6.3zM439.9 304.8l3.1 5.1h-6.3zM440.1 307.8l3.1 5.1h-6.3zM440.3 309.6l3.1 5.1h-6.3zM440.5 306.8l3.1 5.1h-6.3zM440.6 308.8l3.1 5.1h-6.3zM440.8 311l3.1 5.1h-6.3zM441 307.7l3.1 5.1h-6.3zM441.2 309.2l3.1 5.1h-6.3zM441.4 307l3.1 5.1h-6.3zM441.6 309.7l3.1 5.1h-6.3zM441.8 312.2l3.1 5.1h-6.3zM442 307.7l3.1 5.1h-6.3zM442.1 310.1l3.1 5.1h-6.3zM442.3 306.8l3.1 5.1h-6.3zM442.5 309.5l3.1 5.1h-6.3zM442.7 310.9l3.1 5.1h-6.3zM442.9 308.2l3.1 5.1h-6.3zM443.1 310.6l3.1 5.1h-6.3zM443.2 311.6l3.1 5.1h-6.3zM443.4 309.8l3.1 5.1h-6.3zM443.6 311.8l3.1 5.1h-6.3zM443.8 308.4l3.1 5.1h-6.3zM444 310.9l3.1 5.1h-6.3zM444.2 313.1l3.1 5.1h-6.3zM444.3 309.5l3.1 5.1h-6.3zM444.5 312.7l3.1 5.1h-6.3zM444.7 308.5l3.1 5.1h-6.3zM444.9 311.7l3.1 5.1h-6.3zM445 312.7l3.1 5.1h-6.3zM445.2 310.4l3.1 5.1h-6.3zM445.4 312.4l3.1 5.1h-6.3zM445.6 314l3.1 5.1h-6.3zM445.7 310.9l3.1 5.1h-6.3zM445.9 313.1l3.1 5.1h-6.3zM446.1 310.1l3.1 5.1h-6.3zM446.3 313l3.1 5.1h-6.3zM446.4 315l3.1 5.1h-6.3zM446.6 311.1l3.1 5.1h-6.3zM446.8 313.6l3.1 5.1h-6.3zM446.9 315.7l3.1 5.1h-6.3zM447.1 313l3.1 5.1h-6.3zM447.3 315.5l3.1 5.1h-6.3zM447.5 311.6l3.1 5.1h-6.3zM447.6 313.9l3.1 5.1h-6.3zM447.8 316.6l3.1 5.1h-6.3zM448 313.4l3.1 5.1h-6.3zM448.1 315.5l3.1 5.1h-6.3zM448.3 310.9l3.1 5.1h-6.3zM448.5 315.1l3.1 5.1h-6.3zM448.6 316.8l3.1 5.1h-6.3zM448.8 312.8l3.1 5.1h-6.3zM449 315.7l3.1 5.1h-6.3zM449.1 318.2l3.1 5.1h-6.3zM449.3 314.7l3.1 5.1h-6.3zM449.5 317.3l3.1 5.1h-6.3zM449.6 313.5l3.1 5.1h-6.3zM449.8 316l3.1 5.1h-6.3zM450 317.5l3.1 5.1h-6.3zM450.1 314.8l3.1 5.1h-6.3zM450.3 317.3l3.1 5.1h-6.3zM450.4 312.5l3.1 5.1h-6.3zM450.6 316.2l3.1 5.1h-6.3zM450.8 318.7l3.1 5.1h-6.3zM450.9 314.7l3.1 5.1h-6.3zM451.1 317.7l3.1 5.1h-6.3zM451.2 319.8l3.1 5.1h-6.3zM451.4 317.1l3.1 5.1h-6.3zM451.6 318.9l3.1 5.1h-6.3zM451.7 313.8l3.1 5.1h-6.3zM451.9 317.5l3.1 5.1h-6.3zM452 319.3l3.1 5.1h-6.3zM452.2 316.1l3.1 5.1h-6.3zM452.3 318.3l3.1 5.1h-6.3zM452.5 320.6l3.1 5.1h-6.3zM452.7 317.1l3.1 5.1h-6.3zM452.8 319.8l3.1 5.1h-6.3zM453 315.9l3.1 5.1h-6.3zM453.1 319.4l3.1 5.1h-6.3zM453.3 320.4l3.1 5.1h-6.3zM453.4 317.3l3.1 5.1h-6.3zM453.6 320.1l3.1 5.1h-6.3zM453.7 315.7l3.1 5.1h-6.3zM453.9 318.7l3.1 5.1h-6.3zM454 321.4l3.1 5.1h-6.3zM454.2 318.3l3.1 5.1h-6.3zM454.3 320.1l3.1 5.1h-6.3zM454.5 321.4l3.1 5.1h-6.3zM454.6 319.5l3.1 5.1h-6.3zM454.8 321.5l3.1 5.1h-6.3zM454.9 317.3l3.1 5.1h-6.3zM455.1 320.4l3.1 5.1h-6.3zM455.2 322.1l3.1 5.1h-6.3zM455.4 318.3l3.1 5.1h-6.3zM455.5 321.7l3.1 5.1h-6.3zM455.7 323.4l3.1 5.1h-6.3zM455.8 320.4l3.1 5.1h-6.3zM456 322.4l3.1 5.1h-6.3zM456.1 319.2l3.1 5.1h-6.3zM456.3 322.5l3.1 5.1h-6.3zM456.4 323.3l3.1 5.1h-6.3zM456.6 320.7l3.1 5.1h-6.3zM456.7 322.7l3.1 5.1h-6.3zM456.9 318.4l3.1 5.1h-6.3zM457 321.7l3.1 5.1h-6.3zM457.1 323.8l3.1 5.1h-6.3zM457.3 320.4l3.1 5.1h-6.3zM457.4 323.7l3.1 5.1h-6.3zM457.6 325.1l3.1 5.1h-6.3zM457.7 321.4l3.1 5.1h-6.3zM457.9 324.5l3.1 5.1h-6.3zM458 320.5l3.1 5.1h-6.3zM458.1 323.1l3.1 5.1h-6.3zM458.3 325.6l3.1 5.1h-6.3zM458.4 321.1l3.1 5.1h-6.3zM458.6 324.6l3.1 5.1h-6.3zM458.7 320.1l3.1 5.1h-6.3zM458.9 323.2l3.1 5.1h-6.3zM459 325.6l3.1 5.1h-6.3zM459.1 321.8l3.1 5.1h-6.3zM459.3 323.9l3.1 5.1h-6.3zM459.4 327.2l3.1 5.1h-6.3zM459.6 323.4l3.1 5.1h-6.3zM459.7 326.3l3.1 5.1h-6.3zM459.8 320.5l3.1 5.1h-6.3zM460 325l3.1 5.1h-6.3zM460.1 325.1l3.1 5.1h-6.3zM460.2 322.3l3.1 5.1h-6.3zM460.4 326.6l3.1 5.1h-6.3zM460.5 326.8l3.1 5.1h-6.3zM460.7 324.5l3.1 5.1h-6.3zM460.8 326.8l3.1 5.1h-6.3zM460.9 323.7l3.1 5.1h-6.3zM461.1 326.7l3.1 5.1h-6.3zM461.2 328.1l3.1 5.1h-6.3zM461.3 324.5l3.1 5.1h-6.3zM461.5 326.7l3.1 5.1h-6.3zM461.6 322l3.1 5.1h-6.3zM461.7 326.1l3.1 5.1h-6.3zM461.9 328.7l3.1 5.1h-6.3zM462 323.7l3.1 5.1h-6.3zM462.1 327.5l3.1 5.1h-6.3zM462.3 328.9l3.1 5.1h-6.3zM462.4 325.9l3.1 5.1h-6.3zM462.5 328.1l3.1 5.1h-6.3zM462.7 323.5l3.1 5.1h-6.3zM462.8 328l3.1 5.1h-6.3zM462.9 328.3l3.1 5.1h-6.3zM463.1 326.3l3.1 5.1h-6.3zM463.2 328.6l3.1 5.1h-6.3zM463.3 323.5l3.1 5.1h-6.3zM463.4 326.6l3.1 5.1h-6.3zM463.6 329.2l3.1 5.1h-6.3zM463.7 325l3.1 5.1h-6.3zM463.8 328.7l3.1 5.1h-6.3zM464 330.2l3.1 5.1h-6.3zM464.1 326.6l3.1 5.1h-6.3zM464.2 329.4l3.1 5.1h-6.3zM464.3 325.1l3.1 5.1h-6.3zM464.5 328.1l3.1 5.1h-6.3zM464.6 331.1l3.1 5.1h-6.3zM464.7 326.5l3.1 5.1h-6.3zM464.9 329l3.1 5.1h-6.3zM465 332l3.1 5.1h-6.3zM465.1 327.5l3.1 5.1h-6.3zM465.2 331.4l3.1 5.1h-6.3zM465.4 327l3.1 5.1h-6.3zM465.5 331l3.1 5.1h-6.3zM465.6 330.8l3.1 5.1h-6.3zM465.7 327.8l3.1 5.1h-6.3zM465.9 331.2l3.1 5.1h-6.3zM466 326.4l3.1 5.1h-6.3zM466.1 328.2l3.1 5.1h-6.3zM466.2 332l3.1 5.1h-6.3zM466.4 328.2l3.1 5.1h-6.3zM466.5 330.9l3.1 5.1h-6.3zM466.6 332.6l3.1 5.1h-6.3zM466.7 329.6l3.1 5.1h-6.3zM466.9 332.4l3.1 5.1h-6.3zM467 327.4l3.1 5.1h-6.3zM467.1 330.8l3.1 5.1h-6.3zM467.2 332.9l3.1 5.1h-6.3zM467.3 329.2l3.1 5.1h-6.3zM467.5 331.6l3.1 5.1h-6.3zM467.6 334.1l3.1 5.1h-6.3zM467.7 331l3.1 5.1h-6.3zM467.8 333.8l3.1 5.1h-6.3zM468 329.1l3.1 5.1h-6.3zM468.1 332l3.1 5.1h-6.3zM468.2 335l3.1 5.1h-6.3zM468.3 329.6l3.1 5.1h-6.3zM468.4 333.5l3.1 5.1h-6.3zM468.6 328.9l3.1 5.1h-6.3zM468.7 332.3l3.1 5.1h-6.3zM468.8 334.6l3.1 5.1h-6.3zM468.9 330.5l3.1 5.1h-6.3zM469 334.7l3.1 5.1h-6.3zM469.1 334.8l3.1 5.1h-6.3zM469.3 331l3.1 5.1h-6.3zM469.4 334.3l3.1 5.1h-6.3zM469.5 328.8l3.1 5.1h-6.3zM469.6 333l3.1 5.1h-6.3zM469.7 335.9l3.1 5.1h-6.3zM469.9 331.2l3.1 5.1h-6.3zM470 335.1l3.1 5.1h-6.3zM470.1 329.1l3.1 5.1h-6.3zM470.2 332.5l3.1 5.1h-6.3zM470.3 336.1l3.1 5.1h-6.3zM470.4 330.6l3.1 5.1h-6.3zM470.6 334.3l3.1 5.1h-6.3zM470.7 335.9l3.1 5.1h-6.3zM470.8 333.5l3.1 5.1h-6.3zM470.9 334.8l3.1 5.1h-6.3zM471 330.1l3.1 5.1h-6.3zM471.1 333.7l3.1 5.1h-6.3zM471.2 336.4l3.1 5.1h-6.3zM471.4 332.7l3.1 5.1h-6.3zM471.5 335.9l3.1 5.1h-6.3zM471.6 337.8l3.1 5.1h-6.3zM471.7 334.4l3.1 5.1h-6.3zM471.8 336.8l3.1 5.1h-6.3zM471.9 331.6l3.1 5.1h-6.3zM472 335.7l3.1 5.1h-6.3zM472.1 337.1l3.1 5.1h-6.3zM472.3 333.9l3.1 5.1h-6.3zM472.4 336.5l3.1 5.1h-6.3zM472.5 330.9l3.1 5.1h-6.3zM472.6 335.3l3.1 5.1h-6.3zM472.7 337.8l3.1 5.1h-6.3zM472.8 332.7l3.1 5.1h-6.3zM472.9 336.7l3.1 5.1h-6.3zM473 339l3.1 5.1h-6.3zM473.2 335.9l3.1 5.1h-6.3zM473.3 337.4l3.1 5.1h-6.3zM473.4 331.9l3.1 5.1h-6.3zM473.5 335.6l3.1 5.1h-6.3zM473.6 338.5l3.1 5.1h-6.3zM473.7 335l3.1 5.1h-6.3zM473.8 338.1l3.1 5.1h-6.3zM473.9 339.3l3.1 5.1h-6.3zM474 336.1l3.1 5.1h-6.3zM474.1 339.1l3.1 5.1h-6.3zM474.3 333.3l3.1 5.1h-6.3zM474.4 337.6l3.1 5.1h-6.3zM474.5 339.4l3.1 5.1h-6.3zM474.6 336.1l3.1 5.1h-6.3zM474.7 339.4l3.1 5.1h-6.3zM474.8 332.8l3.1 5.1h-6.3zM474.9 336.7l3.1 5.1h-6.3zM475 340.4l3.1 5.1h-6.3zM475.1 335.7l3.1 5.1h-6.3zM475.2 339.5l3.1 5.1h-6.3zM475.3 341.3l3.1 5.1h-6.3zM475.4 336.8l3.1 5.1h-6.3zM475.5 339.9l3.1 5.1h-6.3zM475.6 333.6l3.1 5.1h-6.3zM475.8 339.2l3.1 5.1h-6.3zM475.9 340.9l3.1 5.1h-6.3zM476 335.3l3.1 5.1h-6.3zM476.1 340l3.1 5.1h-6.3zM476.2 334.4l3.1 5.1h-6.3zM476.3 338.2l3.1 5.1h-6.3zM476.4 341.1l3.1 5.1h-6.3zM476.5 335.6l3.1 5.1h-6.3zM476.6 339.9l3.1 5.1h-6.3zM476.7 341.2l3.1 5.1h-6.3zM476.8 337.1l3.1 5.1h-6.3zM476.9 340.8l3.1 5.1h-6.3zM477 334.9l3.1 5.1h-6.3zM477.1 339.1l3.1 5.1h-6.3zM477.2 341.9l3.1 5.1h-6.3zM477.3 337.1l3.1 5.1h-6.3zM477.4 341l3.1 5.1h-6.3zM477.5 343.2l3.1 5.1h-6.3zM477.6 337.9l3.1 5.1h-6.3zM477.7 342.6l3.1 5.1h-6.3zM477.8 336.5l3.1 5.1h-6.3zM477.9 340.6l3.1 5.1h-6.3zM478 342.7l3.1 5.1h-6.3zM478.1 337.4l3.1 5.1h-6.3zM478.2 342.2l3.1 5.1h-6.3zM478.3 336.1l3.1 5.1h-6.3zM478.4 339.8l3.1 5.1h-6.3zM478.6 344.2l3.1 5.1h-6.3zM478.7 337.2l3.1 5.1h-6.3zM478.8 340.6l3.1 5.1h-6.3zM478.9 343.4l3.1 5.1h-6.3zM479 340.5l3.1 5.1h-6.3zM479.1 342.8l3.1 5.1h-6.3zM479.2 336.2l3.1 5.1h-6.3zM479.3 340.1l3.1 5.1h-6.3zM479.4 344.3l3.1 5.1h-6.3zM479.5 338.7l3.1 5.1h-6.3zM479.6 342.7l3.1 5.1h-6.3zM479.7 336l3.1 5.1h-6.3zM479.8 341l3.1 5.1h-6.3zM479.9 343.4l3.1 5.1h-6.3zM480 338.1l3.1 5.1h-6.3zM480.1 342.2l3.1 5.1h-6.3zM480.1 344.3l3.1 5.1h-6.3zM480.2 339.5l3.1 5.1h-6.3zM480.3 343.4l3.1 5.1h-6.3zM480.4 338.4l3.1 5.1h-6.3zM480.5 341.7l3.1 5.1h-6.3zM480.6 344.6l3.1 5.1h-6.3zM480.7 340l3.1 5.1h-6.3zM480.8 342.9l3.1 5.1h-6.3zM480.9 346.3l3.1 5.1h-6.3zM481 340.6l3.1 5.1h-6.3zM481.1 346.1l3.1 5.1h-6.3zM481.2 338.9l3.1 5.1h-6.3zM481.3 342.5l3.1 5.1h-6.3zM481.4 345.8l3.1 5.1h-6.3zM481.5 340.8l3.1 5.1h-6.3zM481.6 343.9l3.1 5.1h-6.3zM481.7 338.4l3.1 5.1h-6.3zM481.8 342l3.1 5.1h-6.3zM481.9 345.9l3.1 5.1h-6.3zM482 340.5l3.1 5.1h-6.3zM482.1 343.8l3.1 5.1h-6.3zM482.2 347.6l3.1 5.1h-6.3zM482.3 341.8l3.1 5.1h-6.3zM482.4 346l3.1 5.1h-6.3zM482.5 339.1l3.1 5.1h-6.3zM482.6 342.9l3.1 5.1h-6.3zM482.7 346.7l3.1 5.1h-6.3zM482.8 341.8l3.1 5.1h-6.3zM482.8 344.5l3.1 5.1h-6.3zM482.9 347.7l3.1 5.1h-6.3zM483 343.3l3.1 5.1h-6.3zM483.1 346.4l3.1 5.1h-6.3zM483.2 340.7l3.1 5.1h-6.3zM483.3 343.8l3.1 5.1h-6.3zM483.4 346.6l3.1 5.1h-6.3zM483.5 342l3.1 5.1h-6.3zM483.6 346.6l3.1 5.1h-6.3zM483.7 339.7l3.1 5.1h-6.3zM483.8 344.3l3.1 5.1h-6.3zM483.9 346.1l3.1 5.1h-6.3zM484 342.5l3.1 5.1h-6.3zM484.1 345.5l3.1 5.1h-6.3zM484.2 348.4l3.1 5.1h-6.3zM484.2 344.5l3.1 5.1h-6.3zM484.3 346.3l3.1 5.1h-6.3zM484.4 340.5l3.1 5.1h-6.3zM484.5 344.9l3.1 5.1h-6.3zM484.6 348.2l3.1 5.1h-6.3zM484.7 344l3.1 5.1h-6.3zM484.8 346.9l3.1 5.1h-6.3zM484.9 340.2l3.1 5.1h-6.3zM485 344.5l3.1 5.1h-6.3zM485.1 348.5l3.1 5.1h-6.3zM485.2 342.6l3.1 5.1h-6.3zM485.3 347.4l3.1 5.1h-6.3zM485.3 349.4l3.1 5.1h-6.3zM485.4 344.5l3.1 5.1h-6.3zM485.5 347.3l3.1 5.1h-6.3zM485.6 341.7l3.1 5.1h-6.3zM485.7 345.6l3.1 5.1h-6.3zM485.8 348.9l3.1 5.1h-6.3zM485.9 343l3.1 5.1h-6.3zM486 348.7l3.1 5.1h-6.3zM486.1 349.6l3.1 5.1h-6.3zM486.2 345.6l3.1 5.1h-6.3zM486.2 349.9l3.1 5.1h-6.3zM486.3 342.7l3.1 5.1h-6.3zM486.4 346.6l3.1 5.1h-6.3zM486.5 349l3.1 5.1h-6.3zM486.6 344.7l3.1 5.1h-6.3zM486.7 347.6l3.1 5.1h-6.3zM486.8 342.2l3.1 5.1h-6.3zM486.9 346.7l3.1 5.1h-6.3zM486.9 351.1l3.1 5.1h-6.3zM487 344.4l3.1 5.1h-6.3zM487.1 348.6l3.1 5.1h-6.3zM487.2 350.9l3.1 5.1h-6.3zM487.3 346.3l3.1 5.1h-6.3zM487.4 349.2l3.1 5.1h-6.3zM487.5 343.1l3.1 5.1h-6.3zM487.6 347.5l3.1 5.1h-6.3zM487.6 351.4l3.1 5.1h-6.3zM487.7 345.5l3.1 5.1h-6.3zM487.8 349.1l3.1 5.1h-6.3zM487.9 351.1l3.1 5.1h-6.3zM488 347.6l3.1 5.1h-6.3zM488.1 349.7l3.1 5.1h-6.3zM488.2 344l3.1 5.1h-6.3zM488.3 348.5l3.1 5.1h-6.3zM488.3 352.2l3.1 5.1h-6.3zM488.4 346.8l3.1 5.1h-6.3zM488.5 350.3l3.1 5.1h-6.3zM488.6 343l3.1 5.1h-6.3zM488.7 347.7l3.1 5.1h-6.3zM488.8 352.1l3.1 5.1h-6.3zM488.9 345.9l3.1 5.1h-6.3zM488.9 349.9l3.1 5.1h-6.3zM489 351.4l3.1 5.1h-6.3zM489.1 347.9l3.1 5.1h-6.3zM489.2 350.9l3.1 5.1h-6.3zM489.3 344.8l3.1 5.1h-6.3zM489.4 347.9l3.1 5.1h-6.3zM489.5 352.5l3.1 5.1h-6.3zM489.5 348.1l3.1 5.1h-6.3zM489.6 351.9l3.1 5.1h-6.3zM489.7 342.5l3.1 5.1h-6.3zM489.8 348l3.1 5.1h-6.3zM489.9 352.4l3.1 5.1h-6.3zM490 346.7l3.1 5.1h-6.3zM490 350.5l3.1 5.1h-6.3zM490.1 353.9l3.1 5.1h-6.3zM490.2 348.3l3.1 5.1h-6.3zM490.3 351.2l3.1 5.1h-6.3zM490.4 343.9l3.1 5.1h-6.3zM490.5 349.1l3.1 5.1h-6.3zM490.5 352.5l3.1 5.1h-6.3zM490.6 346.7l3.1 5.1h-6.3zM490.7 351.9l3.1 5.1h-6.3zM490.8 355.2l3.1 5.1h-6.3zM490.9 349.7l3.1 5.1h-6.3zM491 352.6l3.1 5.1h-6.3zM491 346.1l3.1 5.1h-6.3zM491.1 352.4l3.1 5.1h-6.3zM491.2 353.5l3.1 5.1h-6.3zM491.3 349l3.1 5.1h-6.3zM491.4 351.3l3.1 5.1h-6.3zM491.4 344.8l3.1 5.1h-6.3zM491.5 351l3.1 5.1h-6.3zM491.6 354.2l3.1 5.1h-6.3zM491.7 348.6l3.1 5.1h-6.3zM491.8 352.6l3.1 5.1h-6.3zM491.9 355l3.1 5.1h-6.3zM491.9 350.4l3.1 5.1h-6.3zM492 352.6l3.1 5.1h-6.3zM492.1 347.2l3.1 5.1h-6.3zM492.2 351.4l3.1 5.1h-6.3zM492.3 354.5l3.1 5.1h-6.3zM492.3 349.1l3.1 5.1h-6.3zM492.4 352.4l3.1 5.1h-6.3zM492.5 345.5l3.1 5.1h-6.3zM492.6 350.3l3.1 5.1h-6.3zM492.7 354.2l3.1 5.1h-6.3zM492.7 348.5l3.1 5.1h-6.3zM492.8 352.1l3.1 5.1h-6.3zM492.9 355.2l3.1 5.1h-6.3zM493 349.6l3.1 5.1h-6.3zM493.1 352.8l3.1 5.1h-6.3zM493.1 347l3.1 5.1h-6.3zM493.2 351.4l3.1 5.1h-6.3zM493.3 354.6l3.1 5.1h-6.3zM493.4 348.2l3.1 5.1h-6.3zM493.5 353.5l3.1 5.1h-6.3zM493.5 355.6l3.1 5.1h-6.3zM493.6 350.5l3.1 5.1h-6.3zM493.7 354.6l3.1 5.1h-6.3zM493.8 349.7l3.1 5.1h-6.3zM493.8 352.3l3.1 5.1h-6.3zM493.9 356l3.1 5.1h-6.3zM494 350.9l3.1 5.1h-6.3zM494.1 354.1l3.1 5.1h-6.3zM494.2 348.6l3.1 5.1h-6.3zM494.2 351.3l3.1 5.1h-6.3zM494.3 354l3.1 5.1h-6.3zM494.4 349.7l3.1 5.1h-6.3zM494.5 354.3l3.1 5.1h-6.3zM494.6 357l3.1 5.1h-6.3zM494.6 352.3l3.1 5.1h-6.3zM494.7 354.5l3.1 5.1h-6.3zM494.8 348.6l3.1 5.1h-6.3zM494.9 353.9l3.1 5.1h-6.3zM494.9 355.9l3.1 5.1h-6.3zM495 350.5l3.1 5.1h-6.3zM495.1 355.5l3.1 5.1h-6.3zM495.2 357.5l3.1 5.1h-6.3zM495.2 353.2l3.1 5.1h-6.3zM495.3 356.7l3.1 5.1h-6.3zM495.4 350.1l3.1 5.1h-6.3zM495.5 354l3.1 5.1h-6.3zM495.6 357.5l3.1 5.1h-6.3zM495.6 350.6l3.1 5.1h-6.3zM495.7 356.5l3.1 5.1h-6.3zM495.8 348.7l3.1 5.1h-6.3zM495.9 353.6l3.1 5.1h-6.3zM495.9 358.8l3.1 5.1h-6.3zM496 352.5l3.1 5.1h-6.3zM496.1 356.5l3.1 5.1h-6.3zM496.2 359.3l3.1 5.1h-6.3zM496.2 352.4l3.1 5.1h-6.3zM496.3 357.3l3.1 5.1h-6.3zM496.4 351l3.1 5.1h-6.3zM496.5 354.9l3.1 5.1h-6.3zM496.5 357.9l3.1 5.1h-6.3zM496.6 352.4l3.1 5.1h-6.3zM496.7 356.9l3.1 5.1h-6.3zM496.8 349.3l3.1 5.1h-6.3zM496.8 353.7l3.1 5.1h-6.3zM496.9 359.2l3.1 5.1h-6.3zM497 351.4l3.1 5.1h-6.3zM497.1 355.7l3.1 5.1h-6.3zM497.1 357.6l3.1 5.1h-6.3zM497.2 353.7l3.1 5.1h-6.3zM497.3 358.7l3.1 5.1h-6.3zM497.4 350.2l3.1 5.1h-6.3zM497.4 355.6l3.1 5.1h-6.3zM497.5 358.2l3.1 5.1h-6.3zM497.6 352l3.1 5.1h-6.3zM497.7 357l3.1 5.1h-6.3zM497.7 359.2l3.1 5.1h-6.3zM497.8 354.6l3.1 5.1h-6.3zM497.9 357.3l3.1 5.1h-6.3zM497.9 351.2l3.1 5.1h-6.3zM498 354l3.1 5.1h-6.3zM498.1 360.3l3.1 5.1h-6.3zM498.2 351.7l3.1 5.1h-6.3zM498.2 357l3.1 5.1h-6.3zM498.3 350.9l3.1 5.1h-6.3zM498.4 354.8l3.1 5.1h-6.3zM498.5 358.7l3.1 5.1h-6.3zM498.5 353.2l3.1 5.1h-6.3zM498.6 357.8l3.1 5.1h-6.3zM498.7 361.3l3.1 5.1h-6.3zM498.8 355.7l3.1 5.1h-6.3zM498.8 358.1l3.1 5.1h-6.3zM498.9 350.7l3.1 5.1h-6.3zM499 356.1l3.1 5.1h-6.3zM499 358.9l3.1 5.1h-6.3zM499.1 354.4l3.1 5.1h-6.3zM499.2 357.2l3.1 5.1h-6.3zM499.3 350.8l3.1 5.1h-6.3zM499.3 356.2l3.1 5.1h-6.3zM499.4 360.2l3.1 5.1h-6.3zM499.5 352.9l3.1 5.1h-6.3zM499.5 357.4l3.1 5.1h-6.3zM499.6 360.8l3.1 5.1h-6.3zM499.7 355.5l3.1 5.1h-6.3zM499.8 357.8l3.1 5.1h-6.3zM499.8 351.1l3.1 5.1h-6.3zM499.9 356.4l3.1 5.1h-6.3zM500 361.9l3.1 5.1h-6.3zM500 353.3l3.1 5.1h-6.3zM500.1 358.4l3.1 5.1h-6.3zM500.2 360l3.1 5.1h-6.3zM500.3 353.7l3.1 5.1h-6.3zM500.3 358.9l3.1 5.1h-6.3zM500.4 353.6l3.1 5.1h-6.3zM500.5 356.4l3.1 5.1h-6.3zM500.5 360.9l3.1 5.1h-6.3zM500.6 354.9l3.1 5.1h-6.3zM500.7 358.3l3.1 5.1h-6.3zM500.7 351.3l3.1 5.1h-6.3zM500.8 356.8l3.1 5.1h-6.3zM500.9 361.6l3.1 5.1h-6.3zM501 354.5l3.1 5.1h-6.3zM501 358.9l3.1 5.1h-6.3zM501.1 360.6l3.1 5.1h-6.3zM501.2 354.7l3.1 5.1h-6.3zM501.2 360.1l3.1 5.1h-6.3zM501.3 352.8l3.1 5.1h-6.3zM501.4 358.4l3.1 5.1h-6.3zM501.4 361.2l3.1 5.1h-6.3zM501.5 355.4l3.1 5.1h-6.3zM501.6 360l3.1 5.1h-6.3zM501.6 361.5l3.1 5.1h-6.3zM501.7 357.4l3.1 5.1h-6.3zM501.8 360.1l3.1 5.1h-6.3zM501.9 353.2l3.1 5.1h-6.3zM501.9 358.7l3.1 5.1h-6.3zM502 362.1l3.1 5.1h-6.3zM502.1 355.6l3.1 5.1h-6.3zM502.1 360.8l3.1 5.1h-6.3zM502.2 352.3l3.1 5.1h-6.3zM502.3 359.1l3.1 5.1h-6.3zM502.3 360.1l3.1 5.1h-6.3zM502.4 355l3.1 5.1h-6.3zM502.5 360.1l3.1 5.1h-6.3zM502.5 362.5l3.1 5.1h-6.3zM502.6 357.1l3.1 5.1h-6.3zM502.7 361.4l3.1 5.1h-6.3zM502.7 353.4l3.1 5.1h-6.3zM502.8 359.8l3.1 5.1h-6.3zM502.9 362.3l3.1 5.1h-6.3zM502.9 356.3l3.1 5.1h-6.3zM503 359.9l3.1 5.1h-6.3zM503.1 353.4l3.1 5.1h-6.3zM503.1 358.8l3.1 5.1h-6.3zM503.2 361.8l3.1 5.1h-6.3zM503.3 354.6l3.1 5.1h-6.3zM503.4 359.1l3.1 5.1h-6.3zM503.4 362.3l3.1 5.1h-6.3zM503.5 356.3l3.1 5.1h-6.3zM503.6 360.4l3.1 5.1h-6.3zM503.6 353.4l3.1 5.1h-6.3zM503.7 360.4l3.1 5.1h-6.3zM503.8 362.2l3.1 5.1h-6.3zM503.8 354.6l3.1 5.1h-6.3zM503.9 360.4l3.1 5.1h-6.3zM504 362.8l3.1 5.1h-6.3zM504 358.6l3.1 5.1h-6.3zM504.1 362l3.1 5.1h-6.3zM504.2 354.7l3.1 5.1h-6.3zM504.2 358.6l3.1 5.1h-6.3zM504.3 362.2l3.1 5.1h-6.3zM504.3 356.4l3.1 5.1h-6.3zM504.4 361.7l3.1 5.1h-6.3zM504.5 353.9l3.1 5.1h-6.3zM504.5 358.4l3.1 5.1h-6.3zM504.6 363l3.1 5.1h-6.3zM504.7 355.8l3.1 5.1h-6.3zM504.7 361.9l3.1 5.1h-6.3zM504.8 363.6l3.1 5.1h-6.3zM504.9 357.1l3.1 5.1h-6.3zM504.9 362l3.1 5.1h-6.3zM505 353.3l3.1 5.1h-6.3zM505.1 360.3l3.1 5.1h-6.3zM505.1 361.6l3.1 5.1h-6.3zM505.2 357.6l3.1 5.1h-6.3zM505.3 362.5l3.1 5.1h-6.3zM505.3 366.2l3.1 5.1h-6.3zM505.4 359.8l3.1 5.1h-6.3zM505.5 363.5l3.1 5.1h-6.3zM505.5 355.5l3.1 5.1h-6.3zM505.6 359.6l3.1 5.1h-6.3zM505.7 365l3.1 5.1h-6.3zM505.7 358.8l3.1 5.1h-6.3zM505.8 361.4l3.1 5.1h-6.3zM505.8 353.6l3.1 5.1h-6.3zM505.9 360.5l3.1 5.1h-6.3zM506 364.4l3.1 5.1h-6.3zM506 358.2l3.1 5.1h-6.3zM506.1 362.2l3.1 5.1h-6.3zM506.2 365.2l3.1 5.1h-6.3zM506.2 358.6l3.1 5.1h-6.3zM506.3 362.7l3.1 5.1h-6.3zM506.4 356.4l3.1 5.1h-6.3zM506.4 360.5l3.1 5.1h-6.3zM506.5 364.8l3.1 5.1h-6.3zM506.6 358.6l3.1 5.1h-6.3zM506.6 362.2l3.1 5.1h-6.3zM506.7 353.4l3.1 5.1h-6.3zM506.7 359.1l3.1 5.1h-6.3zM506.8 363.4l3.1 5.1h-6.3zM506.9 358.5l3.1 5.1h-6.3zM506.9 361.5l3.1 5.1h-6.3zM507 365.3l3.1 5.1h-6.3zM507.1 360.6l3.1 5.1h-6.3zM507.1 363.6l3.1 5.1h-6.3zM507.2 355.5l3.1 5.1h-6.3zM507.2 361.5l3.1 5.1h-6.3zM507.3 364.7l3.1 5.1h-6.3zM507.4 357.5l3.1 5.1h-6.3zM507.4 362.6l3.1 5.1h-6.3zM507.5 365l3.1 5.1h-6.3zM507.6 359.1l3.1 5.1h-6.3zM507.6 362.9l3.1 5.1h-6.3zM507.7 356.3l3.1 5.1h-6.3zM507.8 362.4l3.1 5.1h-6.3zM507.8 364.1l3.1 5.1h-6.3zM507.9 359.2l3.1 5.1h-6.3zM507.9 363.1l3.1 5.1h-6.3zM508 356.3l3.1 5.1h-6.3zM508.1 361.5l3.1 5.1h-6.3zM508.1 364l3.1 5.1h-6.3zM508.2 355.2l3.1 5.1h-6.3zM508.2 363.4l3.1 5.1h-6.3zM508.3 366.5l3.1 5.1h-6.3zM508.4 359.3l3.1 5.1h-6.3zM508.4 364l3.1 5.1h-6.3zM508.5 355.9l3.1 5.1h-6.3zM508.6 361.3l3.1 5.1h-6.3zM508.6 364.7l3.1 5.1h-6.3zM508.7 357.6l3.1 5.1h-6.3zM508.7 361.8l3.1 5.1h-6.3zM508.8 356.2l3.1 5.1h-6.3zM508.9 360.2l3.1 5.1h-6.3zM508.9 363.8l3.1 5.1h-6.3zM509 356.5l3.1 5.1h-6.3zM509 361.9l3.1 5.1h-6.3zM509.1 365.2l3.1 5.1h-6.3zM509.2 359.3l3.1 5.1h-6.3zM509.2 363.2l3.1 5.1h-6.3zM509.3 356.7l3.1 5.1h-6.3zM509.4 359.7l3.1 5.1h-6.3zM509.4 366.3l3.1 5.1h-6.3zM509.5 359.2l3.1 5.1h-6.3zM509.5 363.5l3.1 5.1h-6.3zM509.6 365.3l3.1 5.1h-6.3zM509.7 359.8l3.1 5.1h-6.3zM509.7 364.4l3.1 5.1h-6.3zM509.8 358.4l3.1 5.1h-6.3zM509.8 362.3l3.1 5.1h-6.3zM509.9 364.9l3.1 5.1h-6.3zM510 358.6l3.1 5.1h-6.3zM510 363.6l3.1 5.1h-6.3zM510.1 354.6l3.1 5.1h-6.3zM510.1 361.9l3.1 5.1h-6.3zM510.2 363.6l3.1 5.1h-6.3zM510.3 357.3l3.1 5.1h-6.3zM510.3 361.6l3.1 5.1h-6.3zM510.4 366.9l3.1 5.1h-6.3zM510.4 359.6l3.1 5.1h-6.3zM510.5 364.7l3.1 5.1h-6.3zM510.6 356.7l3.1 5.1h-6.3zM510.6 361.5l3.1 5.1h-6.3zM510.7 366.3l3.1 5.1h-6.3zM510.7 359.9l3.1 5.1h-6.3zM510.8 364.2l3.1 5.1h-6.3zM510.9 365.9l3.1 5.1h-6.3zM510.9 361.2l3.1 5.1h-6.3zM511 365.2l3.1 5.1h-6.3zM511 358.9l3.1 5.1h-6.3zM511.1 362.8l3.1 5.1h-6.3zM511.1 366.2l3.1 5.1h-6.3zM511.2 358.2l3.1 5.1h-6.3zM511.3 363.9l3.1 5.1h-6.3zM511.3 357.2l3.1 5.1h-6.3zM511.4 361.5l3.1 5.1h-6.3zM511.4 365.8l3.1 5.1h-6.3zM511.5 360.1l3.1 5.1h-6.3zM511.6 363.5l3.1 5.1h-6.3zM511.6 366.7l3.1 5.1h-6.3zM511.7 360.5l3.1 5.1h-6.3zM511.7 363.9l3.1 5.1h-6.3zM511.8 356.9l3.1 5.1h-6.3zM511.9 362.4l3.1 5.1h-6.3zM511.9 366.4l3.1 5.1h-6.3zM512 360.2l3.1 5.1h-6.3zM512 364l3.1 5.1h-6.3zM512.1 356.7l3.1 5.1h-6.3zM512.1 360.4l3.1 5.1h-6.3zM512.2 365.6l3.1 5.1h-6.3zM512.3 357.9l3.1 5.1h-6.3zM512.3 363.7l3.1 5.1h-6.3zM512.4 366.6l3.1 5.1h-6.3zM512.4 360.3l3.1 5.1h-6.3zM512.5 363.8l3.1 5.1h-6.3zM512.5 355.9l3.1 5.1h-6.3zM512.6 362.7l3.1 5.1h-6.3zM512.7 365.9l3.1 5.1h-6.3zM512.7 358.8l3.1 5.1h-6.3zM512.8 364l3.1 5.1h-6.3zM512.8 367.9l3.1 5.1h-6.3zM512.9 361.3l3.1 5.1h-6.3zM512.9 365.3l3.1 5.1h-6.3zM513 357.2l3.1 5.1h-6.3zM513.1 362.6l3.1 5.1h-6.3zM513.1 365.6l3.1 5.1h-6.3zM513.2 360.5l3.1 5.1h-6.3zM513.2 364.2l3.1 5.1h-6.3zM513.3 356.6l3.1 5.1h-6.3zM513.3 361.9l3.1 5.1h-6.3zM513.4 365.8l3.1 5.1h-6.3zM513.5 359.3l3.1 5.1h-6.3zM513.5 364.7l3.1 5.1h-6.3zM513.6 368.8l3.1 5.1h-6.3zM513.6 361.7l3.1 5.1h-6.3zM513.7 364.9l3.1 5.1h-6.3zM513.7 357.9l3.1 5.1h-6.3zM513.8 363.9l3.1 5.1h-6.3zM513.9 365.6l3.1 5.1h-6.3zM513.9 360.8l3.1 5.1h-6.3zM514 366.4l3.1 5.1h-6.3zM514 366.3l3.1 5.1h-6.3zM514.1 361l3.1 5.1h-6.3zM514.1 366.7l3.1 5.1h-6.3zM514.2 359.7l3.1 5.1h-6.3zM514.3 362.1l3.1 5.1h-6.3zM514.3 367.3l3.1 5.1h-6.3zM514.4 360.2l3.1 5.1h-6.3zM514.4 365.3l3.1 5.1h-6.3zM514.5 356.3l3.1 5.1h-6.3zM514.5 362.4l3.1 5.1h-6.3zM514.6 365.2l3.1 5.1h-6.3zM514.6 360l3.1 5.1h-6.3zM514.7 364.5l3.1 5.1h-6.3zM514.8 365.8l3.1 5.1h-6.3zM514.8 361l3.1 5.1h-6.3zM514.9 365.6l3.1 5.1h-6.3zM514.9 356.4l3.1 5.1h-6.3zM515 363.4l3.1 5.1h-6.3zM515 365.8l3.1 5.1h-6.3zM515.1 360.6l3.1 5.1h-6.3zM515.1 366.3l3.1 5.1h-6.3zM515.2 357l3.1 5.1h-6.3zM515.3 362.4l3.1 5.1h-6.3zM515.3 366.3l3.1 5.1h-6.3zM515.4 357.4l3.1 5.1h-6.3zM515.4 365.2l3.1 5.1h-6.3zM515.5 367.3l3.1 5.1h-6.3zM515.5 362.3l3.1 5.1h-6.3zM515.6 365.8l3.1 5.1h-6.3zM515.6 358.3l3.1 5.1h-6.3zM515.7 363.4l3.1 5.1h-6.3zM515.7 367.1l3.1 5.1h-6.3zM515.8 359l3.1 5.1h-6.3zM515.9 365.1l3.1 5.1h-6.3zM515.9 367.9l3.1 5.1h-6.3zM516 361.4l3.1 5.1h-6.3zM516 367.3l3.1 5.1h-6.3zM516.1 358.7l3.1 5.1h-6.3zM516.1 364.3l3.1 5.1h-6.3zM516.2 367l3.1 5.1h-6.3zM516.2 361l3.1 5.1h-6.3zM516.3 366.4l3.1 5.1h-6.3zM516.3 357l3.1 5.1h-6.3zM516.4 363.6l3.1 5.1h-6.3zM516.5 366.3l3.1 5.1h-6.3zM516.5 361.5l3.1 5.1h-6.3zM516.6 364.3l3.1 5.1h-6.3zM516.6 366.5l3.1 5.1h-6.3zM516.7 361.6l3.1 5.1h-6.3zM516.7 366.6l3.1 5.1h-6.3zM516.8 357.9l3.1 5.1h-6.3zM516.8 364.2l3.1 5.1h-6.3zM516.9 366l3.1 5.1h-6.3zM516.9 360.2l3.1 5.1h-6.3zM517 364.9l3.1 5.1h-6.3zM517 356.8l3.1 5.1h-6.3zM517.1 362l3.1 5.1h-6.3zM517.1 366l3.1 5.1h-6.3zM517.2 359.4l3.1 5.1h-6.3zM517.3 363.4l3.1 5.1h-6.3zM517.3 366.9l3.1 5.1h-6.3zM517.4 360.4l3.1 5.1h-6.3zM517.4 366.2l3.1 5.1h-6.3zM517.5 357.9l3.1 5.1h-6.3zM517.5 364.1l3.1 5.1h-6.3zM517.6 366.8l3.1 5.1h-6.3zM517.6 361.7l3.1 5.1h-6.3zM517.7 365l3.1 5.1h-6.3zM517.7 368.2l3.1 5.1h-6.3zM517.8 360.7l3.1 5.1h-6.3zM517.8 366.9l3.1 5.1h-6.3zM517.9 359.5l3.1 5.1h-6.3zM517.9 363.8l3.1 5.1h-6.3zM518 367.1l3.1 5.1h-6.3zM518 360l3.1 5.1h-6.3zM518.1 366.5l3.1 5.1h-6.3zM518.2 356.1l3.1 5.1h-6.3zM518.2 362.9l3.1 5.1h-6.3zM518.3 368l3.1 5.1h-6.3zM518.3 359.6l3.1 5.1h-6.3zM518.4 364l3.1 5.1h-6.3zM518.4 367.6l3.1 5.1h-6.3zM518.5 362.7l3.1 5.1h-6.3zM518.5 367.2l3.1 5.1h-6.3zM518.6 356.5l3.1 5.1h-6.3zM518.6 364.6l3.1 5.1h-6.3zM518.7 368l3.1 5.1h-6.3zM518.7 360.9l3.1 5.1h-6.3zM518.8 365.9l3.1 5.1h-6.3zM518.8 366.5l3.1 5.1h-6.3zM518.9 362.3l3.1 5.1h-6.3zM518.9 368l3.1 5.1h-6.3zM519 359.8l3.1 5.1h-6.3zM519 365.1l3.1 5.1h-6.3zM519.1 368.2l3.1 5.1h-6.3zM519.1 360.4l3.1 5.1h-6.3zM519.2 366.4l3.1 5.1h-6.3zM519.2 356.5l3.1 5.1h-6.3zM519.3 362.7l3.1 5.1h-6.3zM519.4 369.5l3.1 5.1h-6.3zM519.4 362.2l3.1 5.1h-6.3zM519.5 366.3l3.1 5.1h-6.3zM519.5 368.9l3.1 5.1h-6.3zM519.6 362.5l3.1 5.1h-6.3zM519.6 365.5l3.1 5.1h-6.3zM519.7 358.8l3.1 5.1h-6.3zM519.7 364.1l3.1 5.1h-6.3zM519.8 368l3.1 5.1h-6.3zM519.8 360.8l3.1 5.1h-6.3zM519.9 366.3l3.1 5.1h-6.3zM519.9 357l3.1 5.1h-6.3zM520 364.6l3.1 5.1h-6.3zM520 366.3l3.1 5.1h-6.3zM520.1 359.3l3.1 5.1h-6.3zM520.1 364.3l3.1 5.1h-6.3zM520.2 369.1l3.1 5.1h-6.3zM520.2 361.8l3.1 5.1h-6.3zM520.3 366.9l3.1 5.1h-6.3zM520.3 357.2l3.1 5.1h-6.3zM520.4 365l3.1 5.1h-6.3zM520.4 368.9l3.1 5.1h-6.3zM520.5 360.8l3.1 5.1h-6.3zM520.5 365l3.1 5.1h-6.3zM520.6 368.9l3.1 5.1h-6.3zM520.6 362.4l3.1 5.1h-6.3zM520.7 366.6l3.1 5.1h-6.3zM520.7 360.1l3.1 5.1h-6.3zM520.8 365.1l3.1 5.1h-6.3zM520.8 368.4l3.1 5.1h-6.3zM520.9 361l3.1 5.1h-6.3zM520.9 365.5l3.1 5.1h-6.3zM521 359.2l3.1 5.1h-6.3zM521 364.9l3.1 5.1h-6.3zM521.1 367.5l3.1 5.1h-6.3zM521.1 360.1l3.1 5.1h-6.3zM521.2 365.6l3.1 5.1h-6.3zM521.2 368.9l3.1 5.1h-6.3zM521.3 364.2l3.1 5.1h-6.3zM521.3 368.3l3.1 5.1h-6.3zM521.4 360.3l3.1 5.1h-6.3zM521.4 364l3.1 5.1h-6.3zM521.5 368l3.1 5.1h-6.3zM521.5 361l3.1 5.1h-6.3zM521.6 367.2l3.1 5.1h-6.3zM521.6 357.4l3.1 5.1h-6.3zM521.7 364.4l3.1 5.1h-6.3zM521.7 367.6l3.1 5.1h-6.3zM521.8 359.9l3.1 5.1h-6.3zM521.8 366.6l3.1 5.1h-6.3zM521.9 368.4l3.1 5.1h-6.3zM521.9 363.6l3.1 5.1h-6.3zM522 368.1l3.1 5.1h-6.3zM522 359.6l3.1 5.1h-6.3zM522.1 363.6l3.1 5.1h-6.3zM522.1 367.7l3.1 5.1h-6.3zM522.2 360.8l3.1 5.1h-6.3zM522.2 366.3l3.1 5.1h-6.3zM522.3 370.2l3.1 5.1h-6.3zM522.3 362.6l3.1 5.1h-6.3zM522.4 368.9l3.1 5.1h-6.3zM522.4 359.5l3.1 5.1h-6.3zM522.5 364.9l3.1 5.1h-6.3zM522.5 369l3.1 5.1h-6.3zM522.6 362.5l3.1 5.1h-6.3zM522.6 366.6l3.1 5.1h-6.3zM522.7 358.8l3.1 5.1h-6.3zM522.7 365l3.1 5.1h-6.3zM522.8 366.7l3.1 5.1h-6.3zM522.8 360.5l3.1 5.1h-6.3zM522.9 366.3l3.1 5.1h-6.3zM522.9 370.4l3.1 5.1h-6.3zM522.9 363.7l3.1 5.1h-6.3zM523 366.8l3.1 5.1h-6.3zM523 360.1l3.1 5.1h-6.3zM523.1 365.2l3.1 5.1h-6.3zM523.1 369.6l3.1 5.1h-6.3zM523.2 363.1l3.1 5.1h-6.3zM523.2 366.5l3.1 5.1h-6.3zM523.3 371l3.1 5.1h-6.3zM523.3 366.2l3.1 5.1h-6.3zM523.4 369.7l3.1 5.1h-6.3zM523.4 360.9l3.1 5.1h-6.3zM523.5 366.3l3.1 5.1h-6.3zM523.5 371.4l3.1 5.1h-6.3zM523.6 363.3l3.1 5.1h-6.3zM523.6 368.9l3.1 5.1h-6.3zM523.7 361.3l3.1 5.1h-6.3zM523.7 367.3l3.1 5.1h-6.3zM523.8 372.1l3.1 5.1h-6.3zM523.8 361.9l3.1 5.1h-6.3zM523.9 368.6l3.1 5.1h-6.3zM523.9 372.4l3.1 5.1h-6.3zM524 365.9l3.1 5.1h-6.3zM524 370.3l3.1 5.1h-6.3zM524.1 362.6l3.1 5.1h-6.3zM524.1 368.5l3.1 5.1h-6.3zM524.1 371.4l3.1 5.1h-6.3zM524.2 364.5l3.1 5.1h-6.3zM524.2 370.2l3.1 5.1h-6.3zM524.3 362.5l3.1 5.1h-6.3zM524.3 367.1l3.1 5.1h-6.3zM524.4 371.2l3.1 5.1h-6.3zM524.4 363.3l3.1 5.1h-6.3zM524.5 369l3.1 5.1h-6.3zM524.5 373.7l3.1 5.1h-6.3zM524.6 366.3l3.1 5.1h-6.3zM524.6 372.6l3.1 5.1h-6.3zM524.7 362.3l3.1 5.1h-6.3zM524.7 370.1l3.1 5.1h-6.3zM524.8 371.9l3.1 5.1h-6.3zM524.8 365.6l3.1 5.1h-6.3zM524.9 371.7l3.1 5.1h-6.3zM524.9 374l3.1 5.1h-6.3zM525 368.6l3.1 5.1h-6.3zM525 371.4l3.1 5.1h-6.3zM525 364.5l3.1 5.1h-6.3zM525.1 369.2l3.1 5.1h-6.3zM525.1 375l3.1 5.1h-6.3zM525.2 365.9l3.1 5.1h-6.3zM525.2 372.3l3.1 5.1h-6.3zM525.3 362.2l3.1 5.1h-6.3zM525.3 369.5l3.1 5.1h-6.3zM525.4 374.2l3.1 5.1h-6.3zM525.4 364.6l3.1 5.1h-6.3zM525.5 372.2l3.1 5.1h-6.3zM525.5 375.8l3.1 5.1h-6.3zM525.6 368.8l3.1 5.1h-6.3zM525.6 375l3.1 5.1h-6.3zM525.7 365.3l3.1 5.1h-6.3zM525.7 371.6l3.1 5.1h-6.3zM525.7 376.1l3.1 5.1h-6.3zM525.8 365.7l3.1 5.1h-6.3zM525.8 372l3.1 5.1h-6.3zM525.9 376.6l3.1 5.1h-6.3zM525.9 369.9l3.1 5.1h-6.3zM526 375.9l3.1 5.1h-6.3zM526 365.7l3.1 5.1h-6.3zM526.1 373l3.1 5.1h-6.3zM526.1 376.9l3.1 5.1h-6.3zM526.2 368.3l3.1 5.1h-6.3zM526.2 373.9l3.1 5.1h-6.3zM526.3 365.3l3.1 5.1h-6.3zM526.3 370.1l3.1 5.1h-6.3zM526.3 377.4l3.1 5.1h-6.3zM526.4 366.6l3.1 5.1h-6.3zM526.4 375l3.1 5.1h-6.3zM526.5 376l3.1 5.1h-6.3zM526.5 369.8l3.1 5.1h-6.3zM526.6 376.3l3.1 5.1h-6.3zM526.6 367l3.1 5.1h-6.3zM526.7 373.6l3.1 5.1h-6.3zM526.7 378.3l3.1 5.1h-6.3zM526.8 368.6l3.1 5.1h-6.3zM526.8 374.9l3.1 5.1h-6.3zM526.8 364.6l3.1 5.1h-6.3zM526.9 371.9l3.1 5.1h-6.3zM526.9 375.7l3.1 5.1h-6.3zM527 368.7l3.1 5.1h-6.3zM527 375l3.1 5.1h-6.3zM527.1 377.4l3.1 5.1h-6.3zM527.1 371.4l3.1 5.1h-6.3zM527.2 376.4l3.1 5.1h-6.3zM527.2 366.9l3.1 5.1h-6.3zM527.3 372.4l3.1 5.1h-6.3zM527.3 378.5l3.1 5.1h-6.3zM527.3 370.4l3.1 5.1h-6.3zM527.4 376.1l3.1 5.1h-6.3zM527.4 378.8l3.1 5.1h-6.3zM527.5 371.6l3.1 5.1h-6.3zM527.5 379.3l3.1 5.1h-6.3zM527.6 369.5l3.1 5.1h-6.3zM527.6 375.5l3.1 5.1h-6.3zM527.7 380.8l3.1 5.1h-6.3zM527.7 372.4l3.1 5.1h-6.3zM527.7 377.7l3.1 5.1h-6.3zM527.8 367.1l3.1 5.1h-6.3zM527.8 372.4l3.1 5.1h-6.3zM527.9 378.8l3.1 5.1h-6.3zM527.9 372.4l3.1 5.1h-6.3zM528 377.6l3.1 5.1h-6.3zM528 379.4l3.1 5.1h-6.3zM528.1 372.9l3.1 5.1h-6.3zM528.1 379.2l3.1 5.1h-6.3zM528.1 370.2l3.1 5.1h-6.3zM528.2 375.5l3.1 5.1h-6.3zM528.2 379.1l3.1 5.1h-6.3zM528.3 372.6l3.1 5.1h-6.3zM528.3 378.2l3.1 5.1h-6.3zM528.4 368.5l3.1 5.1h-6.3zM528.4 374.3l3.1 5.1h-6.3zM528.5 380l3.1 5.1h-6.3zM528.5 370.8l3.1 5.1h-6.3zM528.5 377.4l3.1 5.1h-6.3zM528.6 383.1l3.1 5.1h-6.3zM528.6 373.7l3.1 5.1h-6.3zM528.7 380l3.1 5.1h-6.3zM528.7 370.7l3.1 5.1h-6.3zM528.8 376.8l3.1 5.1h-6.3zM528.8 382.1l3.1 5.1h-6.3zM528.9 372.5l3.1 5.1h-6.3zM528.9 380.5l3.1 5.1h-6.3zM528.9 383.7l3.1 5.1h-6.3zM529 377.4l3.1 5.1h-6.3zM529 381.7l3.1 5.1h-6.3zM529.1 371.4l3.1 5.1h-6.3zM529.1 377.5l3.1 5.1h-6.3zM529.2 380.9l3.1 5.1h-6.3zM529.2 374l3.1 5.1h-6.3zM529.3 379.2l3.1 5.1h-6.3zM529.3 368.5l3.1 5.1h-6.3zM529.3 375.9l3.1 5.1h-6.3zM529.4 380.6l3.1 5.1h-6.3zM529.4 372.3l3.1 5.1h-6.3zM529.5 379.2l3.1 5.1h-6.3zM529.5 384.5l3.1 5.1h-6.3zM529.6 376.9l3.1 5.1h-6.3zM529.6 383.4l3.1 5.1h-6.3zM529.6 372.5l3.1 5.1h-6.3zM529.7 378.7l3.1 5.1h-6.3zM529.7 382.8l3.1 5.1h-6.3zM529.8 373.4l3.1 5.1h-6.3zM529.8 382.3l3.1 5.1h-6.3zM529.9 384.6l3.1 5.1h-6.3zM529.9 379.4l3.1 5.1h-6.3zM529.9 383.5l3.1 5.1h-6.3zM530 372.8l3.1 5.1h-6.3zM530 382.3l3.1 5.1h-6.3zM530.1 384.4l3.1 5.1h-6.3zM530.1 378.4l3.1 5.1h-6.3zM530.2 383.3l3.1 5.1h-6.3zM530.2 371.9l3.1 5.1h-6.3zM530.2 378.6l3.1 5.1h-6.3zM530.3 384.2l3.1 5.1h-6.3zM530.3 375l3.1 5.1h-6.3zM530.4 380.6l3.1 5.1h-6.3zM530.4 385.5l3.1 5.1h-6.3zM530.5 378.9l3.1 5.1h-6.3zM530.5 385.2l3.1 5.1h-6.3zM530.5 373.1l3.1 5.1h-6.3zM530.6 379.1l3.1 5.1h-6.3zM530.6 384.7l3.1 5.1h-6.3zM530.7 378.1l3.1 5.1h-6.3zM530.7 382.6l3.1 5.1h-6.3zM530.8 373.1l3.1 5.1h-6.3zM530.8 378.6l3.1 5.1h-6.3zM530.8 384.6l3.1 5.1h-6.3zM530.9 376.9l3.1 5.1h-6.3zM530.9 383.6l3.1 5.1h-6.3zM531 386.6l3.1 5.1h-6.3zM531 377.7l3.1 5.1h-6.3zM531.1 385.7l3.1 5.1h-6.3zM531.1 373.8l3.1 5.1h-6.3zM531.1 381l3.1 5.1h-6.3zM531.2 385.2l3.1 5.1h-6.3zM531.2 378.3l3.1 5.1h-6.3zM531.3 382.7l3.1 5.1h-6.3zM531.3 388.8l3.1 5.1h-6.3zM531.4 383.3l3.1 5.1h-6.3zM531.4 387l3.1 5.1h-6.3zM531.4 376.7l3.1 5.1h-6.3zM531.5 380.5l3.1 5.1h-6.3zM531.5 387.5l3.1 5.1h-6.3zM531.6 379.5l3.1 5.1h-6.3zM531.6 384.9l3.1 5.1h-6.3zM531.6 375.3l3.1 5.1h-6.3zM531.7 383.6l3.1 5.1h-6.3zM531.7 387.7l3.1 5.1h-6.3zM531.8 377.7l3.1 5.1h-6.3zM531.8 383.6l3.1 5.1h-6.3zM531.9 386.7l3.1 5.1h-6.3zM531.9 381l3.1 5.1h-6.3zM531.9 388.6l3.1 5.1h-6.3zM532 375.5l3.1 5.1h-6.3zM532 383.2l3.1 5.1h-6.3zM532.1 386.8l3.1 5.1h-6.3zM532.1 379.2l3.1 5.1h-6.3zM532.2 388.8l3.1 5.1h-6.3zM532.2 376.3l3.1 5.1h-6.3zM532.2 382.1l3.1 5.1h-6.3zM532.3 388.6l3.1 5.1h-6.3zM532.3 380.6l3.1 5.1h-6.3zM532.4 386.1l3.1 5.1h-6.3zM532.4 388.2l3.1 5.1h-6.3zM532.4 381.6l3.1 5.1h-6.3zM532.5 388.2l3.1 5.1h-6.3zM532.5 374.8l3.1 5.1h-6.3zM532.6 384.6l3.1 5.1h-6.3zM532.6 389.5l3.1 5.1h-6.3zM532.6 381.5l3.1 5.1h-6.3zM532.7 385.8l3.1 5.1h-6.3zM532.7 391.6l3.1 5.1h-6.3zM532.8 385.6l3.1 5.1h-6.3zM532.8 389.7l3.1 5.1h-6.3zM532.9 380.2l3.1 5.1h-6.3zM532.9 384.9l3.1 5.1h-6.3zM532.9 392.1l3.1 5.1h-6.3zM533 383l3.1 5.1h-6.3zM533 390l3.1 5.1h-6.3zM533.1 376.6l3.1 5.1h-6.3zM533.1 385.7l3.1 5.1h-6.3zM533.1 390.3l3.1 5.1h-6.3zM533.2 380.9l3.1 5.1h-6.3zM533.2 387.4l3.1 5.1h-6.3zM533.3 393.6l3.1 5.1h-6.3zM533.3 385.6l3.1 5.1h-6.3zM533.3 390.6l3.1 5.1h-6.3zM533.4 379.3l3.1 5.1h-6.3zM533.4 385.3l3.1 5.1h-6.3zM533.5 392.7l3.1 5.1h-6.3zM533.5 383.7l3.1 5.1h-6.3zM533.6 389.3l3.1 5.1h-6.3zM533.6 394.5l3.1 5.1h-6.3zM533.6 386.8l3.1 5.1h-6.3zM533.7 393l3.1 5.1h-6.3zM533.7 383.9l3.1 5.1h-6.3zM533.8 391.1l3.1 5.1h-6.3zM533.8 394.8l3.1 5.1h-6.3zM533.8 386.3l3.1 5.1h-6.3zM533.9 391.4l3.1 5.1h-6.3zM533.9 383.3l3.1 5.1h-6.3zM534 392.4l3.1 5.1h-6.3zM534 396.2l3.1 5.1h-6.3zM534 381.6l3.1 5.1h-6.3zM534.1 391.5l3.1 5.1h-6.3zM534.1 397.5l3.1 5.1h-6.3zM534.2 388.7l3.1 5.1h-6.3zM534.2 394.6l3.1 5.1h-6.3zM534.2 384.1l3.1 5.1h-6.3zM534.3 393.1l3.1 5.1h-6.3zM534.3 396.6l3.1 5.1h-6.3zM534.4 386.3l3.1 5.1h-6.3zM534.4 393.7l3.1 5.1h-6.3zM534.4 382.8l3.1 5.1h-6.3zM534.5 391l3.1 5.1h-6.3zM534.5 397.2l3.1 5.1h-6.3zM534.6 384.8l3.1 5.1h-6.3zM534.6 395.1l3.1 5.1h-6.3zM534.7 389l3.1 5.1h-6.3zM534.8 384.2l3.1 5.1h-6.3zM534.8 392.6l3.1 5.1h-6.3zM534.9 389.6l3.1 5.1h-6.3zM535 391.1l3.1 5.1h-6.3zM535.1 386.4l3.1 5.1h-6.3zM535.1 395.5l3.1 5.1h-6.3zM535.2 390.5l3.1 5.1h-6.3zM535.3 384.6l3.1 5.1h-6.3zM535.3 394.9l3.1 5.1h-6.3zM535.4 390l3.1 5.1h-6.3zM535.4 396.4l3.1 5.1h-6.3zM535.5 393.5l3.1 5.1h-6.3zM535.6 397.8l3.1 5.1h-6.3zM535.6 389l3.1 5.1h-6.3zM535.6 395.6l3.1 5.1h-6.3zM535.7 391.2l3.1 5.1h-6.3zM535.8 395.7l3.1 5.1h-6.3zM535.9 390.1l3.1 5.1h-6.3zM536 395.3l3.1 5.1h-6.3zM536.1 389l3.1 5.1h-6.3zM536.2 392.5l3.1 5.1h-6.3zM536.4 392.6l3.1 5.1h-6.3zM536.5 396.9l3.1 5.1h-6.3zM536.6 389.1l3.1 5.1h-6.3zM536.7 393.4l3.1 5.1h-6.3zM536.9 393.6l3.1 5.1h-6.3zM537 396.5l3.1 5.1h-6.3zM537.2 396.5l3.1 5.1h-6.3zM537.4 394.7l3.1 5.1h-6.3zM537.7 395.6l3.1 5.1h-6.3z" fill="none" stroke="#808080" stroke-width="0.85"/>
<path d="M156.4 15.5L368.4 401.3M151.6 15.5L382.2 401.3M138.8 15.5L423 401.3M111.6 15.5L458.2 401.3M101.4 15.5L523.5 401.3M93 21.2L549.3 401.3" fill="none" stroke="#000" stroke-width="1.15"/>
<path d="M93 15.5H648.7V401.3H93z" fill="none" stroke="#1a1a1a" stroke-width="1"/>
<text class="g d" transform="translate(419.4 42.2) scale(1.2 1.1)">δ</text><text x="431.6" y="42.2">=</text><text x="447.2" y="42.2">0.577350</text>
<text class="g d" transform="translate(419.4 66.6) scale(1.2 1.1)">δ</text><text x="431.6" y="66.6">=</text><text x="447.2" y="66.6">0.645751</text>
<text class="g d" transform="translate(419.4 91) scale(1.2 1.1)">δ</text><text x="431.6" y="91">=</text><text x="447.2" y="91">0.816497</text>
<text class="g d" transform="translate(419.4 115.4) scale(1.2 1.1)">δ</text><text x="431.6" y="115.4">=</text><text x="447.2" y="115.4">1.000000</text>
<text class="g d" transform="translate(419.4 139.8) scale(1.2 1.1)">δ</text><text x="431.6" y="139.8">=</text><text x="447.2" y="139.8">1.224745</text>
<text class="g d" transform="translate(419.4 164.2) scale(1.2 1.1)">δ</text><text x="431.6" y="164.2">=</text><text x="447.2" y="164.2">1.350889</text>
<path d="M583.5 31.1h6.3v6.3h-6.3z" fill="#ff0000"/>
<path d="M583.5 58.6a3.1 3.1 0 1 0 6.3 0a3.1 3.1 0 1 0 -6.3 0z" fill="#00ff00"/>
<path d="M586.6 79.5l3.1 5.1h-6.3z" fill="#0000ff"/>
<path d="M583.5 104.2h6.3v6.3h-6.3z" fill="none" stroke="#ff00ff" stroke-width="0.6"/>
<path d="M586.3 107.1h.6v.6h-.6z" fill="#ff00ff"/>
<path d="M583.5 131.8a3.1 3.1 0 1 0 6.3 0a3.1 3.1 0 1 0 -6.3 0z" fill="none" stroke="#ff4500" stroke-width="0.6"/>
<path d="M586.3 131.5h.6v.6h-.6z" fill="#ff4500"/>
<path d="M586.6 152.7l3.1 5.1h-6.3z" fill="none" stroke="#808080" stroke-width="0.6"/>
<path d="M586.3 155.9h.6v.6h-.6z" fill="#808080"/>
<text x="502.6" y="191.5">ck<tspan class="s" dx="-1.2" dy="-12">-</tspan><tspan class="g" style="font-size:21.5px">γ</tspan></text>
<path d="M554.4 180.5H619.2" stroke="#000" stroke-width="1.1" fill="none"/>
<text x="80" y="26" text-anchor="end">10<tspan class="s" dy="-11.5">0</tspan></text>
<text x="80" y="103.2" text-anchor="end">10<tspan class="s" dy="-11.5">-1</tspan></text>
<text x="80" y="180.3" text-anchor="end">10<tspan class="s" dy="-11.5">-2</tspan></text>
<text x="80" y="257.5" text-anchor="end">10<tspan class="s" dy="-11.5">-3</tspan></text>
<text x="80" y="334.6" text-anchor="end">10<tspan class="s" dy="-11.5">-4</tspan></text>
<text x="80" y="411.8" text-anchor="end">10<tspan class="s" dy="-11.5">-5</tspan></text>
<text x="93.9" y="436.2" text-anchor="middle">10<tspan class="s" dy="-12">0</tspan></text>
<text x="232.8" y="436.2" text-anchor="middle">10<tspan class="s" dy="-12">1</tspan></text>
<text x="371.8" y="436.2" text-anchor="middle">10<tspan class="s" dy="-12">2</tspan></text>
<text x="510.7" y="436.2" text-anchor="middle">10<tspan class="s" dy="-12">3</tspan></text>
<text x="649.6" y="436.2" text-anchor="middle">10<tspan class="s" dy="-12">4</tspan></text>
<text x="371" y="470.8" text-anchor="middle">k</text>
<text transform="translate(13.7 208.5) rotate(-90)" text-anchor="middle">p<tspan class="s" dy="6.4">k</tspan></text>
</svg>
</body></html>
